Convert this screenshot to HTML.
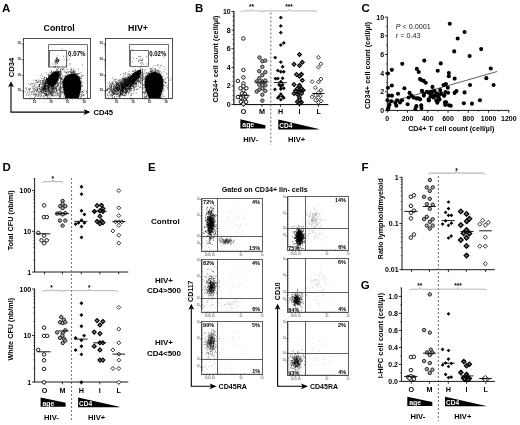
<!DOCTYPE html>
<html><head><meta charset="utf-8"><title>Figure</title>
<style>
html,body{margin:0;padding:0;background:#fff;}
body{width:520px;height:425px;overflow:hidden;font-family:"Liberation Sans",sans-serif;}
svg{display:block;opacity:0.999;font-family:"Liberation Sans",sans-serif;}
</style></head><body>
<svg width="520" height="425" viewBox="0 0 520 425" font-family="Liberation Sans, sans-serif">
<rect width="520" height="425" fill="#fff"/>
<text x="2.00" y="11.90" font-size="11.5" text-anchor="start" fill="#000" font-weight="bold" >A</text>
<text x="195.00" y="11.80" font-size="11.5" text-anchor="start" fill="#000" font-weight="bold" >B</text>
<text x="361.50" y="11.80" font-size="11.5" text-anchor="start" fill="#000" font-weight="bold" >C</text>
<text x="2.40" y="171.00" font-size="11.5" text-anchor="start" fill="#000" font-weight="bold" >D</text>
<text x="148.10" y="171.00" font-size="11.5" text-anchor="start" fill="#000" font-weight="bold" >E</text>
<text x="361.40" y="171.00" font-size="11.5" text-anchor="start" fill="#000" font-weight="bold" >F</text>
<text x="360.70" y="288.70" font-size="11.5" text-anchor="start" fill="#000" font-weight="bold" >G</text>
<rect x="23.5" y="38.5" width="67.00" height="60.00" fill="#fff" stroke="#3a3a3a" stroke-width="0.9"/>
<line x1="21.50" y1="44.00" x2="23.50" y2="44.00" stroke="#111" stroke-width="0.6" />
<text x="21.1" y="44.4" font-size="3.2" font-weight="bold" text-anchor="end" fill="#111" font-family="Liberation Sans, sans-serif">10</text>
<line x1="21.50" y1="59.60" x2="23.50" y2="59.60" stroke="#111" stroke-width="0.6" />
<text x="21.1" y="60.0" font-size="3.2" font-weight="bold" text-anchor="end" fill="#111" font-family="Liberation Sans, sans-serif">10</text>
<line x1="21.50" y1="75.20" x2="23.50" y2="75.20" stroke="#111" stroke-width="0.6" />
<text x="21.1" y="75.6" font-size="3.2" font-weight="bold" text-anchor="end" fill="#111" font-family="Liberation Sans, sans-serif">10</text>
<line x1="21.50" y1="90.80" x2="23.50" y2="90.80" stroke="#111" stroke-width="0.6" />
<text x="21.1" y="91.2" font-size="3.2" font-weight="bold" text-anchor="end" fill="#111" font-family="Liberation Sans, sans-serif">10</text>
<path d="M22.5,39.30h1M22.5,54.90h1M22.5,52.16h1M22.5,50.21h1M22.5,48.70h1M22.5,47.46h1M22.5,46.42h1M22.5,45.51h1M22.5,44.71h1M22.5,70.50h1M22.5,67.76h1M22.5,65.81h1M22.5,64.30h1M22.5,63.06h1M22.5,62.02h1M22.5,61.11h1M22.5,60.31h1M22.5,86.10h1M22.5,83.36h1M22.5,81.41h1M22.5,79.90h1M22.5,78.66h1M22.5,77.62h1M22.5,76.71h1M22.5,75.91h1M22.5,97.01h1M22.5,95.50h1M22.5,94.26h1M22.5,93.22h1M22.5,92.31h1M22.5,91.51h1" stroke="#333" stroke-width="0.4" fill="none"/>
<line x1="34.40" y1="98.50" x2="34.40" y2="100.50" stroke="#111" stroke-width="0.6" />
<text x="34.4" y="103.3" font-size="3.2" font-weight="bold" text-anchor="middle" fill="#222" font-family="Liberation Sans, sans-serif">10</text>
<line x1="50.90" y1="98.50" x2="50.90" y2="100.50" stroke="#111" stroke-width="0.6" />
<text x="50.9" y="103.3" font-size="3.2" font-weight="bold" text-anchor="middle" fill="#222" font-family="Liberation Sans, sans-serif">10</text>
<line x1="67.40" y1="98.50" x2="67.40" y2="100.50" stroke="#111" stroke-width="0.6" />
<text x="67.4" y="103.3" font-size="3.2" font-weight="bold" text-anchor="middle" fill="#222" font-family="Liberation Sans, sans-serif">10</text>
<line x1="83.90" y1="98.50" x2="83.90" y2="100.50" stroke="#111" stroke-width="0.6" />
<text x="83.9" y="103.3" font-size="3.2" font-weight="bold" text-anchor="middle" fill="#222" font-family="Liberation Sans, sans-serif">10</text>
<path d="M25.77,98.5v1M27.83,98.5v1M29.43,98.5v1M30.74,98.5v1M31.84,98.5v1M32.80,98.5v1M33.65,98.5v1M39.37,98.5v1M42.27,98.5v1M44.33,98.5v1M45.93,98.5v1M47.24,98.5v1M48.34,98.5v1M49.30,98.5v1M50.15,98.5v1M55.87,98.5v1M58.77,98.5v1M60.83,98.5v1M62.43,98.5v1M63.74,98.5v1M64.84,98.5v1M65.80,98.5v1M66.65,98.5v1M72.37,98.5v1M75.27,98.5v1M77.33,98.5v1M78.93,98.5v1M80.24,98.5v1M81.34,98.5v1M82.30,98.5v1M83.15,98.5v1M88.87,98.5v1" stroke="#333" stroke-width="0.4" fill="none"/>
<rect x="105.5" y="38.5" width="67.00" height="60.00" fill="#fff" stroke="#3a3a3a" stroke-width="0.9"/>
<line x1="103.50" y1="44.00" x2="105.50" y2="44.00" stroke="#111" stroke-width="0.6" />
<text x="103.1" y="44.4" font-size="3.2" font-weight="bold" text-anchor="end" fill="#111" font-family="Liberation Sans, sans-serif">10</text>
<line x1="103.50" y1="59.60" x2="105.50" y2="59.60" stroke="#111" stroke-width="0.6" />
<text x="103.1" y="60.0" font-size="3.2" font-weight="bold" text-anchor="end" fill="#111" font-family="Liberation Sans, sans-serif">10</text>
<line x1="103.50" y1="75.20" x2="105.50" y2="75.20" stroke="#111" stroke-width="0.6" />
<text x="103.1" y="75.6" font-size="3.2" font-weight="bold" text-anchor="end" fill="#111" font-family="Liberation Sans, sans-serif">10</text>
<line x1="103.50" y1="90.80" x2="105.50" y2="90.80" stroke="#111" stroke-width="0.6" />
<text x="103.1" y="91.2" font-size="3.2" font-weight="bold" text-anchor="end" fill="#111" font-family="Liberation Sans, sans-serif">10</text>
<path d="M104.5,39.30h1M104.5,54.90h1M104.5,52.16h1M104.5,50.21h1M104.5,48.70h1M104.5,47.46h1M104.5,46.42h1M104.5,45.51h1M104.5,44.71h1M104.5,70.50h1M104.5,67.76h1M104.5,65.81h1M104.5,64.30h1M104.5,63.06h1M104.5,62.02h1M104.5,61.11h1M104.5,60.31h1M104.5,86.10h1M104.5,83.36h1M104.5,81.41h1M104.5,79.90h1M104.5,78.66h1M104.5,77.62h1M104.5,76.71h1M104.5,75.91h1M104.5,97.01h1M104.5,95.50h1M104.5,94.26h1M104.5,93.22h1M104.5,92.31h1M104.5,91.51h1" stroke="#333" stroke-width="0.4" fill="none"/>
<line x1="116.40" y1="98.50" x2="116.40" y2="100.50" stroke="#111" stroke-width="0.6" />
<text x="116.4" y="103.3" font-size="3.2" font-weight="bold" text-anchor="middle" fill="#222" font-family="Liberation Sans, sans-serif">10</text>
<line x1="132.90" y1="98.50" x2="132.90" y2="100.50" stroke="#111" stroke-width="0.6" />
<text x="132.9" y="103.3" font-size="3.2" font-weight="bold" text-anchor="middle" fill="#222" font-family="Liberation Sans, sans-serif">10</text>
<line x1="149.40" y1="98.50" x2="149.40" y2="100.50" stroke="#111" stroke-width="0.6" />
<text x="149.4" y="103.3" font-size="3.2" font-weight="bold" text-anchor="middle" fill="#222" font-family="Liberation Sans, sans-serif">10</text>
<line x1="165.90" y1="98.50" x2="165.90" y2="100.50" stroke="#111" stroke-width="0.6" />
<text x="165.9" y="103.3" font-size="3.2" font-weight="bold" text-anchor="middle" fill="#222" font-family="Liberation Sans, sans-serif">10</text>
<path d="M107.77,98.5v1M109.83,98.5v1M111.43,98.5v1M112.74,98.5v1M113.84,98.5v1M114.80,98.5v1M115.65,98.5v1M121.37,98.5v1M124.27,98.5v1M126.33,98.5v1M127.93,98.5v1M129.24,98.5v1M130.34,98.5v1M131.30,98.5v1M132.15,98.5v1M137.87,98.5v1M140.77,98.5v1M142.83,98.5v1M144.43,98.5v1M145.74,98.5v1M146.84,98.5v1M147.80,98.5v1M148.65,98.5v1M154.37,98.5v1M157.27,98.5v1M159.33,98.5v1M160.93,98.5v1M162.24,98.5v1M163.34,98.5v1M164.30,98.5v1M165.15,98.5v1M170.87,98.5v1" stroke="#333" stroke-width="0.4" fill="none"/>
<defs><clipPath id="ca"><rect x="24.0" y="38.6" width="66.7" height="60.0"/></clipPath><clipPath id="cb"><rect x="106.1" y="38.6" width="65.8" height="60.0"/></clipPath><filter id="bl" x="-20%" y="-20%" width="140%" height="140%"><feGaussianBlur stdDeviation="0.45"/></filter></defs>
<g clip-path="url(#ca)">
<path d="M45.3,89.9h.01M48.2,90.4h.01M42.1,87.6h.01M38.7,96.5h.01M41.3,91.2h.01M34.7,84.9h.01M44.2,83.9h.01M57.8,90.2h.01M41.4,92.6h.01M36.9,80.4h.01M51.2,95.0h.01M49.0,91.3h.01M47.8,95.9h.01M36.4,89.1h.01M44.3,87.5h.01M40.8,89.1h.01M32.9,88.6h.01M29.2,94.2h.01M40.6,80.7h.01M33.4,89.9h.01M48.8,93.6h.01M44.6,82.0h.01M44.9,95.1h.01M38.8,84.7h.01M43.9,86.4h.01M45.3,86.3h.01M31.6,92.3h.01M40.1,87.3h.01M35.3,86.9h.01M37.5,89.3h.01M36.1,84.0h.01M44.6,88.8h.01M53.9,91.6h.01M37.7,82.2h.01M44.0,89.3h.01M45.0,85.3h.01M44.2,83.7h.01M35.6,96.4h.01M44.9,86.1h.01M58.9,93.8h.01M30.4,88.5h.01M53.0,89.1h.01M45.7,87.5h.01M38.4,86.5h.01M63.2,87.5h.01M51.4,86.4h.01M35.4,95.0h.01M45.6,88.6h.01M48.5,81.9h.01M43.2,88.9h.01M51.0,87.7h.01M45.8,94.2h.01M49.5,82.6h.01M57.4,85.4h.01M36.7,81.4h.01M47.7,92.0h.01M39.4,84.3h.01M43.5,79.1h.01M34.6,91.5h.01M41.5,96.2h.01M41.1,81.4h.01M31.9,86.1h.01M38.6,92.9h.01M49.5,83.2h.01M26.7,89.8h.01M41.8,93.2h.01M43.1,85.2h.01M56.5,88.4h.01M40.4,83.3h.01M39.2,80.1h.01M57.8,83.7h.01M41.6,91.3h.01M42.3,89.5h.01M48.3,89.0h.01M44.0,89.5h.01M33.8,86.1h.01M42.7,80.8h.01M39.7,84.7h.01M51.7,91.4h.01M46.0,93.4h.01M49.4,82.3h.01M40.1,82.4h.01M53.6,84.7h.01M46.9,96.4h.01M46.1,72.7h.01M34.5,94.8h.01M46.5,82.5h.01M25.8,88.0h.01M41.9,88.2h.01M35.0,83.1h.01M45.0,83.4h.01M38.9,95.3h.01M39.0,88.3h.01M45.5,83.9h.01M46.6,77.8h.01M42.9,87.3h.01M43.2,89.3h.01M51.0,86.9h.01M49.4,87.3h.01M34.4,85.4h.01M44.2,88.8h.01M45.3,88.7h.01M37.3,90.3h.01M46.6,88.2h.01M44.9,85.6h.01M38.8,86.4h.01M43.9,89.0h.01M26.1,88.1h.01M36.0,94.9h.01M48.0,87.6h.01M26.9,95.3h.01M52.1,86.1h.01M28.8,89.2h.01M37.3,89.7h.01M51.0,84.3h.01M46.5,89.9h.01M31.6,92.6h.01M57.6,86.0h.01M42.5,82.0h.01M41.7,86.4h.01M43.2,87.8h.01M33.6,80.2h.01M54.7,86.9h.01M40.5,91.1h.01M44.3,88.3h.01M37.5,88.6h.01M39.0,88.5h.01M32.5,86.8h.01M55.5,84.6h.01M42.9,86.4h.01M53.5,87.2h.01M43.4,82.6h.01M39.3,91.9h.01M42.4,90.5h.01M39.9,89.6h.01M44.4,86.6h.01M42.5,92.8h.01M40.0,80.9h.01M33.7,94.7h.01M38.3,92.2h.01M59.8,86.7h.01M39.7,92.6h.01M34.9,88.0h.01M47.6,86.8h.01M58.1,89.1h.01M33.0,94.7h.01M43.5,90.6h.01M37.3,82.4h.01M30.5,96.0h.01M53.1,93.5h.01M46.2,94.4h.01M46.0,90.1h.01M36.2,82.5h.01M50.3,92.9h.01M40.1,89.5h.01M40.2,75.9h.01M35.9,93.6h.01M32.3,83.9h.01M39.7,86.8h.01M49.3,95.1h.01M44.2,87.1h.01M41.6,91.5h.01M52.7,96.0h.01M42.2,89.2h.01M43.3,88.1h.01M43.4,82.2h.01M51.5,89.7h.01M48.9,90.2h.01M40.3,90.9h.01M34.4,97.5h.01M53.3,86.5h.01M44.8,93.2h.01M50.5,90.8h.01M53.3,92.9h.01M52.8,89.2h.01M52.6,85.2h.01M41.6,92.0h.01M56.7,80.1h.01M31.8,83.2h.01M53.3,90.1h.01M49.2,87.6h.01M53.0,88.6h.01M58.9,75.6h.01M57.4,83.6h.01M34.2,88.5h.01M29.1,88.3h.01M48.9,75.1h.01M35.7,89.6h.01M46.2,93.8h.01M52.8,89.1h.01M29.9,89.6h.01M26.6,93.8h.01M48.3,92.4h.01M41.5,74.2h.01M42.7,88.9h.01M46.1,91.8h.01M38.5,94.6h.01M45.2,95.4h.01M37.0,92.9h.01M31.1,94.4h.01M50.5,92.0h.01M43.7,86.3h.01M48.5,87.8h.01M37.7,96.1h.01M36.1,90.5h.01M37.2,90.8h.01M47.0,89.6h.01M40.1,98.0h.01M48.1,88.0h.01M50.0,96.0h.01M61.2,79.1h.01M32.6,91.3h.01M52.4,85.9h.01M45.3,93.4h.01M46.4,94.6h.01M30.2,84.4h.01M39.7,85.2h.01M51.9,89.1h.01M43.3,85.7h.01M43.5,80.7h.01M44.0,95.2h.01M55.7,88.9h.01M45.5,91.7h.01M25.2,91.6h.01M40.4,96.1h.01M27.5,92.3h.01M39.1,85.4h.01M45.7,90.0h.01M33.8,88.0h.01M37.8,94.8h.01M55.2,87.7h.01M45.1,83.7h.01M45.5,89.3h.01M44.0,87.3h.01M46.6,93.8h.01M51.1,83.8h.01M49.2,85.4h.01M48.6,94.9h.01M39.1,90.9h.01M54.8,87.6h.01M43.6,88.7h.01M43.5,83.8h.01M33.7,92.7h.01M60.6,87.4h.01M56.5,81.2h.01M38.6,81.3h.01M49.2,91.7h.01M47.0,87.7h.01M44.8,90.3h.01M46.6,92.1h.01M35.2,89.7h.01M43.4,92.3h.01M42.2,84.7h.01M54.8,84.3h.01M46.4,82.8h.01M46.6,95.0h.01M58.3,85.3h.01M39.1,86.4h.01M41.1,88.0h.01M28.9,92.1h.01M59.6,89.1h.01M50.3,85.4h.01M48.2,93.6h.01M42.7,89.0h.01M44.2,93.3h.01M57.8,84.2h.01M49.3,85.8h.01M46.2,95.6h.01M40.7,93.0h.01M40.4,94.0h.01M58.2,82.6h.01M48.0,97.9h.01M42.8,92.8h.01M36.3,95.2h.01M41.5,78.4h.01M53.5,90.4h.01M41.3,88.9h.01M43.6,91.8h.01M44.0,93.1h.01M45.5,86.9h.01M28.7,83.7h.01M43.5,91.5h.01M36.5,87.1h.01M52.2,85.2h.01M37.4,87.6h.01M49.5,85.8h.01M55.0,73.2h.01M44.0,96.2h.01M40.1,91.7h.01M48.2,94.5h.01M36.4,91.4h.01M46.4,78.4h.01M61.2,79.6h.01M41.0,83.2h.01M42.5,86.8h.01M36.0,91.9h.01M44.9,77.6h.01M34.6,93.7h.01M33.2,83.6h.01M56.5,87.6h.01M37.0,90.5h.01M54.0,84.8h.01M58.1,85.1h.01M46.5,85.5h.01M48.9,84.5h.01M59.6,75.5h.01M43.2,89.3h.01M47.2,95.9h.01M58.9,89.3h.01M37.5,90.7h.01M40.5,89.8h.01M47.1,86.8h.01M43.3,90.0h.01M46.2,86.2h.01M47.5,87.9h.01M40.9,83.9h.01M44.1,87.1h.01M44.2,88.8h.01M49.0,86.6h.01M62.0,87.5h.01M51.2,91.4h.01M43.9,83.0h.01M30.0,91.8h.01M49.7,93.0h.01M28.5,95.0h.01M32.9,92.9h.01M54.6,95.3h.01M50.2,83.8h.01M43.8,89.8h.01M29.4,90.2h.01M43.9,97.8h.01M36.3,80.2h.01M49.6,84.0h.01M63.9,80.9h.01M47.8,92.0h.01M39.1,94.0h.01M42.3,80.8h.01M44.5,93.4h.01M34.6,90.1h.01M45.1,85.2h.01M35.8,94.5h.01M51.3,75.5h.01M53.9,84.5h.01M38.7,82.1h.01M48.5,84.4h.01M44.4,91.3h.01M42.1,91.6h.01M33.4,91.0h.01M30.3,84.2h.01M42.0,84.6h.01M45.1,82.0h.01M54.3,89.0h.01M29.0,89.6h.01M35.4,80.3h.01M56.2,93.4h.01M51.3,94.5h.01M54.1,89.7h.01M52.6,93.2h.01M55.8,91.9h.01M52.2,90.1h.01M59.4,90.3h.01M54.5,92.2h.01M54.4,92.1h.01M54.5,90.0h.01M43.3,90.5h.01M51.0,95.9h.01M50.4,92.7h.01M53.2,95.1h.01M43.8,96.2h.01M61.8,94.1h.01M44.7,89.1h.01M41.7,94.8h.01M50.3,90.9h.01M47.7,98.0h.01M52.6,85.2h.01M48.2,88.6h.01M55.3,94.3h.01M47.7,94.8h.01M51.8,94.6h.01M57.9,91.8h.01M46.0,94.3h.01M49.2,91.7h.01M47.0,95.6h.01M56.7,84.1h.01M45.1,94.2h.01M49.1,88.4h.01M51.8,95.4h.01M46.1,91.2h.01M46.3,88.9h.01M49.1,93.3h.01M39.4,88.8h.01M43.3,88.8h.01M49.5,86.5h.01M52.9,91.9h.01M50.9,93.7h.01M41.4,95.6h.01M49.2,91.5h.01M56.8,95.7h.01M55.3,92.1h.01M51.5,91.7h.01M46.7,94.0h.01M55.8,95.7h.01M48.5,90.8h.01M45.0,91.1h.01M47.2,91.4h.01M60.7,92.3h.01M53.3,88.8h.01M59.0,95.6h.01M49.1,90.6h.01M57.6,93.6h.01M48.4,89.1h.01M51.1,93.3h.01M56.6,90.5h.01M51.5,93.3h.01M59.3,95.4h.01M49.1,89.7h.01M41.6,90.7h.01M50.3,93.5h.01M52.1,92.2h.01M52.7,92.2h.01M59.9,91.0h.01M53.9,85.7h.01M56.9,91.2h.01M45.4,84.2h.01M57.2,93.3h.01M64.6,89.5h.01M56.6,89.5h.01M53.5,91.2h.01M52.9,93.0h.01M62.7,87.0h.01M46.4,85.9h.01M51.3,88.3h.01M54.8,84.9h.01M56.5,88.6h.01M49.4,97.6h.01M53.8,88.3h.01M50.3,94.3h.01M52.7,87.2h.01M51.2,93.0h.01M45.2,90.9h.01M51.9,91.8h.01M57.3,94.0h.01M50.6,92.7h.01M56.0,92.4h.01M45.6,88.6h.01M53.1,94.0h.01M45.6,91.1h.01M58.8,94.9h.01M65.9,91.8h.01M50.7,85.1h.01M56.4,91.0h.01M52.7,95.1h.01M52.6,90.8h.01M61.3,89.2h.01M44.1,91.1h.01M58.3,87.2h.01M51.7,92.4h.01M53.1,96.0h.01M48.0,88.1h.01M53.7,88.9h.01M56.4,90.6h.01M52.2,95.5h.01M54.9,89.1h.01M48.9,89.6h.01M39.2,95.1h.01M57.4,95.0h.01M56.2,90.7h.01M52.9,88.1h.01M52.4,86.6h.01M58.2,89.6h.01M49.3,84.2h.01M47.8,94.6h.01M50.9,89.8h.01M59.1,93.7h.01M59.2,96.1h.01M48.2,88.0h.01M45.4,95.0h.01M59.6,96.1h.01M51.4,89.4h.01M44.2,88.7h.01M49.8,91.6h.01M57.6,86.4h.01M59.2,97.1h.01M49.4,83.6h.01M46.9,82.2h.01M48.5,84.3h.01M48.8,83.8h.01M58.6,77.1h.01M54.5,66.6h.01M49.0,84.6h.01M54.6,72.4h.01M58.4,68.4h.01M54.7,86.9h.01M61.7,78.6h.01M52.5,72.7h.01M50.9,83.6h.01M58.5,83.9h.01M59.3,74.4h.01M46.8,88.7h.01M46.5,85.5h.01M48.1,83.9h.01M45.9,83.0h.01M45.7,88.3h.01M46.2,91.0h.01M49.7,83.1h.01M50.5,86.4h.01M45.9,83.6h.01M57.4,79.7h.01M57.4,69.5h.01M56.5,80.0h.01M48.0,74.9h.01M51.7,71.0h.01M53.8,71.5h.01M54.5,73.3h.01M55.4,84.7h.01M51.4,86.6h.01M54.8,88.9h.01M50.3,89.3h.01M50.5,85.7h.01M46.2,83.3h.01M46.2,83.8h.01M49.5,83.7h.01M50.3,83.4h.01M56.2,86.3h.01M50.2,85.2h.01M45.5,87.0h.01M45.3,81.7h.01M45.8,89.3h.01M43.9,88.8h.01M45.1,81.1h.01M53.0,73.5h.01M55.0,84.4h.01M45.1,79.3h.01M45.7,87.6h.01M55.6,66.3h.01M48.6,81.0h.01M49.0,87.8h.01M47.9,83.8h.01M49.9,88.0h.01M56.9,79.6h.01M52.4,85.6h.01M56.5,81.3h.01M45.5,82.7h.01M47.2,78.6h.01M43.9,87.7h.01M49.0,86.7h.01M49.3,92.9h.01M49.2,77.1h.01M48.0,78.9h.01M44.9,84.3h.01M55.5,82.1h.01M46.0,89.9h.01M51.7,73.4h.01M51.6,84.3h.01M58.7,77.6h.01M45.6,87.6h.01M50.0,84.7h.01M49.8,86.8h.01M58.8,77.0h.01M56.4,80.5h.01M59.8,75.7h.01M55.1,82.9h.01M50.0,75.8h.01M46.6,86.3h.01M56.6,69.7h.01M56.2,81.9h.01M57.7,77.3h.01M44.3,79.0h.01M60.3,75.0h.01M49.3,81.9h.01M57.7,82.8h.01M48.1,83.7h.01M45.5,83.4h.01M45.7,85.8h.01M49.6,87.8h.01M54.1,73.1h.01M56.1,71.7h.01M63.0,79.3h.01M47.7,82.9h.01M57.9,79.3h.01M51.4,84.9h.01M55.2,82.4h.01M45.2,86.9h.01M49.0,82.0h.01M53.3,85.6h.01M48.9,90.1h.01M51.4,88.8h.01M49.2,77.1h.01M53.9,72.2h.01M48.2,78.7h.01M55.6,83.4h.01M41.5,90.8h.01M55.0,82.5h.01M60.7,71.5h.01M58.6,79.9h.01M53.6,86.3h.01M50.2,74.7h.01M54.8,72.2h.01M57.6,72.6h.01M46.3,80.5h.01M48.5,86.2h.01M42.7,80.6h.01M58.7,72.4h.01M59.5,77.9h.01M49.9,84.9h.01M47.4,88.2h.01M48.1,78.9h.01M51.7,88.1h.01M58.6,80.3h.01M47.2,79.2h.01M59.5,74.6h.01M55.6,88.9h.01M49.7,87.2h.01M59.1,76.9h.01M58.1,74.8h.01M57.7,79.3h.01M57.3,67.2h.01M49.2,83.3h.01M46.4,90.3h.01M51.3,75.3h.01M42.6,84.4h.01M46.4,81.6h.01M45.9,80.8h.01M52.3,90.0h.01M49.0,77.4h.01M44.7,87.2h.01M57.7,77.2h.01M57.5,81.4h.01M44.9,84.6h.01M51.5,74.7h.01M51.6,74.3h.01M54.0,72.9h.01M59.5,73.1h.01M51.5,72.4h.01M47.2,89.2h.01M55.5,72.9h.01M42.3,83.4h.01M59.9,77.5h.01M43.8,81.0h.01M52.8,92.3h.01M52.8,73.8h.01M51.8,86.9h.01M46.2,89.3h.01M51.6,75.4h.01M54.8,73.1h.01M39.6,85.2h.01M61.4,81.5h.01M61.3,71.2h.01M57.1,82.5h.01M49.5,91.2h.01M57.2,81.2h.01M56.1,82.6h.01M44.4,85.1h.01M43.8,81.0h.01M46.7,79.4h.01M52.9,88.8h.01M60.0,75.9h.01M48.4,85.2h.01M52.1,86.4h.01M47.9,80.0h.01M49.3,82.9h.01M49.4,84.7h.01M58.1,80.3h.01M58.1,73.3h.01M47.8,81.9h.01M50.9,76.0h.01M52.0,87.7h.01M55.7,87.2h.01M62.8,68.1h.01M58.8,74.6h.01M48.1,84.3h.01M46.1,92.6h.01M49.3,82.2h.01M44.1,82.9h.01M43.9,84.7h.01M48.8,85.4h.01M51.1,84.0h.01M52.2,73.3h.01M52.6,88.1h.01M58.6,75.6h.01M53.8,85.3h.01M47.0,79.9h.01M54.4,84.7h.01M45.9,85.8h.01M44.3,77.5h.01M55.8,88.4h.01M54.2,85.2h.01M44.1,86.4h.01M59.0,71.7h.01M47.7,85.4h.01M49.8,76.2h.01M59.6,72.3h.01M57.5,78.9h.01M62.8,77.3h.01M46.0,85.3h.01M48.7,75.6h.01M51.8,74.6h.01M58.1,78.7h.01M53.9,73.3h.01M56.2,73.0h.01M47.8,89.6h.01M49.0,81.8h.01M58.4,73.1h.01M60.4,74.1h.01M56.2,87.8h.01M45.7,84.8h.01M51.3,85.2h.01M54.1,71.6h.01M60.9,76.4h.01M48.1,94.7h.01M52.8,86.9h.01M59.7,83.4h.01M57.4,78.9h.01M50.0,91.6h.01M59.7,72.1h.01M54.3,83.7h.01M47.4,82.5h.01M49.8,82.9h.01M59.4,71.0h.01M48.6,87.5h.01M41.5,87.8h.01M53.9,87.9h.01M51.8,86.6h.01M58.8,74.9h.01M50.2,85.1h.01M51.0,73.4h.01M65.7,76.4h.01M48.5,76.1h.01M49.5,90.9h.01M53.5,72.5h.01M58.6,78.9h.01M48.0,85.1h.01M44.5,88.8h.01M57.5,80.8h.01M46.7,83.2h.01M57.5,77.4h.01M44.6,84.4h.01M49.4,87.6h.01M44.0,78.4h.01M49.9,83.4h.01M44.7,85.2h.01M52.2,88.0h.01M52.4,74.7h.01M55.5,83.0h.01M59.4,78.2h.01M58.4,73.3h.01M53.4,74.2h.01M47.5,86.5h.01M48.9,91.0h.01M48.5,85.4h.01M60.6,78.5h.01M47.4,83.5h.01M49.4,75.7h.01M52.9,85.5h.01M48.2,85.9h.01M63.1,76.1h.01M50.0,83.7h.01M51.5,71.3h.01M47.6,85.7h.01M48.4,84.0h.01M45.7,80.9h.01M48.6,85.0h.01M52.3,74.4h.01M52.0,74.4h.01M55.0,83.1h.01M67.0,65.3h.01M57.9,70.9h.01M51.2,87.0h.01M46.2,77.4h.01M46.3,83.8h.01M50.2,85.0h.01M56.9,82.1h.01M48.1,82.6h.01M49.0,89.0h.01M50.2,88.6h.01M47.6,84.1h.01M42.7,89.2h.01M55.7,86.2h.01M55.8,72.7h.01M55.5,73.0h.01M61.1,78.2h.01M56.9,81.0h.01M57.8,73.9h.01M50.9,85.1h.01M45.2,82.8h.01M42.8,92.6h.01M49.3,83.9h.01M50.2,72.4h.01M65.8,65.9h.01M48.6,83.9h.01M48.0,81.4h.01M48.3,87.1h.01M55.6,72.7h.01M45.1,85.9h.01M48.0,85.8h.01M52.7,85.4h.01M53.9,72.8h.01M55.4,83.4h.01M47.2,79.9h.01M49.6,75.3h.01M46.6,81.7h.01M44.7,80.0h.01M48.1,78.9h.01M56.3,72.6h.01M46.7,82.1h.01M52.7,72.9h.01M47.8,81.4h.01M59.2,73.5h.01M54.1,73.1h.01M51.0,84.1h.01M48.4,75.4h.01M54.0,83.9h.01M58.9,77.2h.01M54.8,82.9h.01M56.6,81.3h.01M42.1,89.7h.01M62.4,69.5h.01M42.7,82.5h.01M48.7,73.4h.01M55.3,72.7h.01M45.5,80.4h.01M47.5,90.1h.01M49.5,82.8h.01M46.3,83.8h.01M47.6,83.6h.01M52.2,91.4h.01M46.9,83.5h.01M55.8,83.8h.01M55.3,67.5h.01M57.4,79.0h.01M61.7,72.7h.01M55.9,70.9h.01M49.7,82.8h.01M46.3,81.6h.01M48.8,78.0h.01M49.2,89.2h.01M44.7,87.3h.01M61.7,78.4h.01M49.2,84.8h.01M53.6,87.3h.01M51.5,75.2h.01M58.1,78.9h.01M55.4,72.1h.01M58.2,77.0h.01M56.8,70.2h.01M45.7,81.6h.01M76.5,74.8h.01M77.6,96.6h.01M62.3,83.1h.01M81.5,85.1h.01M74.1,71.9h.01M80.6,87.9h.01M61.5,91.6h.01M72.1,75.4h.01M62.0,84.0h.01M79.5,94.5h.01M63.0,84.9h.01M77.2,73.4h.01M82.6,91.6h.01M63.6,81.9h.01M81.1,89.3h.01M77.0,74.5h.01M66.8,96.6h.01M75.0,74.0h.01M68.1,74.8h.01M76.1,77.1h.01M70.4,97.1h.01M68.3,97.6h.01M78.8,90.9h.01M78.7,76.7h.01M79.2,86.7h.01M66.3,97.1h.01M58.0,85.2h.01M79.6,91.2h.01M68.4,96.9h.01M64.6,93.9h.01M79.9,89.6h.01M64.8,75.0h.01M66.4,95.0h.01M73.7,97.3h.01M75.7,73.8h.01M66.7,94.4h.01M65.3,97.6h.01M66.3,96.2h.01M64.9,76.5h.01M81.6,81.0h.01M74.6,73.9h.01M65.0,82.4h.01M83.8,95.6h.01M73.3,71.5h.01M80.1,84.6h.01M78.4,94.8h.01M73.5,68.9h.01M66.4,72.3h.01M81.9,94.5h.01M76.2,96.8h.01M64.4,86.7h.01M86.3,91.9h.01M67.2,78.3h.01M65.5,95.6h.01M76.5,77.4h.01M65.2,87.9h.01M82.3,95.4h.01M63.2,93.2h.01M72.1,97.1h.01M80.5,85.1h.01M81.0,76.6h.01M74.9,75.0h.01M65.9,75.6h.01M74.5,97.4h.01M63.5,91.3h.01M79.2,87.3h.01M64.0,89.5h.01M65.5,89.2h.01M79.0,89.8h.01M78.0,79.7h.01M64.7,84.3h.01M61.9,92.3h.01M74.1,72.1h.01M72.0,97.6h.01M80.5,85.1h.01M78.1,80.0h.01M78.7,93.0h.01M81.1,94.8h.01M72.3,97.9h.01M70.6,72.1h.01M67.0,75.9h.01M79.9,91.6h.01M64.5,93.0h.01M79.0,93.7h.01M59.9,90.2h.01M65.1,92.9h.01M74.6,96.7h.01M84.1,90.4h.01M67.2,76.4h.01M64.2,86.2h.01M68.4,98.0h.01M66.4,76.2h.01M71.8,73.4h.01M62.6,87.8h.01M68.0,71.7h.01M79.7,73.4h.01M61.4,78.0h.01M63.1,69.6h.01M79.9,96.7h.01M64.0,94.4h.01M78.9,87.9h.01M59.3,88.2h.01M64.2,83.4h.01M83.8,75.4h.01M59.9,91.2h.01M79.0,90.7h.01M76.4,75.6h.01M66.7,95.0h.01M65.6,72.2h.01M77.2,74.9h.01M73.4,71.2h.01M64.8,80.8h.01M71.6,70.9h.01M69.3,97.8h.01M81.5,96.0h.01M70.8,63.9h.01M71.7,72.6h.01M78.5,73.6h.01M68.6,72.9h.01M78.1,94.0h.01M70.0,75.1h.01M69.7,76.6h.01M62.8,79.1h.01M66.2,77.4h.01M64.1,82.1h.01M72.5,97.7h.01M73.9,97.1h.01M66.1,94.0h.01M66.4,76.7h.01M80.2,87.3h.01M65.3,92.8h.01M63.3,83.8h.01M61.3,73.8h.01M64.4,87.1h.01M62.1,79.2h.01M70.6,74.4h.01M81.1,91.6h.01M64.0,85.9h.01M65.3,95.5h.01M64.6,84.2h.01M65.4,92.7h.01M78.2,91.9h.01M60.2,89.2h.01M82.4,91.4h.01M80.2,87.1h.01M70.9,98.0h.01M72.5,74.6h.01M69.9,75.1h.01M79.0,76.4h.01M65.4,80.6h.01M76.9,97.9h.01M68.4,77.0h.01M71.7,97.2h.01M81.2,92.1h.01M61.5,87.2h.01M65.5,89.6h.01M81.7,86.6h.01M81.4,78.7h.01M72.6,72.4h.01M75.6,75.5h.01M81.3,82.4h.01M86.5,93.1h.01M58.8,76.7h.01M80.6,88.0h.01M80.6,97.4h.01M60.1,86.9h.01M66.5,72.4h.01M76.9,77.3h.01M65.4,88.6h.01M81.8,74.8h.01M75.3,73.5h.01M65.4,96.1h.01M73.9,71.0h.01M79.1,95.1h.01M76.5,75.6h.01M80.9,78.1h.01M71.9,75.5h.01M79.4,91.5h.01M74.6,76.5h.01M79.5,87.2h.01M75.6,73.0h.01M83.9,95.4h.01M71.4,69.4h.01M65.1,93.6h.01M73.2,76.1h.01M80.3,78.5h.01M83.3,92.5h.01M74.0,73.8h.01M73.3,70.0h.01M79.9,94.3h.01M67.0,73.3h.01M62.4,85.8h.01M71.9,70.3h.01M66.2,94.4h.01M66.3,67.8h.01M63.6,80.9h.01M74.8,71.7h.01M65.1,81.2h.01M77.3,75.3h.01M70.3,72.2h.01M78.8,91.7h.01M71.6,74.6h.01M71.4,96.8h.01M78.4,92.3h.01M78.3,91.0h.01M73.4,73.0h.01M63.8,82.7h.01M78.9,81.4h.01M78.0,74.4h.01M78.5,69.0h.01M74.1,73.2h.01M70.0,97.3h.01M62.5,82.8h.01M66.7,78.7h.01M70.0,71.6h.01M79.0,96.0h.01M79.8,90.4h.01M63.6,85.3h.01M69.7,75.4h.01M71.0,74.9h.01M76.4,97.8h.01M68.0,76.9h.01M63.7,87.0h.01M79.6,92.8h.01M76.7,77.1h.01M81.9,93.6h.01M82.8,91.9h.01M66.3,95.4h.01M73.7,74.5h.01M78.9,77.1h.01M81.7,76.5h.01M70.8,75.9h.01M74.9,97.2h.01M72.4,97.7h.01M71.7,75.7h.01M62.5,90.4h.01M64.9,84.6h.01M77.4,95.2h.01M62.7,92.3h.01M64.1,88.8h.01M79.3,76.9h.01M63.5,81.9h.01M70.0,71.7h.01M73.4,72.4h.01M80.5,92.7h.01M68.3,77.5h.01M69.8,76.5h.01M80.8,78.3h.01M60.9,93.6h.01M79.3,78.2h.01M64.5,70.8h.01M76.3,77.6h.01M78.8,90.4h.01M61.6,78.3h.01M78.5,81.3h.01M78.6,95.6h.01M78.4,93.2h.01M62.0,82.8h.01M80.0,86.7h.01M65.5,79.7h.01M71.3,75.1h.01M80.1,88.8h.01M71.6,73.3h.01M63.4,87.6h.01M75.3,75.6h.01M75.5,97.2h.01M73.6,96.6h.01M62.3,80.9h.01M63.5,92.6h.01M72.1,72.0h.01M79.7,80.6h.01M61.5,88.3h.01M61.9,69.0h.01M64.8,82.2h.01M80.8,85.1h.01M71.1,68.2h.01M64.5,85.6h.01M64.4,79.1h.01M72.3,74.4h.01M62.1,81.3h.01M71.6,96.6h.01M67.2,60.7h.01M66.0,76.8h.01M78.5,96.1h.01M71.2,97.2h.01M78.4,91.0h.01M74.1,96.8h.01M82.8,83.0h.01M86.3,90.8h.01M69.5,64.0h.01M65.2,94.5h.01M65.1,90.1h.01M72.0,72.0h.01M60.2,85.5h.01M64.2,90.8h.01M80.7,87.7h.01M77.0,77.9h.01M65.7,97.4h.01M74.2,72.9h.01M59.4,88.1h.01M75.6,70.7h.01M65.4,94.2h.01M68.9,71.9h.01M67.6,69.4h.01M81.3,82.6h.01M76.3,97.8h.01M79.6,86.9h.01M79.0,86.0h.01M70.5,69.6h.01M78.6,93.9h.01M64.5,85.7h.01M81.4,96.3h.01M79.7,87.5h.01M70.4,96.8h.01M60.1,92.1h.01M83.6,94.3h.01M63.2,81.5h.01M67.9,75.3h.01M79.8,91.5h.01M74.8,75.2h.01M78.9,81.7h.01M82.5,86.0h.01M67.0,75.1h.01M64.5,87.2h.01M82.3,85.8h.01M64.6,89.1h.01M62.7,92.1h.01M63.8,96.9h.01M59.2,92.6h.01M79.7,90.0h.01M76.8,73.8h.01M77.7,97.6h.01M59.2,82.7h.01M82.2,75.3h.01M60.8,91.1h.01M63.5,82.8h.01M56.4,83.4h.01M62.2,75.3h.01M61.7,83.5h.01M64.1,72.1h.01M61.5,74.4h.01M52.6,74.3h.01M81.0,72.6h.01M42.8,76.4h.01M59.7,75.3h.01M71.8,72.9h.01M78.7,73.5h.01M57.6,77.3h.01M79.9,83.5h.01M79.7,90.0h.01M79.5,82.0h.01M69.9,76.5h.01M57.2,78.9h.01M66.9,72.2h.01M62.9,70.1h.01M45.0,87.6h.01M79.8,86.2h.01M44.4,85.0h.01M56.6,86.4h.01M57.8,85.1h.01M56.1,64.1h.01M55.3,60.9h.01M55.3,64.1h.01M57.4,63.3h.01M58.2,61.3h.01M55.0,62.7h.01M59.1,61.0h.01M58.7,59.8h.01M56.3,60.7h.01M56.2,59.7h.01M56.7,62.1h.01M58.1,61.2h.01M56.3,62.2h.01M55.4,62.6h.01M57.3,55.9h.01M54.1,61.7h.01M57.0,58.1h.01M58.3,61.5h.01M57.2,59.7h.01M57.8,61.4h.01M57.4,63.5h.01M57.7,58.3h.01M57.0,61.5h.01M55.7,61.1h.01M56.5,58.0h.01M56.7,62.3h.01M58.4,61.3h.01M58.9,60.3h.01M57.3,60.0h.01M55.8,66.7h.01M55.9,60.5h.01M56.6,58.1h.01M58.6,59.6h.01M57.2,60.6h.01M56.7,60.5h.01M55.8,61.1h.01M57.9,59.4h.01M57.2,62.1h.01M56.7,60.4h.01M56.9,58.9h.01M53.8,66.2h.01M58.2,67.0h.01M70.5,56.5h.01M66.8,59.5h.01M58.6,76.8h.01M62.2,49.2h.01M64.2,59.8h.01M82.4,65.1h.01M55.8,59.2h.01M66.7,63.2h.01M69.3,59.4h.01M52.5,64.0h.01M63.9,68.3h.01M63.6,56.2h.01M57.3,59.6h.01M67.7,57.6h.01" fill="none" stroke="#000" stroke-width="0.62" stroke-linecap="round" opacity="1.0"/>
<g filter="url(#bl)">
<path d="M58.8,71.4 L58.9,76.0 L56.4,82.0 L52.8,86.8 L48.8,83.6 L46.4,79.6 L51.2,74.6 L55.6,71.9Z" fill="#000" stroke="#000" stroke-width="0.8" stroke-linejoin="round"/>
<path d="M72.5,73.8 L76.4,74.8 L79.2,77.6 L80.8,82.8 L80.5,89.4 L79.0,95.1 L77.8,99.5 L66.0,99.5 L64.4,92.7 L63.2,86.1 L63.2,81.1 L64.8,77.6 L68.6,74.8Z" fill="#000" stroke="#000" stroke-width="0.8" stroke-linejoin="round"/>
</g></g>
<path d="M48.5,67.5 V44.5 H87.5 V98.5 H60.5 V68.6" fill="none" stroke="#4a4a4a" stroke-width="0.8"/>
<rect x="49.5" y="50.5" width="17.0" height="16.5" fill="none" stroke="#4a4a4a" stroke-width="0.8"/>
<text x="68.10" y="56.30" font-size="6.4" text-anchor="start" fill="#000" font-weight="bold" textLength="17.50" lengthAdjust="spacingAndGlyphs" >0.07%</text>
<g clip-path="url(#cb)">
<path d="M130.2,87.8h.01M125.3,78.0h.01M124.8,87.7h.01M135.3,83.6h.01M140.0,80.5h.01M138.5,82.6h.01M126.5,88.3h.01M140.6,83.1h.01M127.0,86.6h.01M127.3,80.9h.01M138.5,77.2h.01M123.2,85.2h.01M130.3,76.2h.01M127.8,78.3h.01M132.9,88.9h.01M123.9,84.3h.01M130.9,80.9h.01M125.6,82.5h.01M121.9,86.4h.01M124.3,81.3h.01M124.8,80.1h.01M122.2,84.9h.01M124.5,87.3h.01M133.5,87.5h.01M130.1,85.9h.01M125.1,93.0h.01M127.5,85.7h.01M120.9,83.5h.01M124.8,85.8h.01M132.1,71.5h.01M124.8,92.4h.01M123.5,88.2h.01M133.0,84.0h.01M122.8,85.8h.01M125.2,80.0h.01M126.0,83.0h.01M119.9,94.6h.01M122.9,95.4h.01M122.0,85.1h.01M128.1,82.7h.01M120.6,87.8h.01M128.8,77.7h.01M128.6,84.4h.01M128.3,84.7h.01M128.7,78.0h.01M126.3,77.6h.01M133.3,83.0h.01M126.8,80.2h.01M126.8,83.2h.01M124.0,84.7h.01M129.1,80.2h.01M125.6,81.0h.01M124.5,79.0h.01M136.7,83.6h.01M131.8,81.5h.01M126.0,93.5h.01M127.5,86.1h.01M125.4,85.5h.01M127.5,88.6h.01M125.3,84.5h.01M124.4,87.3h.01M131.4,85.5h.01M122.9,79.0h.01M121.6,86.7h.01M120.1,88.4h.01M124.0,78.5h.01M130.6,84.4h.01M128.0,80.0h.01M124.2,79.6h.01M125.7,83.4h.01M117.4,84.2h.01M128.3,79.3h.01M127.9,83.5h.01M128.9,82.1h.01M140.2,82.6h.01M131.4,82.5h.01M121.8,83.3h.01M124.9,83.3h.01M120.8,86.4h.01M120.8,88.3h.01M129.1,80.1h.01M141.2,79.8h.01M128.9,82.9h.01M127.3,82.6h.01M123.5,85.9h.01M133.6,84.7h.01M127.3,85.9h.01M134.4,83.0h.01M125.5,72.7h.01M121.2,90.1h.01M134.5,82.6h.01M133.6,87.1h.01M127.3,84.1h.01M123.8,79.7h.01M138.2,77.8h.01M133.9,71.5h.01M122.6,85.1h.01M128.2,87.6h.01M135.6,82.4h.01M125.0,88.7h.01M123.7,82.5h.01M125.8,95.4h.01M135.2,73.0h.01M128.3,77.3h.01M132.7,85.1h.01M128.0,85.2h.01M129.0,86.3h.01M125.7,85.0h.01M123.1,79.6h.01M127.0,88.2h.01M136.8,80.3h.01M127.6,82.1h.01M127.8,84.8h.01M121.9,94.6h.01M132.4,81.7h.01M123.0,87.5h.01M119.0,84.4h.01M119.4,87.8h.01M130.6,81.7h.01M130.5,80.5h.01M129.7,82.4h.01M125.0,88.8h.01M122.9,88.5h.01M128.3,85.9h.01M125.9,85.9h.01M127.3,83.9h.01M122.8,80.5h.01M134.1,83.8h.01M129.7,76.9h.01M122.9,90.8h.01M123.8,86.8h.01M129.5,86.8h.01M126.5,84.8h.01M128.6,79.1h.01M122.4,92.2h.01M128.5,83.4h.01M124.7,90.1h.01M130.7,84.7h.01M127.1,85.1h.01M128.6,76.7h.01M127.9,81.9h.01M130.7,88.7h.01M118.4,90.6h.01M126.8,89.3h.01M131.1,80.6h.01M122.1,88.0h.01M120.6,83.2h.01M131.4,84.7h.01M125.8,87.0h.01M126.5,83.5h.01M127.7,79.1h.01M129.0,83.6h.01M130.1,87.5h.01M127.1,79.9h.01M125.5,87.2h.01M130.2,75.3h.01M128.5,74.1h.01M124.3,85.3h.01M128.7,82.1h.01M129.1,80.3h.01M114.5,92.2h.01M127.7,86.3h.01M139.2,78.7h.01M122.7,91.3h.01M128.0,86.3h.01M123.9,73.3h.01M129.8,78.1h.01M121.5,89.5h.01M126.1,78.4h.01M135.8,83.2h.01M123.7,88.1h.01M127.7,81.2h.01M130.1,78.8h.01M118.2,93.3h.01M127.6,82.0h.01M128.1,77.7h.01M126.5,82.2h.01M128.6,82.6h.01M141.1,68.9h.01M130.6,86.6h.01M122.5,83.4h.01M133.7,86.2h.01M129.4,86.0h.01M125.9,81.4h.01M129.0,83.3h.01M135.0,82.9h.01M129.8,81.3h.01M121.3,83.9h.01M128.7,83.4h.01M135.2,86.0h.01M124.1,80.6h.01M135.5,80.0h.01M124.4,85.9h.01M129.8,80.5h.01M138.3,79.7h.01M130.0,84.4h.01M131.3,76.9h.01M129.1,89.0h.01M120.0,84.6h.01M133.0,82.4h.01M130.6,82.3h.01M133.8,83.9h.01M129.7,83.7h.01M132.7,84.2h.01M126.7,84.4h.01M133.2,83.4h.01M133.1,88.3h.01M123.4,92.0h.01M126.5,86.7h.01M131.2,82.9h.01M125.8,79.3h.01M120.7,83.8h.01M132.2,83.2h.01M129.6,76.0h.01M125.2,91.6h.01M131.9,81.6h.01M131.3,81.3h.01M124.8,87.8h.01M121.6,87.1h.01M131.8,84.9h.01M126.1,89.7h.01M137.8,81.1h.01M125.8,84.5h.01M135.9,70.6h.01M125.8,87.9h.01M132.2,83.7h.01M120.4,92.8h.01M136.3,82.4h.01M129.0,83.2h.01M131.2,85.4h.01M124.8,87.3h.01M127.2,77.1h.01M123.1,85.5h.01M123.9,85.1h.01M128.1,85.6h.01M121.8,84.9h.01M121.2,85.0h.01M125.6,85.3h.01M127.8,84.0h.01M131.1,85.1h.01M134.3,81.9h.01M128.2,84.4h.01M127.6,84.3h.01M129.5,82.9h.01M136.0,83.7h.01M127.4,73.9h.01M126.4,84.1h.01M120.4,90.8h.01M141.2,77.9h.01M131.3,76.5h.01M131.0,82.6h.01M132.4,83.7h.01M125.9,83.4h.01M120.8,81.5h.01M126.9,83.0h.01M125.8,80.5h.01M127.6,86.6h.01M120.8,85.8h.01M131.2,88.3h.01M125.3,82.4h.01M128.3,81.3h.01M117.5,87.3h.01M129.0,84.4h.01M131.5,86.9h.01M123.1,86.5h.01M123.1,91.2h.01M129.2,78.8h.01M126.1,86.4h.01M135.9,86.8h.01M124.5,80.7h.01M134.4,83.6h.01M129.9,86.9h.01M118.6,83.3h.01M125.9,79.4h.01M125.7,81.4h.01M134.1,82.8h.01M126.2,83.2h.01M127.0,83.7h.01M134.5,81.4h.01M133.4,83.9h.01M136.5,83.8h.01M130.3,80.4h.01M127.9,80.5h.01M131.1,83.8h.01M141.0,75.2h.01M125.3,77.6h.01M128.5,84.1h.01M124.8,80.6h.01M127.4,80.7h.01M131.8,83.8h.01M122.3,84.6h.01M120.8,90.7h.01M129.7,80.7h.01M125.6,93.3h.01M130.1,81.5h.01M127.5,79.2h.01M132.2,75.8h.01M131.1,81.7h.01M126.6,84.6h.01M125.7,89.3h.01M125.8,85.9h.01M129.6,82.9h.01M120.3,90.9h.01M129.2,82.1h.01M129.7,83.5h.01M133.6,82.3h.01M129.1,85.8h.01M128.5,80.9h.01M122.3,80.8h.01M125.4,82.3h.01M121.6,89.7h.01M124.8,75.9h.01M130.8,83.2h.01M129.7,79.9h.01M122.4,83.3h.01M139.1,82.0h.01M128.3,88.9h.01M132.2,85.6h.01M127.3,89.4h.01M131.6,76.1h.01M134.5,89.4h.01M128.1,79.6h.01M130.7,80.4h.01M126.9,80.0h.01M127.5,84.2h.01M128.7,77.7h.01M127.2,84.1h.01M131.5,85.1h.01M126.5,85.6h.01M121.8,87.3h.01M129.1,88.9h.01M125.1,82.1h.01M131.1,85.0h.01M121.8,89.2h.01M129.8,82.3h.01M119.2,90.9h.01M124.2,86.2h.01M125.2,82.5h.01M117.7,89.2h.01M121.5,90.4h.01M129.6,81.8h.01M127.2,79.4h.01M127.2,81.2h.01M124.1,83.7h.01M128.7,83.6h.01M125.3,85.9h.01M124.7,80.5h.01M128.9,71.1h.01M129.7,81.9h.01M128.8,76.1h.01M128.3,79.4h.01M122.0,83.2h.01M134.8,80.7h.01M127.4,79.0h.01M125.0,86.9h.01M124.6,84.1h.01M131.0,76.1h.01M124.3,79.9h.01M130.2,83.6h.01M131.2,84.1h.01M125.7,92.6h.01M130.0,80.4h.01M130.8,77.5h.01M140.2,81.9h.01M124.0,78.9h.01M137.8,77.5h.01M124.1,84.5h.01M132.1,75.8h.01M130.4,81.2h.01M130.1,80.0h.01M128.6,80.6h.01M136.6,79.4h.01M129.5,77.9h.01M126.7,86.1h.01M130.0,79.2h.01M125.8,85.3h.01M127.5,84.7h.01M125.3,81.4h.01M124.7,82.7h.01M128.9,79.1h.01M139.1,77.6h.01M136.6,80.9h.01M131.9,73.6h.01M122.9,78.2h.01M130.5,77.8h.01M129.1,79.7h.01M125.3,79.0h.01M123.4,79.6h.01M127.7,85.6h.01M126.2,81.4h.01M120.0,82.7h.01M135.9,86.4h.01M129.2,83.0h.01M128.8,81.3h.01M131.9,83.0h.01M130.8,78.0h.01M129.4,88.6h.01M125.5,79.0h.01M119.0,84.9h.01M118.5,90.0h.01M118.6,87.5h.01M133.9,81.2h.01M109.3,88.3h.01M118.1,90.7h.01M126.0,88.6h.01M125.5,79.2h.01M129.6,79.6h.01M127.8,91.1h.01M141.3,81.9h.01M120.3,90.5h.01M123.8,84.3h.01M129.4,82.8h.01M121.4,89.8h.01M120.1,85.7h.01M117.8,83.5h.01M118.1,88.8h.01M115.6,94.1h.01M117.1,84.1h.01M112.5,96.0h.01M127.3,88.9h.01M109.1,87.9h.01M139.6,81.0h.01M136.6,81.9h.01M132.9,86.5h.01M122.5,90.4h.01M116.4,83.1h.01M130.8,77.7h.01M126.2,90.9h.01M127.7,85.8h.01M118.0,90.9h.01M132.1,85.3h.01M119.1,95.9h.01M122.1,81.5h.01M111.0,96.7h.01M116.6,85.4h.01M128.2,88.7h.01M121.6,94.0h.01M117.4,82.4h.01M130.0,86.4h.01M122.0,86.0h.01M132.5,82.2h.01M125.9,80.9h.01M125.6,81.4h.01M111.8,94.3h.01M114.0,94.4h.01M129.1,82.0h.01M112.3,83.9h.01M129.5,90.0h.01M121.0,89.5h.01M125.2,81.2h.01M115.2,87.0h.01M125.8,87.2h.01M130.1,79.8h.01M128.1,92.9h.01M128.8,86.8h.01M121.9,82.4h.01M114.4,85.8h.01M109.6,93.2h.01M137.5,80.4h.01M117.5,87.6h.01M136.0,83.8h.01M123.0,88.1h.01M114.7,97.2h.01M123.5,85.9h.01M124.1,81.7h.01M127.3,85.4h.01M133.7,90.2h.01M115.0,87.2h.01M127.0,85.8h.01M128.3,83.4h.01M121.5,89.5h.01M116.0,90.8h.01M114.2,86.3h.01M128.6,83.9h.01M130.8,88.7h.01M118.1,94.1h.01M113.8,94.8h.01M134.2,87.1h.01M110.1,90.1h.01M123.7,85.0h.01M118.0,93.3h.01M107.2,87.1h.01M123.9,86.4h.01M118.6,79.7h.01M133.9,81.2h.01M140.0,77.4h.01M119.6,82.4h.01M132.1,86.5h.01M130.2,80.9h.01M118.3,87.0h.01M115.7,88.4h.01M122.3,94.1h.01M122.0,85.0h.01M121.0,88.7h.01M119.9,81.9h.01M117.5,86.8h.01M128.5,83.5h.01M132.5,82.1h.01M119.1,85.6h.01M112.3,91.6h.01M125.8,93.5h.01M111.0,90.8h.01M117.7,88.3h.01M132.2,81.8h.01M145.4,91.1h.01M128.5,92.8h.01M115.4,92.5h.01M130.3,87.8h.01M117.2,88.4h.01M135.4,83.5h.01M129.1,85.4h.01M110.7,87.4h.01M108.6,88.5h.01M130.6,86.7h.01M123.1,88.5h.01M115.0,79.8h.01M126.4,86.2h.01M120.4,94.1h.01M106.7,89.9h.01M129.8,85.7h.01M115.6,82.7h.01M116.3,93.5h.01M110.7,86.2h.01M123.1,81.0h.01M116.1,88.0h.01M131.6,95.3h.01M119.9,85.2h.01M129.6,78.6h.01M120.6,90.1h.01M118.2,89.9h.01M112.3,84.8h.01M126.3,78.2h.01M146.8,76.9h.01M113.6,92.3h.01M115.3,91.5h.01M127.4,90.7h.01M124.5,79.3h.01M116.4,85.5h.01M123.4,86.2h.01M111.5,95.2h.01M121.4,89.9h.01M129.5,82.6h.01M123.0,91.3h.01M122.4,91.8h.01M130.8,97.2h.01M131.5,83.1h.01M129.4,92.5h.01M115.2,84.1h.01M125.0,83.7h.01M129.7,81.4h.01M116.6,87.1h.01M111.0,87.2h.01M126.2,83.3h.01M125.8,85.7h.01M130.0,82.3h.01M124.7,89.6h.01M117.8,88.5h.01M119.5,88.3h.01M117.1,96.2h.01M116.0,91.1h.01M118.8,89.3h.01M119.2,88.3h.01M132.0,84.1h.01M114.2,93.0h.01M121.4,83.8h.01M120.1,93.6h.01M137.3,89.4h.01M126.9,91.1h.01M119.3,86.0h.01M127.1,77.9h.01M122.9,85.0h.01M119.5,89.0h.01M136.5,86.1h.01M128.4,84.2h.01M136.3,80.7h.01M134.6,90.1h.01M128.2,81.9h.01M125.8,91.1h.01M115.9,94.0h.01M126.7,79.3h.01M124.1,88.0h.01M127.6,82.7h.01M121.6,83.0h.01M114.8,81.2h.01M112.7,83.3h.01M129.3,86.7h.01M132.8,81.6h.01M121.2,89.0h.01M125.1,81.2h.01M133.6,81.6h.01M116.1,88.3h.01M118.0,81.4h.01M111.7,83.2h.01M133.1,85.5h.01M125.4,86.9h.01M118.0,84.4h.01M109.8,91.4h.01M122.7,90.3h.01M133.9,91.9h.01M119.4,84.1h.01M120.7,90.8h.01M131.5,94.1h.01M113.4,90.8h.01M125.8,93.1h.01M123.9,74.3h.01M119.2,95.4h.01M116.5,89.3h.01M122.2,78.3h.01M123.6,90.6h.01M122.9,92.1h.01M126.6,91.5h.01M126.8,91.4h.01M115.8,89.5h.01M116.7,85.7h.01M126.0,83.7h.01M132.0,83.6h.01M134.5,84.8h.01M115.7,87.4h.01M131.9,84.0h.01M130.5,88.5h.01M123.4,88.4h.01M130.6,95.3h.01M133.1,93.7h.01M113.9,87.6h.01M125.9,79.7h.01M120.3,82.4h.01M122.4,89.9h.01M130.7,79.5h.01M128.0,80.2h.01M114.7,88.8h.01M122.2,91.2h.01M124.4,84.8h.01M111.5,89.5h.01M131.5,88.4h.01M123.3,89.2h.01M125.2,88.4h.01M127.3,90.0h.01M123.8,87.8h.01M119.4,85.3h.01M138.5,86.3h.01M120.5,91.9h.01M117.4,84.0h.01M114.3,96.6h.01M130.0,78.9h.01M127.2,91.1h.01M127.3,86.5h.01M123.2,82.8h.01M120.4,82.6h.01M116.5,87.9h.01M117.0,89.1h.01M125.5,82.7h.01M125.1,89.0h.01M117.2,89.1h.01M119.4,88.4h.01M112.3,81.9h.01M134.6,84.3h.01M111.5,85.1h.01M125.5,74.1h.01M121.8,86.4h.01M130.4,88.7h.01M122.5,94.3h.01M112.4,97.8h.01M126.3,91.1h.01M125.4,92.6h.01M117.7,90.7h.01M129.8,81.9h.01M127.0,88.7h.01M120.6,92.6h.01M119.6,89.4h.01M111.3,90.1h.01M119.3,80.8h.01M141.0,83.7h.01M118.2,90.5h.01M124.5,80.2h.01M119.1,88.9h.01M130.7,87.7h.01M126.6,85.2h.01M122.6,91.0h.01M110.3,95.3h.01M116.9,82.1h.01M132.3,82.2h.01M122.1,89.7h.01M129.6,89.0h.01M121.6,94.3h.01M126.5,85.4h.01M126.9,89.1h.01M120.6,93.8h.01M122.9,95.2h.01M124.1,82.1h.01M118.0,87.1h.01M124.4,81.5h.01M122.9,91.0h.01M124.0,92.4h.01M120.0,92.7h.01M117.4,91.4h.01M123.1,76.5h.01M118.4,85.4h.01M128.7,88.6h.01M129.7,77.7h.01M124.0,85.5h.01M110.9,90.9h.01M118.9,92.8h.01M130.9,85.5h.01M121.7,88.8h.01M116.2,87.4h.01M122.6,87.2h.01M127.0,84.9h.01M126.5,89.3h.01M128.1,84.3h.01M118.4,93.7h.01M118.5,80.5h.01M123.2,92.8h.01M122.8,86.3h.01M108.5,97.8h.01M121.5,88.0h.01M114.0,94.4h.01M136.6,89.3h.01M136.7,82.4h.01M129.4,83.9h.01M119.8,89.2h.01M128.4,77.2h.01M121.4,86.8h.01M127.7,84.1h.01M115.0,86.2h.01M118.4,87.8h.01M124.6,79.0h.01M139.5,87.8h.01M123.8,88.9h.01M144.0,88.5h.01M143.7,75.3h.01M111.4,85.6h.01M123.5,88.2h.01M113.2,82.5h.01M122.6,88.3h.01M118.0,85.4h.01M122.3,85.7h.01M131.3,85.2h.01M130.8,84.4h.01M128.3,94.1h.01M124.3,89.6h.01M122.2,81.0h.01M125.8,90.7h.01M125.8,79.5h.01M123.5,87.3h.01M125.4,80.1h.01M111.7,87.1h.01M131.6,90.2h.01M136.3,79.5h.01M123.8,83.6h.01M111.3,88.6h.01M133.5,81.7h.01M123.0,94.0h.01M119.7,82.2h.01M129.0,87.6h.01M123.9,79.0h.01M132.6,81.7h.01M130.0,89.9h.01M124.3,86.5h.01M107.0,90.5h.01M113.4,87.0h.01M123.3,82.4h.01M127.8,82.4h.01M115.4,90.4h.01M120.4,93.9h.01M128.5,89.6h.01M107.4,89.9h.01M106.8,89.3h.01M122.6,90.5h.01M122.5,78.4h.01M118.9,86.3h.01M121.8,82.0h.01M111.3,86.4h.01M129.0,86.4h.01M120.0,80.1h.01M124.0,82.2h.01M127.4,82.2h.01M119.3,88.7h.01M127.7,78.6h.01M134.8,87.9h.01M126.0,84.3h.01M133.4,81.9h.01M117.8,87.1h.01M129.5,81.3h.01M123.9,81.8h.01M117.3,94.5h.01M123.0,87.9h.01M118.9,87.8h.01M120.5,92.6h.01M122.9,83.5h.01M132.7,86.4h.01M120.8,87.8h.01M122.9,82.6h.01M112.9,94.2h.01M121.8,80.1h.01M133.4,86.2h.01M128.3,80.6h.01M127.7,87.1h.01M121.3,94.1h.01M116.5,92.0h.01M121.6,84.4h.01M112.7,90.5h.01M113.0,88.7h.01M128.9,79.0h.01M114.3,84.6h.01M137.6,81.7h.01M112.8,93.1h.01M124.0,78.0h.01M113.9,89.8h.01M125.5,88.4h.01M115.2,90.2h.01M122.1,82.3h.01M123.7,91.5h.01M117.8,82.8h.01M128.3,88.0h.01M137.7,89.1h.01M115.4,79.7h.01M130.7,85.2h.01M124.4,87.8h.01M123.4,87.7h.01M139.4,77.1h.01M115.7,82.7h.01M109.2,92.4h.01M121.6,89.8h.01M120.4,84.5h.01M152.0,71.7h.01M125.3,83.6h.01M137.5,81.4h.01M133.6,83.2h.01M119.6,87.5h.01M127.2,85.5h.01M120.4,74.5h.01M125.9,88.6h.01M129.4,91.2h.01M109.2,84.9h.01M115.8,86.1h.01M126.4,86.9h.01M129.0,89.1h.01M117.0,92.0h.01M122.7,93.0h.01M122.2,86.7h.01M122.7,88.8h.01M129.4,86.4h.01M123.4,84.5h.01M126.4,91.2h.01M113.0,93.3h.01M116.4,93.8h.01M125.2,84.0h.01M112.2,95.6h.01M123.7,81.4h.01M118.6,90.2h.01M112.8,77.9h.01M126.8,80.5h.01M119.0,91.7h.01M115.7,87.2h.01M118.1,89.3h.01M121.2,79.6h.01M107.3,95.3h.01M123.0,86.6h.01M121.9,89.1h.01M131.3,85.3h.01M122.4,93.7h.01M131.4,76.6h.01M114.2,88.7h.01M124.7,92.2h.01M113.2,93.0h.01M113.8,88.0h.01M120.2,90.6h.01M130.2,84.6h.01M130.8,86.8h.01M116.0,81.6h.01M125.8,81.4h.01M121.2,90.5h.01M123.7,85.4h.01M124.9,87.7h.01M131.1,93.1h.01M117.8,87.1h.01M122.5,88.0h.01M124.0,83.7h.01M122.9,83.7h.01M116.7,88.6h.01M116.2,79.1h.01M131.2,90.2h.01M124.6,85.6h.01M134.5,87.9h.01M139.6,81.4h.01M122.5,90.1h.01M114.5,93.2h.01M122.3,81.2h.01M142.9,85.2h.01M125.6,81.1h.01M113.7,91.1h.01M133.8,83.1h.01M114.5,97.8h.01M121.1,85.7h.01M121.7,90.1h.01M140.4,80.6h.01M121.4,89.3h.01M116.3,84.7h.01M117.2,90.4h.01M128.7,77.2h.01M126.7,81.3h.01M110.4,94.4h.01M127.2,82.2h.01M126.8,81.1h.01M116.5,83.8h.01M125.1,86.6h.01M124.7,84.4h.01M119.5,88.7h.01M118.2,87.6h.01M120.6,96.4h.01M120.3,85.6h.01M109.5,82.2h.01M122.9,87.3h.01M111.2,91.0h.01M123.9,87.1h.01M120.0,80.1h.01M116.6,94.4h.01M129.8,84.1h.01M138.4,80.9h.01M131.2,76.2h.01M113.0,92.6h.01M133.1,82.7h.01M126.9,91.7h.01M122.0,85.1h.01M116.5,83.2h.01M123.2,87.2h.01M128.0,86.9h.01M118.1,83.3h.01M117.6,88.1h.01M119.4,86.9h.01M127.7,84.8h.01M137.1,79.1h.01M113.4,86.3h.01M123.0,86.4h.01M113.2,93.0h.01M117.6,85.2h.01M115.1,90.5h.01M116.4,88.2h.01M128.4,91.3h.01M118.6,84.4h.01M121.5,87.8h.01M120.1,86.0h.01M114.0,93.0h.01M106.7,90.0h.01M123.5,89.2h.01M125.6,90.3h.01M120.4,82.8h.01M120.8,91.4h.01M119.7,86.5h.01M116.8,89.1h.01M119.2,89.3h.01M117.9,93.5h.01M120.3,92.7h.01M112.6,91.7h.01M121.2,87.4h.01M114.3,88.5h.01M119.4,96.6h.01M131.4,85.2h.01M122.9,90.3h.01M122.5,90.3h.01M112.2,91.2h.01M108.1,88.6h.01M113.8,79.9h.01M117.0,87.9h.01M112.2,95.5h.01M118.6,90.8h.01M120.9,80.1h.01M121.8,89.3h.01M108.0,83.9h.01M117.4,90.9h.01M111.4,86.0h.01M121.2,92.8h.01M129.1,84.7h.01M130.1,90.3h.01M119.5,89.8h.01M124.8,83.8h.01M130.2,90.7h.01M116.7,84.5h.01M120.3,95.3h.01M123.8,89.2h.01M116.3,85.9h.01M112.2,83.3h.01M112.8,97.8h.01M118.4,96.1h.01M111.7,85.7h.01M124.5,95.9h.01M114.9,91.3h.01M128.2,87.3h.01M126.4,88.1h.01M107.8,90.7h.01M126.5,94.6h.01M114.4,91.3h.01M126.3,80.7h.01M117.7,93.8h.01M121.6,84.7h.01M112.9,89.4h.01M119.2,85.9h.01M120.3,89.8h.01M116.6,91.9h.01M120.5,90.6h.01M109.5,89.0h.01M121.0,86.1h.01M108.9,95.2h.01M122.0,88.9h.01M122.2,85.8h.01M113.8,94.1h.01M140.3,86.3h.01M115.2,87.3h.01M119.6,95.5h.01M111.9,91.6h.01M127.6,84.5h.01M113.7,89.4h.01M125.7,93.0h.01M109.5,86.3h.01M120.8,95.4h.01M115.2,93.4h.01M124.3,87.7h.01M116.3,96.1h.01M121.4,92.0h.01M108.7,92.4h.01M124.4,95.3h.01M123.1,88.2h.01M114.4,89.7h.01M110.4,89.6h.01M118.3,83.5h.01M123.0,93.0h.01M113.3,91.2h.01M116.4,90.7h.01M124.6,94.9h.01M122.8,86.7h.01M117.2,89.9h.01M112.1,92.2h.01M110.3,89.5h.01M113.1,90.4h.01M123.3,92.4h.01M122.0,89.3h.01M120.9,95.2h.01M127.5,85.1h.01M115.6,91.3h.01M113.8,84.6h.01M114.7,90.1h.01M131.4,84.6h.01M120.4,92.8h.01M121.4,91.6h.01M119.5,97.6h.01M136.2,93.0h.01M127.0,91.5h.01M123.0,86.2h.01M110.0,85.2h.01M121.4,89.3h.01M114.7,89.0h.01M117.6,87.3h.01M119.1,88.6h.01M113.0,83.8h.01M123.6,95.4h.01M129.1,83.1h.01M125.0,85.9h.01M119.8,92.1h.01M126.6,92.5h.01M126.5,92.5h.01M116.2,89.0h.01M113.5,86.1h.01M122.4,87.2h.01M110.5,83.4h.01M124.8,94.8h.01M109.9,91.7h.01M110.5,88.1h.01M117.3,86.2h.01M107.5,94.3h.01M119.0,96.3h.01M120.9,84.0h.01M107.7,89.3h.01M123.5,81.4h.01M114.2,93.6h.01M122.1,90.0h.01M114.4,90.1h.01M113.7,88.9h.01M113.4,94.5h.01M111.0,84.2h.01M130.6,91.0h.01M125.6,89.7h.01M107.4,89.7h.01M123.2,85.2h.01M120.4,94.1h.01M121.0,87.5h.01M124.2,91.2h.01M115.5,87.8h.01M119.0,88.7h.01M109.8,86.2h.01M119.2,89.1h.01M117.3,89.8h.01M112.6,89.1h.01M111.2,88.0h.01M119.0,83.0h.01M123.4,83.2h.01M119.7,85.5h.01M112.1,93.8h.01M123.1,86.9h.01M118.6,86.2h.01M122.8,92.0h.01M127.0,90.9h.01M110.8,88.0h.01M116.5,87.5h.01M114.1,93.6h.01M111.8,92.7h.01M132.1,83.9h.01M125.1,89.8h.01M121.9,94.1h.01M113.2,87.1h.01M127.1,92.2h.01M118.9,91.7h.01M115.9,86.0h.01M119.8,94.3h.01M121.5,93.3h.01M117.2,84.4h.01M116.1,85.3h.01M138.9,78.0h.01M144.4,70.9h.01M136.8,79.3h.01M125.7,84.8h.01M131.3,81.5h.01M132.4,75.2h.01M132.4,83.6h.01M129.5,80.0h.01M130.1,74.9h.01M124.6,83.9h.01M140.4,78.4h.01M131.2,81.0h.01M135.9,72.8h.01M135.4,80.9h.01M129.4,77.7h.01M130.3,76.2h.01M129.9,87.1h.01M127.6,76.1h.01M130.3,86.0h.01M135.7,71.2h.01M135.5,84.0h.01M129.5,74.3h.01M140.2,67.4h.01M140.3,76.5h.01M130.0,81.8h.01M130.0,81.1h.01M126.8,80.8h.01M144.5,73.3h.01M134.9,81.0h.01M138.1,80.7h.01M129.8,82.4h.01M127.0,82.0h.01M139.1,70.8h.01M138.3,71.6h.01M131.9,73.6h.01M135.5,69.4h.01M130.8,78.0h.01M141.2,75.3h.01M129.2,81.6h.01M141.9,77.0h.01M129.1,80.4h.01M134.2,71.9h.01M129.1,88.6h.01M138.4,76.5h.01M131.1,85.8h.01M126.9,79.5h.01M140.1,77.5h.01M129.1,74.1h.01M131.1,77.0h.01M140.4,79.8h.01M139.5,71.3h.01M133.2,84.2h.01M126.3,83.7h.01M138.6,75.9h.01M137.6,71.9h.01M126.4,84.0h.01M137.3,72.2h.01M130.5,78.2h.01M129.9,82.7h.01M130.4,80.2h.01M130.9,77.2h.01M128.4,81.9h.01M122.4,85.1h.01M135.4,81.3h.01M132.3,82.4h.01M140.1,71.3h.01M136.1,84.8h.01M132.9,82.0h.01M142.4,73.6h.01M141.9,78.1h.01M132.8,82.3h.01M139.4,77.0h.01M138.3,79.0h.01M136.8,84.1h.01M137.7,79.0h.01M129.6,79.9h.01M126.1,82.7h.01M132.9,81.8h.01M131.3,80.5h.01M133.7,73.8h.01M137.4,70.2h.01M129.1,80.1h.01M137.0,72.1h.01M140.3,78.9h.01M140.1,75.7h.01M128.5,78.4h.01M135.3,72.8h.01M140.5,83.0h.01M139.2,76.3h.01M135.0,72.6h.01M130.0,82.2h.01M130.6,81.2h.01M128.1,80.0h.01M133.0,70.3h.01M141.4,74.3h.01M130.0,76.3h.01M138.4,79.2h.01M130.6,82.7h.01M140.0,76.7h.01M163.5,79.4h.01M146.7,97.3h.01M151.4,97.2h.01M152.1,69.0h.01M155.5,70.5h.01M156.6,97.6h.01M156.9,74.7h.01M146.2,92.9h.01M142.4,77.9h.01M158.9,95.2h.01M163.8,85.7h.01M157.3,74.6h.01M154.4,72.9h.01M147.0,96.3h.01M157.0,96.5h.01M160.5,88.8h.01M144.7,86.8h.01M146.1,89.1h.01M160.4,97.8h.01M160.7,88.2h.01M164.2,96.3h.01M152.6,97.1h.01M144.2,97.9h.01M146.9,73.7h.01M163.1,87.1h.01M146.3,90.5h.01M154.8,97.9h.01M142.6,75.5h.01M161.8,73.2h.01M149.9,95.6h.01M153.5,97.3h.01M149.1,75.5h.01M155.7,74.8h.01M147.5,88.2h.01M146.8,78.4h.01M143.6,78.1h.01M159.4,94.8h.01M144.9,93.0h.01M154.0,96.7h.01M162.8,80.4h.01M162.0,86.8h.01M150.4,97.6h.01M159.8,94.3h.01M159.2,72.8h.01M165.9,78.1h.01M161.5,91.3h.01M152.8,70.3h.01M154.2,96.6h.01M147.5,91.1h.01M146.6,85.2h.01M142.9,84.2h.01M144.2,87.5h.01M147.0,91.0h.01M159.1,70.8h.01M149.8,75.2h.01M146.7,96.1h.01M147.6,74.1h.01M146.3,83.3h.01M163.6,84.8h.01M156.7,73.1h.01M146.0,90.8h.01M158.7,95.0h.01M146.4,88.9h.01M163.0,76.1h.01M147.4,87.9h.01M146.0,83.4h.01M145.4,96.7h.01M157.3,96.5h.01M147.9,75.9h.01M153.6,97.4h.01M153.9,73.9h.01M160.9,88.1h.01M152.9,70.3h.01M143.0,93.2h.01M156.2,70.2h.01M150.3,96.1h.01M152.9,97.5h.01M143.4,92.6h.01M142.9,87.7h.01M163.8,88.8h.01M162.1,79.4h.01M151.7,97.8h.01M150.8,68.3h.01M162.5,85.5h.01M158.6,96.1h.01M146.0,90.0h.01M146.7,64.0h.01M154.9,72.5h.01M148.9,95.8h.01M148.1,91.9h.01M156.0,74.2h.01M159.5,97.0h.01M144.3,97.2h.01M161.2,82.4h.01M146.9,88.5h.01M143.1,91.8h.01M146.6,90.3h.01M155.8,73.4h.01M153.2,74.8h.01M168.2,84.0h.01M164.1,66.8h.01M162.7,85.4h.01M163.7,81.1h.01M144.5,85.2h.01M153.4,71.7h.01M148.0,77.4h.01M152.0,70.3h.01M145.3,89.6h.01M140.7,87.4h.01M163.0,76.8h.01M162.7,87.9h.01M160.1,97.8h.01M159.9,94.4h.01M162.0,87.0h.01M161.2,82.3h.01M160.1,65.2h.01M152.1,73.7h.01M165.8,86.4h.01M151.0,68.8h.01M144.5,92.2h.01M147.8,90.7h.01M144.9,79.2h.01M155.2,69.8h.01M151.8,72.5h.01M160.0,67.5h.01M149.9,97.6h.01M162.8,96.8h.01M151.1,70.2h.01M154.3,74.5h.01M146.4,89.7h.01M156.2,71.7h.01M155.7,68.6h.01M154.2,68.6h.01M145.4,86.4h.01M161.3,88.6h.01M148.8,74.9h.01M151.6,71.8h.01M155.5,96.4h.01M144.4,94.0h.01M140.9,76.1h.01M144.3,96.0h.01M153.1,73.0h.01M147.8,93.6h.01M146.0,82.7h.01M146.3,75.1h.01M147.1,93.6h.01M168.8,94.3h.01M159.7,95.0h.01M142.3,85.0h.01M160.7,90.3h.01M142.7,86.0h.01M145.3,69.6h.01M150.4,96.0h.01M170.0,80.3h.01M165.5,82.6h.01M152.8,71.5h.01M148.3,92.8h.01M165.2,82.2h.01M164.4,81.8h.01M147.3,79.0h.01M152.3,96.5h.01M147.3,91.9h.01M146.0,76.2h.01M138.6,81.7h.01M151.8,73.1h.01M166.3,82.5h.01M154.7,96.8h.01M157.7,65.2h.01M149.3,96.5h.01M145.8,92.1h.01M155.4,71.8h.01M160.2,91.7h.01M155.3,96.4h.01M148.1,90.8h.01M160.5,75.3h.01M154.0,73.9h.01M159.3,76.0h.01M149.3,74.1h.01M147.0,86.4h.01M147.4,91.0h.01M145.4,77.8h.01M160.7,74.3h.01M149.4,93.3h.01M146.1,86.0h.01M145.8,89.7h.01M160.7,88.7h.01M152.3,75.0h.01M153.2,97.1h.01M160.7,96.4h.01M154.4,71.1h.01M151.1,71.0h.01M167.0,85.7h.01M156.4,96.4h.01M148.0,77.9h.01M146.2,73.1h.01M157.1,70.8h.01M153.0,97.8h.01M163.3,71.8h.01M145.3,87.4h.01M148.4,77.5h.01M147.5,90.8h.01M146.2,90.0h.01M159.0,97.2h.01M138.0,78.5h.01M146.7,95.5h.01M157.9,96.4h.01M162.1,91.7h.01M146.4,81.1h.01M153.3,96.6h.01M160.3,75.0h.01M164.6,90.2h.01M158.9,71.6h.01M141.7,78.7h.01M160.2,97.5h.01M160.4,74.1h.01M147.6,87.9h.01M147.8,92.1h.01M161.4,81.0h.01M161.9,90.6h.01M146.4,87.2h.01M141.8,80.9h.01M159.9,95.3h.01M161.5,84.1h.01M146.0,78.7h.01M147.3,93.1h.01M149.6,97.0h.01M158.0,71.7h.01M146.2,86.7h.01M146.6,76.6h.01M158.4,74.7h.01M149.6,96.3h.01M154.8,69.7h.01M149.6,96.7h.01M159.0,95.9h.01M147.0,96.0h.01M167.5,77.4h.01M149.5,94.3h.01M159.1,74.0h.01M144.2,90.8h.01M155.0,65.4h.01M149.3,75.2h.01M164.1,85.5h.01M157.8,96.8h.01M154.3,96.7h.01M161.5,90.6h.01M151.4,96.5h.01M147.7,88.9h.01M144.9,93.0h.01M147.3,73.5h.01M149.7,72.1h.01M157.6,98.0h.01M150.6,73.8h.01M153.3,96.9h.01M150.7,71.3h.01M149.7,74.0h.01M146.7,90.6h.01M159.8,98.0h.01M145.5,86.5h.01M146.9,81.1h.01M143.9,85.4h.01M149.8,73.8h.01M155.6,96.5h.01M165.2,83.3h.01M159.9,95.5h.01M147.3,88.3h.01M155.1,72.1h.01M145.2,94.0h.01M158.1,97.7h.01M147.8,75.3h.01M150.0,69.0h.01M152.4,74.7h.01M154.4,96.8h.01M148.3,93.8h.01M159.0,74.6h.01M152.7,74.4h.01M163.1,89.0h.01M149.0,94.6h.01M160.1,92.0h.01M160.7,91.3h.01M158.9,75.9h.01M157.7,70.7h.01M162.8,92.0h.01M149.4,94.1h.01M159.4,95.8h.01M162.0,95.1h.01M162.7,85.9h.01M142.9,84.5h.01M146.9,86.6h.01M149.9,76.1h.01M148.4,72.6h.01M151.1,69.1h.01M157.9,64.9h.01M162.1,82.0h.01M145.1,97.4h.01M155.2,74.0h.01M146.3,72.4h.01M146.9,89.6h.01M161.4,97.3h.01M148.9,73.1h.01M155.4,71.8h.01M167.4,87.6h.01M160.3,95.6h.01M167.5,89.0h.01M143.5,73.4h.01M146.4,91.4h.01M157.1,97.6h.01M144.1,77.6h.01M157.3,70.7h.01M150.8,71.6h.01M163.0,91.4h.01M154.5,97.9h.01M147.9,77.3h.01M153.8,72.9h.01M160.2,91.4h.01M154.6,72.2h.01M148.4,91.6h.01M160.5,91.0h.01M144.7,82.0h.01M150.7,70.9h.01M138.3,84.5h.01M153.9,74.5h.01M162.0,83.4h.01M161.1,94.3h.01M162.7,86.7h.01M166.1,73.2h.01M158.7,96.3h.01M145.3,75.8h.01M144.6,78.9h.01M162.8,88.8h.01M154.5,96.4h.01M161.6,93.0h.01M153.1,66.9h.01M146.2,83.8h.01M160.6,89.1h.01M161.2,90.5h.01M150.2,95.4h.01M162.7,85.0h.01M161.5,87.9h.01M147.5,79.5h.01M146.8,80.6h.01M157.9,97.5h.01M161.7,88.5h.01M150.8,75.0h.01M159.9,93.3h.01M152.8,73.9h.01M145.1,83.6h.01M145.8,97.3h.01M146.2,84.7h.01M156.4,96.6h.01M162.7,94.6h.01M149.8,74.1h.01M161.5,89.3h.01M142.2,80.2h.01M145.1,92.1h.01M165.2,79.0h.01M143.7,76.5h.01M155.2,72.8h.01M155.7,74.8h.01M160.6,71.8h.01M159.5,72.1h.01M138.6,78.1h.01M150.9,71.7h.01M132.5,61.7h.01M130.4,84.2h.01M142.0,84.0h.01M134.8,70.8h.01M155.5,74.6h.01M147.3,76.2h.01M149.0,73.9h.01M148.0,75.6h.01M147.7,77.0h.01M145.7,77.0h.01M142.4,74.3h.01M145.1,78.3h.01M158.5,69.8h.01M146.1,85.4h.01M165.0,69.4h.01M147.9,77.7h.01M164.2,79.9h.01M138.3,80.2h.01M143.4,79.5h.01M155.3,72.5h.01M170.9,78.9h.01M144.6,84.6h.01M167.0,74.6h.01M159.0,75.7h.01M145.6,77.1h.01M142.8,80.5h.01M159.2,73.9h.01M142.2,60.1h.01M138.8,61.2h.01M140.6,56.7h.01M139.8,59.9h.01M139.1,59.9h.01M136.4,58.5h.01M142.1,60.1h.01M138.3,56.3h.01M138.3,61.5h.01M141.2,62.4h.01M139.7,56.7h.01M142.6,59.9h.01M142.2,62.9h.01M140.7,60.5h.01M133.0,67.0h.01M133.4,58.3h.01M151.7,56.6h.01M161.5,65.7h.01M132.4,49.9h.01M143.6,64.1h.01M135.5,66.3h.01M140.4,63.4h.01M146.3,56.7h.01M142.8,58.1h.01M136.4,44.5h.01M164.1,57.1h.01M141.6,60.5h.01M141.4,65.0h.01" fill="none" stroke="#000" stroke-width="0.62" stroke-linecap="round" opacity="1.0"/>
<g filter="url(#bl)">
<path d="M140.5,69.6 L141.2,72.6 L138.5,77.6 L134.6,81.6 L131.6,82.8 L129.6,80.6 L130.4,77.2 L133.4,73.4Z" fill="#000" stroke="#000" stroke-width="0.8" stroke-linejoin="round"/>
<path d="M154.5,72.3 L158.6,73.2 L161.6,76.0 L163.0,81.0 L162.8,87.5 L161.0,93.5 L159.0,99.5 L149.8,99.5 L147.0,92.5 L145.2,86.0 L145.0,81.0 L146.6,76.4 L150.4,73.2Z" fill="#000" stroke="#000" stroke-width="0.8" stroke-linejoin="round"/>
</g></g>
<path d="M129.5,66.5 V44.5 H168.5 V98.5 H142.5 V68.8" fill="none" stroke="#4a4a4a" stroke-width="0.8"/>
<rect x="130.5" y="50.5" width="18.0" height="16.0" fill="none" stroke="#4a4a4a" stroke-width="0.8"/>
<text x="149.20" y="56.30" font-size="6.4" text-anchor="start" fill="#000" font-weight="bold" textLength="17.20" lengthAdjust="spacingAndGlyphs" >0.02%</text>
<text x="59.20" y="31.40" font-size="8.8" text-anchor="middle" fill="#000" font-weight="bold" >Control</text>
<text x="138.00" y="31.40" font-size="8.8" text-anchor="middle" fill="#000" font-weight="bold" >HIV+</text>
<text x="14.20" y="67.50" font-size="7.6" text-anchor="middle" fill="#000" font-weight="bold" transform="rotate(-90 14.20 67.50)" >CD34</text>
<path d="M11.00,85.50 L11.00,112.10 L86.00,112.10" fill="none" stroke="#000" stroke-width="1.1"/>
<polygon points="11.00,81.30 8.10,87.30 11.00,85.70 13.90,87.30" fill="#000"/>
<polygon points="90.60,112.10 83.60,109.20 85.20,112.10 83.60,115.00" fill="#000"/>
<text x="93.40" y="115.00" font-size="7.7" text-anchor="start" fill="#000" font-weight="bold" >CD45</text>
<line x1="233.90" y1="11.10" x2="233.90" y2="105.10" stroke="#000" stroke-width="1.1" />
<line x1="233.40" y1="104.60" x2="328.30" y2="104.60" stroke="#000" stroke-width="1.0" />
<line x1="231.50" y1="104.60" x2="233.90" y2="104.60" stroke="#000" stroke-width="0.8" />
<text x="230.70" y="107.10" font-size="7.0" text-anchor="end" fill="#000" font-weight="bold" >0</text>
<line x1="231.50" y1="85.98" x2="233.90" y2="85.98" stroke="#000" stroke-width="0.8" />
<text x="230.70" y="88.48" font-size="7.0" text-anchor="end" fill="#000" font-weight="bold" >2</text>
<line x1="231.50" y1="67.36" x2="233.90" y2="67.36" stroke="#000" stroke-width="0.8" />
<text x="230.70" y="69.86" font-size="7.0" text-anchor="end" fill="#000" font-weight="bold" >4</text>
<line x1="231.50" y1="48.74" x2="233.90" y2="48.74" stroke="#000" stroke-width="0.8" />
<text x="230.70" y="51.24" font-size="7.0" text-anchor="end" fill="#000" font-weight="bold" >6</text>
<line x1="231.50" y1="30.12" x2="233.90" y2="30.12" stroke="#000" stroke-width="0.8" />
<text x="230.70" y="32.62" font-size="7.0" text-anchor="end" fill="#000" font-weight="bold" >8</text>
<line x1="231.50" y1="11.50" x2="233.90" y2="11.50" stroke="#000" stroke-width="0.8" />
<text x="230.70" y="14.00" font-size="7.0" text-anchor="end" fill="#000" font-weight="bold" >10</text>
<line x1="232.40" y1="99.94" x2="233.90" y2="99.94" stroke="#000" stroke-width="0.55" />
<line x1="232.40" y1="95.29" x2="233.90" y2="95.29" stroke="#000" stroke-width="0.55" />
<line x1="232.40" y1="90.63" x2="233.90" y2="90.63" stroke="#000" stroke-width="0.55" />
<line x1="232.40" y1="81.32" x2="233.90" y2="81.32" stroke="#000" stroke-width="0.55" />
<line x1="232.40" y1="76.67" x2="233.90" y2="76.67" stroke="#000" stroke-width="0.55" />
<line x1="232.40" y1="72.01" x2="233.90" y2="72.01" stroke="#000" stroke-width="0.55" />
<line x1="232.40" y1="62.70" x2="233.90" y2="62.70" stroke="#000" stroke-width="0.55" />
<line x1="232.40" y1="58.05" x2="233.90" y2="58.05" stroke="#000" stroke-width="0.55" />
<line x1="232.40" y1="53.39" x2="233.90" y2="53.39" stroke="#000" stroke-width="0.55" />
<line x1="232.40" y1="44.08" x2="233.90" y2="44.08" stroke="#000" stroke-width="0.55" />
<line x1="232.40" y1="39.43" x2="233.90" y2="39.43" stroke="#000" stroke-width="0.55" />
<line x1="232.40" y1="34.77" x2="233.90" y2="34.77" stroke="#000" stroke-width="0.55" />
<line x1="232.40" y1="25.46" x2="233.90" y2="25.46" stroke="#000" stroke-width="0.55" />
<line x1="232.40" y1="20.81" x2="233.90" y2="20.81" stroke="#000" stroke-width="0.55" />
<line x1="232.40" y1="16.15" x2="233.90" y2="16.15" stroke="#000" stroke-width="0.55" />
<line x1="243.60" y1="104.60" x2="243.60" y2="106.80" stroke="#000" stroke-width="0.8" />
<text x="243.60" y="114.40" font-size="7.2" text-anchor="middle" fill="#000" font-weight="bold" >O</text>
<line x1="262.00" y1="104.60" x2="262.00" y2="106.80" stroke="#000" stroke-width="0.8" />
<text x="262.00" y="114.40" font-size="7.2" text-anchor="middle" fill="#000" font-weight="bold" >M</text>
<line x1="280.60" y1="104.60" x2="280.60" y2="106.80" stroke="#000" stroke-width="0.8" />
<text x="280.60" y="114.40" font-size="7.2" text-anchor="middle" fill="#000" font-weight="bold" >H</text>
<line x1="299.40" y1="104.60" x2="299.40" y2="106.80" stroke="#000" stroke-width="0.8" />
<text x="299.40" y="114.40" font-size="7.2" text-anchor="middle" fill="#000" font-weight="bold" >I</text>
<line x1="318.60" y1="104.60" x2="318.60" y2="106.80" stroke="#000" stroke-width="0.8" />
<text x="318.60" y="114.40" font-size="7.2" text-anchor="middle" fill="#000" font-weight="bold" >L</text>
<text x="217.60" y="59.00" font-size="7.3" text-anchor="middle" fill="#000" font-weight="bold" transform="rotate(-90 217.60 59.00)" textLength="87.00" lengthAdjust="spacingAndGlyphs" >CD34+ cell count (cell/µl)</text>
<line x1="270.80" y1="12.50" x2="270.80" y2="145.00" stroke="#777" stroke-width="1.1" stroke-dasharray="2 2"/>
<circle cx="243.41" cy="70.00" r="1.75" fill="#fff" stroke="#111" stroke-width="0.95"/>
<circle cx="243.41" cy="77.41" r="1.75" fill="#fff" stroke="#111" stroke-width="0.95"/>
<circle cx="237.88" cy="80.94" r="1.75" fill="#fff" stroke="#111" stroke-width="0.95"/>
<circle cx="243.41" cy="83.53" r="1.75" fill="#fff" stroke="#111" stroke-width="0.95"/>
<circle cx="243.41" cy="86.12" r="1.75" fill="#fff" stroke="#111" stroke-width="0.95"/>
<circle cx="240.47" cy="88.24" r="1.75" fill="#fff" stroke="#111" stroke-width="0.95"/>
<circle cx="246.35" cy="88.24" r="1.75" fill="#fff" stroke="#111" stroke-width="0.95"/>
<circle cx="243.41" cy="90.35" r="1.75" fill="#fff" stroke="#111" stroke-width="0.95"/>
<circle cx="242.00" cy="93.53" r="1.75" fill="#fff" stroke="#111" stroke-width="0.95"/>
<circle cx="244.94" cy="94.12" r="1.75" fill="#fff" stroke="#111" stroke-width="0.95"/>
<circle cx="237.88" cy="97.06" r="1.75" fill="#fff" stroke="#111" stroke-width="0.95"/>
<circle cx="243.41" cy="95.88" r="1.75" fill="#fff" stroke="#111" stroke-width="0.95"/>
<circle cx="246.35" cy="96.71" r="1.75" fill="#fff" stroke="#111" stroke-width="0.95"/>
<circle cx="240.82" cy="97.88" r="1.75" fill="#fff" stroke="#111" stroke-width="0.95"/>
<circle cx="243.41" cy="98.82" r="1.75" fill="#fff" stroke="#111" stroke-width="0.95"/>
<circle cx="244.94" cy="100.24" r="1.75" fill="#fff" stroke="#111" stroke-width="0.95"/>
<circle cx="242.00" cy="100.71" r="1.75" fill="#fff" stroke="#111" stroke-width="0.95"/>
<circle cx="243.41" cy="102.59" r="1.75" fill="#fff" stroke="#111" stroke-width="0.95"/>
<circle cx="240.82" cy="101.88" r="1.75" fill="#fff" stroke="#111" stroke-width="0.95"/>
<circle cx="246.12" cy="101.88" r="1.75" fill="#fff" stroke="#111" stroke-width="0.95"/>
<circle cx="243.41" cy="104.12" r="1.75" fill="#fff" stroke="#111" stroke-width="0.95"/>
<circle cx="243.40" cy="38.50" r="1.75" fill="#fff" stroke="#111" stroke-width="0.95"/>
<circle cx="262.35" cy="61.18" r="1.70" fill="#a8a8a8" stroke="#222" stroke-width="1.0"/>
<circle cx="265.29" cy="60.59" r="1.70" fill="#a8a8a8" stroke="#222" stroke-width="1.0"/>
<circle cx="262.35" cy="66.82" r="1.70" fill="#a8a8a8" stroke="#222" stroke-width="1.0"/>
<circle cx="259.29" cy="71.18" r="1.70" fill="#a8a8a8" stroke="#222" stroke-width="1.0"/>
<circle cx="265.29" cy="72.12" r="1.70" fill="#a8a8a8" stroke="#222" stroke-width="1.0"/>
<circle cx="262.35" cy="75.06" r="1.70" fill="#a8a8a8" stroke="#222" stroke-width="1.0"/>
<circle cx="259.29" cy="78.24" r="1.70" fill="#a8a8a8" stroke="#222" stroke-width="1.0"/>
<circle cx="262.35" cy="81.41" r="1.70" fill="#a8a8a8" stroke="#222" stroke-width="1.0"/>
<circle cx="256.71" cy="81.41" r="1.70" fill="#a8a8a8" stroke="#222" stroke-width="1.0"/>
<circle cx="265.29" cy="80.59" r="1.70" fill="#a8a8a8" stroke="#222" stroke-width="1.0"/>
<circle cx="262.35" cy="82.94" r="1.70" fill="#a8a8a8" stroke="#222" stroke-width="1.0"/>
<circle cx="259.29" cy="84.71" r="1.70" fill="#a8a8a8" stroke="#222" stroke-width="1.0"/>
<circle cx="265.29" cy="85.29" r="1.70" fill="#a8a8a8" stroke="#222" stroke-width="1.0"/>
<circle cx="262.35" cy="85.29" r="1.70" fill="#a8a8a8" stroke="#222" stroke-width="1.0"/>
<circle cx="262.35" cy="88.24" r="1.70" fill="#a8a8a8" stroke="#222" stroke-width="1.0"/>
<circle cx="259.29" cy="89.65" r="1.70" fill="#a8a8a8" stroke="#222" stroke-width="1.0"/>
<circle cx="265.29" cy="90.82" r="1.70" fill="#a8a8a8" stroke="#222" stroke-width="1.0"/>
<circle cx="256.71" cy="91.53" r="1.70" fill="#a8a8a8" stroke="#222" stroke-width="1.0"/>
<circle cx="262.35" cy="94.71" r="1.70" fill="#a8a8a8" stroke="#222" stroke-width="1.0"/>
<circle cx="262.35" cy="100.59" r="1.70" fill="#a8a8a8" stroke="#222" stroke-width="1.0"/>
<circle cx="259.50" cy="57.50" r="1.70" fill="#a8a8a8" stroke="#222" stroke-width="1.0"/>
<polygon points="280.82,60.17 282.77,62.12 280.82,64.07 278.87,62.12" fill="#000"/>
<polygon points="282.59,64.87 284.54,66.82 282.59,68.77 280.64,66.82" fill="#000"/>
<polygon points="277.88,68.64 279.83,70.59 277.88,72.54 275.93,70.59" fill="#000"/>
<polygon points="280.82,69.81 282.77,71.76 280.82,73.71 278.87,71.76" fill="#000"/>
<polygon points="283.76,69.81 285.71,71.76 283.76,73.71 281.81,71.76" fill="#000"/>
<polygon points="275.53,76.64 277.48,78.59 275.53,80.54 273.58,78.59" fill="#000"/>
<polygon points="277.88,76.64 279.83,78.59 277.88,80.54 275.93,78.59" fill="#000"/>
<polygon points="282.59,76.29 284.54,78.24 282.59,80.19 280.64,78.24" fill="#000"/>
<polygon points="280.82,79.81 282.77,81.76 280.82,83.71 278.87,81.76" fill="#000"/>
<polygon points="279.06,82.76 281.01,84.71 279.06,86.66 277.11,84.71" fill="#000"/>
<polygon points="282.59,82.76 284.54,84.71 282.59,86.66 280.64,84.71" fill="#000"/>
<polygon points="280.82,84.52 282.77,86.47 280.82,88.42 278.87,86.47" fill="#000"/>
<polygon points="283.76,86.29 285.71,88.24 283.76,90.19 281.81,88.24" fill="#000"/>
<polygon points="274.94,87.46 276.89,89.41 274.94,91.36 272.99,89.41" fill="#000"/>
<polygon points="280.82,87.11 282.77,89.06 280.82,91.01 278.87,89.06" fill="#000"/>
<polygon points="280.82,92.17 282.77,94.12 280.82,96.07 278.87,94.12" fill="#000"/>
<polygon points="279.06,94.52 281.01,96.47 279.06,98.42 277.11,96.47" fill="#000"/>
<polygon points="282.59,94.52 284.54,96.47 282.59,98.42 280.64,96.47" fill="#000"/>
<polygon points="277.88,95.93 279.83,97.88 277.88,99.83 275.93,97.88" fill="#000"/>
<polygon points="283.76,95.93 285.71,97.88 283.76,99.83 281.81,97.88" fill="#000"/>
<polygon points="280.82,97.70 282.77,99.65 280.82,101.60 278.87,99.65" fill="#000"/>
<polygon points="280.80,15.65 282.75,17.60 280.80,19.55 278.85,17.60" fill="#000"/>
<polygon points="280.80,23.95 282.75,25.90 280.80,27.85 278.85,25.90" fill="#000"/>
<polygon points="280.80,30.65 282.75,32.60 280.80,34.55 278.85,32.60" fill="#000"/>
<polygon points="283.80,40.95 285.75,42.90 283.80,44.85 281.85,42.90" fill="#000"/>
<polygon points="280.80,43.15 282.75,45.10 280.80,47.05 278.85,45.10" fill="#000"/>
<polygon points="275.20,55.65 277.15,57.60 275.20,59.55 273.25,57.60" fill="#000"/>
<polygon points="299.50,52.55 301.45,54.50 299.50,56.45 297.55,54.50" fill="#858585" stroke="#000" stroke-width="1.1"/>
<polygon points="294.06,62.27 296.01,64.22 294.06,66.17 292.11,64.22" fill="#858585" stroke="#000" stroke-width="1.1"/>
<polygon points="302.30,60.29 304.25,62.24 302.30,64.19 300.35,62.24" fill="#858585" stroke="#000" stroke-width="1.1"/>
<polygon points="299.50,63.59 301.45,65.54 299.50,67.49 297.55,65.54" fill="#858585" stroke="#000" stroke-width="1.1"/>
<polygon points="296.53,72.65 298.48,74.60 296.53,76.55 294.58,74.60" fill="#858585" stroke="#000" stroke-width="1.1"/>
<polygon points="301.47,72.32 303.42,74.27 301.47,76.22 299.52,74.27" fill="#858585" stroke="#000" stroke-width="1.1"/>
<polygon points="299.50,74.29 301.45,76.24 299.50,78.19 297.55,76.24" fill="#858585" stroke="#000" stroke-width="1.1"/>
<polygon points="302.30,78.41 304.25,80.36 302.30,82.31 300.35,80.36" fill="#858585" stroke="#000" stroke-width="1.1"/>
<polygon points="294.06,82.53 296.01,84.48 294.06,86.43 292.11,84.48" fill="#858585" stroke="#000" stroke-width="1.1"/>
<polygon points="299.50,83.35 301.45,85.30 299.50,87.25 297.55,85.30" fill="#858585" stroke="#000" stroke-width="1.1"/>
<polygon points="297.36,86.65 299.31,88.60 297.36,90.55 295.41,88.60" fill="#858585" stroke="#000" stroke-width="1.1"/>
<polygon points="301.47,86.65 303.42,88.60 301.47,90.55 299.52,88.60" fill="#858585" stroke="#000" stroke-width="1.1"/>
<polygon points="299.50,88.30 301.45,90.25 299.50,92.20 297.55,90.25" fill="#858585" stroke="#000" stroke-width="1.1"/>
<polygon points="295.71,89.12 297.66,91.07 295.71,93.02 293.76,91.07" fill="#858585" stroke="#000" stroke-width="1.1"/>
<polygon points="303.12,88.30 305.07,90.25 303.12,92.20 301.17,90.25" fill="#858585" stroke="#000" stroke-width="1.1"/>
<polygon points="294.06,91.59 296.01,93.54 294.06,95.49 292.11,93.54" fill="#858585" stroke="#000" stroke-width="1.1"/>
<polygon points="299.50,90.77 301.45,92.72 299.50,94.67 297.55,92.72" fill="#858585" stroke="#000" stroke-width="1.1"/>
<polygon points="297.36,92.42 299.31,94.37 297.36,96.32 295.41,94.37" fill="#858585" stroke="#000" stroke-width="1.1"/>
<polygon points="301.47,91.59 303.42,93.54 301.47,95.49 299.52,93.54" fill="#858585" stroke="#000" stroke-width="1.1"/>
<polygon points="299.50,95.71 301.45,97.66 299.50,99.61 297.55,97.66" fill="#858585" stroke="#000" stroke-width="1.1"/>
<polygon points="297.36,99.83 299.31,101.78 297.36,103.73 295.41,101.78" fill="#858585" stroke="#000" stroke-width="1.1"/>
<polygon points="301.47,100.32 303.42,102.27 301.47,104.22 299.52,102.27" fill="#858585" stroke="#000" stroke-width="1.1"/>
<polygon points="299.50,101.48 301.45,103.43 299.50,105.38 297.55,103.43" fill="#858585" stroke="#000" stroke-width="1.1"/>
<polygon points="299.50,98.18 301.45,100.13 299.50,102.08 297.55,100.13" fill="#858585" stroke="#000" stroke-width="1.1"/>
<polygon points="318.44,55.35 320.39,57.30 318.44,59.25 316.49,57.30" fill="#fff" stroke="#111" stroke-width="0.85"/>
<polygon points="320.91,61.94 322.86,63.89 320.91,65.84 318.96,63.89" fill="#fff" stroke="#111" stroke-width="0.85"/>
<polygon points="318.44,65.23 320.39,67.18 318.44,69.13 316.49,67.18" fill="#fff" stroke="#111" stroke-width="0.85"/>
<polygon points="320.91,77.09 322.86,79.04 320.91,80.99 318.96,79.04" fill="#fff" stroke="#111" stroke-width="0.85"/>
<polygon points="312.18,79.73 314.13,81.68 312.18,83.63 310.23,81.68" fill="#fff" stroke="#111" stroke-width="0.85"/>
<polygon points="318.44,80.06 320.39,82.01 318.44,83.96 316.49,82.01" fill="#fff" stroke="#111" stroke-width="0.85"/>
<polygon points="315.48,85.83 317.43,87.78 315.48,89.73 313.53,87.78" fill="#fff" stroke="#111" stroke-width="0.85"/>
<polygon points="320.91,88.30 322.86,90.25 320.91,92.20 318.96,90.25" fill="#fff" stroke="#111" stroke-width="0.85"/>
<polygon points="318.44,90.77 320.39,92.72 318.44,94.67 316.49,92.72" fill="#fff" stroke="#111" stroke-width="0.85"/>
<polygon points="315.48,93.24 317.43,95.19 315.48,97.14 313.53,95.19" fill="#fff" stroke="#111" stroke-width="0.85"/>
<polygon points="320.42,94.06 322.37,96.01 320.42,97.96 318.47,96.01" fill="#fff" stroke="#111" stroke-width="0.85"/>
<polygon points="312.18,94.89 314.13,96.84 312.18,98.79 310.23,96.84" fill="#fff" stroke="#111" stroke-width="0.85"/>
<polygon points="318.44,95.71 320.39,97.66 318.44,99.61 316.49,97.66" fill="#fff" stroke="#111" stroke-width="0.85"/>
<polygon points="315.48,98.18 317.43,100.13 315.48,102.08 313.53,100.13" fill="#fff" stroke="#111" stroke-width="0.85"/>
<polygon points="321.24,99.01 323.19,100.96 321.24,102.91 319.29,100.96" fill="#fff" stroke="#111" stroke-width="0.85"/>
<polygon points="318.44,100.65 320.39,102.60 318.44,104.55 316.49,102.60" fill="#fff" stroke="#111" stroke-width="0.85"/>
<line x1="237.90" y1="95.30" x2="249.60" y2="95.30" stroke="#000" stroke-width="0.9" />
<line x1="255.50" y1="82.10" x2="268.50" y2="82.10" stroke="#000" stroke-width="0.9" />
<line x1="273.80" y1="82.60" x2="286.70" y2="82.60" stroke="#000" stroke-width="0.9" />
<line x1="293.20" y1="90.20" x2="305.60" y2="90.20" stroke="#000" stroke-width="0.9" />
<line x1="312.20" y1="93.50" x2="324.50" y2="93.50" stroke="#000" stroke-width="0.9" />
<path d="M241.00,12.50 q0,-1.6 1.6,-1.6 L250.20,10.90 q1.2,0 1.2,-1.6 q0,1.6 1.2,1.6 L260.50,10.90 q1.4,0 1.4,1.5 q0,-1.5 1.4,-1.5 L287.80,10.90 q1.2,0 1.2,-1.6 q0,1.6 1.2,1.6 L315.20,10.90 q1.6,0 1.6,1.6" fill="none" stroke="#a6a6a6" stroke-width="0.8"/>
<text x="251.60" y="9.40" font-size="6.5" text-anchor="middle" fill="#000" font-weight="bold" >**</text>
<text x="289.00" y="9.40" font-size="6.5" text-anchor="middle" fill="#000" font-weight="bold" >***</text>
<polygon points="240.40,119.20 265.40,125.20 265.40,128.40 240.40,128.40" fill="#000"/>
<text x="242.30" y="127.25" font-size="6.9" text-anchor="start" fill="#fff" font-weight="bold" >age</text>
<polygon points="278.30,119.60 318.80,129.00 318.80,129.40 278.30,129.40" fill="#000"/>
<text x="279.30" y="128.20" font-size="6.5" text-anchor="start" fill="#fff" font-weight="bold" >CD4</text>
<text x="250.60" y="141.60" font-size="7.6" text-anchor="middle" fill="#000" font-weight="bold" >HIV-</text>
<text x="296.60" y="141.60" font-size="7.6" text-anchor="middle" fill="#000" font-weight="bold" >HIV+</text>
<line x1="387.30" y1="16.80" x2="387.30" y2="110.80" stroke="#000" stroke-width="0.9" />
<line x1="387.30" y1="110.40" x2="509.20" y2="110.40" stroke="#000" stroke-width="0.9" />
<line x1="384.90" y1="110.40" x2="387.30" y2="110.40" stroke="#000" stroke-width="0.8" />
<text x="384.10" y="112.90" font-size="7.0" text-anchor="end" fill="#000" font-weight="bold" >0</text>
<line x1="384.90" y1="91.76" x2="387.30" y2="91.76" stroke="#000" stroke-width="0.8" />
<text x="384.10" y="94.26" font-size="7.0" text-anchor="end" fill="#000" font-weight="bold" >2</text>
<line x1="384.90" y1="73.12" x2="387.30" y2="73.12" stroke="#000" stroke-width="0.8" />
<text x="384.10" y="75.62" font-size="7.0" text-anchor="end" fill="#000" font-weight="bold" >4</text>
<line x1="384.90" y1="54.48" x2="387.30" y2="54.48" stroke="#000" stroke-width="0.8" />
<text x="384.10" y="56.98" font-size="7.0" text-anchor="end" fill="#000" font-weight="bold" >6</text>
<line x1="384.90" y1="35.84" x2="387.30" y2="35.84" stroke="#000" stroke-width="0.8" />
<text x="384.10" y="38.34" font-size="7.0" text-anchor="end" fill="#000" font-weight="bold" >8</text>
<line x1="384.90" y1="17.20" x2="387.30" y2="17.20" stroke="#000" stroke-width="0.8" />
<text x="384.10" y="19.70" font-size="7.0" text-anchor="end" fill="#000" font-weight="bold" >10</text>
<line x1="386.00" y1="101.08" x2="387.30" y2="101.08" stroke="#000" stroke-width="0.6" />
<line x1="386.00" y1="82.44" x2="387.30" y2="82.44" stroke="#000" stroke-width="0.6" />
<line x1="386.00" y1="63.80" x2="387.30" y2="63.80" stroke="#000" stroke-width="0.6" />
<line x1="386.00" y1="45.16" x2="387.30" y2="45.16" stroke="#000" stroke-width="0.6" />
<line x1="386.00" y1="26.52" x2="387.30" y2="26.52" stroke="#000" stroke-width="0.6" />
<line x1="387.30" y1="110.40" x2="387.30" y2="112.80" stroke="#000" stroke-width="0.8" />
<text x="387.30" y="120.90" font-size="7.0" text-anchor="middle" fill="#000" font-weight="bold" >0</text>
<line x1="407.55" y1="110.40" x2="407.55" y2="112.80" stroke="#000" stroke-width="0.8" />
<text x="407.55" y="120.90" font-size="7.0" text-anchor="middle" fill="#000" font-weight="bold" >200</text>
<line x1="427.80" y1="110.40" x2="427.80" y2="112.80" stroke="#000" stroke-width="0.8" />
<text x="427.80" y="120.90" font-size="7.0" text-anchor="middle" fill="#000" font-weight="bold" >400</text>
<line x1="448.05" y1="110.40" x2="448.05" y2="112.80" stroke="#000" stroke-width="0.8" />
<text x="448.05" y="120.90" font-size="7.0" text-anchor="middle" fill="#000" font-weight="bold" >600</text>
<line x1="468.30" y1="110.40" x2="468.30" y2="112.80" stroke="#000" stroke-width="0.8" />
<text x="468.30" y="120.90" font-size="7.0" text-anchor="middle" fill="#000" font-weight="bold" >800</text>
<line x1="488.55" y1="110.40" x2="488.55" y2="112.80" stroke="#000" stroke-width="0.8" />
<text x="488.55" y="120.90" font-size="7.0" text-anchor="middle" fill="#000" font-weight="bold" >1000</text>
<line x1="508.80" y1="110.40" x2="508.80" y2="112.80" stroke="#000" stroke-width="0.8" />
<text x="508.80" y="120.90" font-size="7.0" text-anchor="middle" fill="#000" font-weight="bold" >1200</text>
<line x1="397.43" y1="110.40" x2="397.43" y2="111.70" stroke="#000" stroke-width="0.6" />
<line x1="417.68" y1="110.40" x2="417.68" y2="111.70" stroke="#000" stroke-width="0.6" />
<line x1="437.93" y1="110.40" x2="437.93" y2="111.70" stroke="#000" stroke-width="0.6" />
<line x1="458.18" y1="110.40" x2="458.18" y2="111.70" stroke="#000" stroke-width="0.6" />
<line x1="478.43" y1="110.40" x2="478.43" y2="111.70" stroke="#000" stroke-width="0.6" />
<line x1="498.68" y1="110.40" x2="498.68" y2="111.70" stroke="#000" stroke-width="0.6" />
<text x="370.50" y="65.40" font-size="7.3" text-anchor="middle" fill="#000" font-weight="bold" transform="rotate(-90 370.50 65.40)" textLength="87.30" lengthAdjust="spacingAndGlyphs" >CD34+ cell count (cell/µl)</text>
<text x="451.20" y="130.60" font-size="7.1" text-anchor="middle" fill="#000" font-weight="bold" textLength="86.10" lengthAdjust="spacingAndGlyphs" >CD4+ T cell count (cell/µl)</text>
<text x="395.8" y="29.0" font-size="7.2" fill="#222" font-family="Liberation Sans, sans-serif"><tspan font-style="italic">P</tspan> &lt; 0.0001</text>
<text x="395.8" y="38.1" font-size="7.2" fill="#222" font-family="Liberation Sans, sans-serif"><tspan font-style="italic">r</tspan> = 0.43</text>
<line x1="387.50" y1="102.90" x2="497.20" y2="71.50" stroke="#333" stroke-width="0.8" />
<circle cx="449.77" cy="23.73" r="2.05" fill="#000"/>
<circle cx="464.55" cy="32.03" r="2.05" fill="#000"/>
<circle cx="457.67" cy="38.48" r="2.05" fill="#000"/>
<circle cx="454.22" cy="51.39" r="2.05" fill="#000"/>
<circle cx="481.16" cy="49.09" r="2.05" fill="#000"/>
<circle cx="469.61" cy="56.00" r="2.05" fill="#000"/>
<circle cx="424.25" cy="60.61" r="2.05" fill="#000"/>
<circle cx="440.76" cy="63.38" r="2.05" fill="#000"/>
<circle cx="437.72" cy="70.75" r="2.05" fill="#000"/>
<circle cx="448.86" cy="73.06" r="2.05" fill="#000"/>
<circle cx="448.86" cy="76.29" r="2.05" fill="#000"/>
<circle cx="454.63" cy="78.59" r="2.05" fill="#000"/>
<circle cx="490.77" cy="68.45" r="2.05" fill="#000"/>
<circle cx="486.32" cy="78.13" r="2.05" fill="#000"/>
<circle cx="493.61" cy="85.05" r="2.05" fill="#000"/>
<circle cx="470.02" cy="85.05" r="2.05" fill="#000"/>
<circle cx="456.45" cy="91.04" r="2.05" fill="#000"/>
<circle cx="454.63" cy="92.88" r="2.05" fill="#000"/>
<circle cx="464.55" cy="92.42" r="2.05" fill="#000"/>
<circle cx="479.94" cy="100.26" r="2.05" fill="#000"/>
<circle cx="471.94" cy="103.67" r="2.05" fill="#000"/>
<circle cx="463.84" cy="103.30" r="2.05" fill="#000"/>
<circle cx="450.78" cy="105.79" r="2.05" fill="#000"/>
<circle cx="445.01" cy="102.29" r="2.05" fill="#000"/>
<circle cx="445.21" cy="104.87" r="2.05" fill="#000"/>
<circle cx="445.92" cy="84.12" r="2.05" fill="#000"/>
<circle cx="443.49" cy="85.05" r="2.05" fill="#000"/>
<circle cx="447.85" cy="87.81" r="2.05" fill="#000"/>
<circle cx="432.45" cy="86.89" r="2.05" fill="#000"/>
<circle cx="440.15" cy="90.12" r="2.05" fill="#000"/>
<circle cx="445.42" cy="91.96" r="2.05" fill="#000"/>
<circle cx="423.75" cy="80.90" r="2.05" fill="#000"/>
<circle cx="425.77" cy="82.74" r="2.05" fill="#000"/>
<circle cx="420.00" cy="79.05" r="2.05" fill="#000"/>
<circle cx="402.28" cy="63.84" r="2.05" fill="#000"/>
<circle cx="391.85" cy="69.83" r="2.05" fill="#000"/>
<circle cx="387.90" cy="73.52" r="2.05" fill="#000"/>
<circle cx="416.86" cy="68.91" r="2.05" fill="#000"/>
<circle cx="418.79" cy="71.95" r="2.05" fill="#000"/>
<circle cx="391.85" cy="85.51" r="2.05" fill="#000"/>
<circle cx="387.90" cy="87.81" r="2.05" fill="#000"/>
<circle cx="404.41" cy="88.27" r="2.05" fill="#000"/>
<circle cx="421.22" cy="79.97" r="2.05" fill="#000"/>
<circle cx="422.13" cy="91.04" r="2.05" fill="#000"/>
<circle cx="423.95" cy="93.80" r="2.05" fill="#000"/>
<circle cx="409.57" cy="92.88" r="2.05" fill="#000"/>
<circle cx="411.50" cy="95.65" r="2.05" fill="#000"/>
<circle cx="398.03" cy="93.80" r="2.05" fill="#000"/>
<circle cx="391.95" cy="95.65" r="2.05" fill="#000"/>
<circle cx="388.51" cy="95.65" r="2.05" fill="#000"/>
<circle cx="408.66" cy="97.49" r="2.05" fill="#000"/>
<circle cx="413.52" cy="97.49" r="2.05" fill="#000"/>
<circle cx="416.36" cy="98.41" r="2.05" fill="#000"/>
<circle cx="418.28" cy="98.41" r="2.05" fill="#000"/>
<circle cx="420.20" cy="99.34" r="2.05" fill="#000"/>
<circle cx="387.50" cy="100.26" r="2.05" fill="#000"/>
<circle cx="391.35" cy="101.18" r="2.05" fill="#000"/>
<circle cx="397.12" cy="100.26" r="2.05" fill="#000"/>
<circle cx="401.98" cy="100.26" r="2.05" fill="#000"/>
<circle cx="399.95" cy="102.56" r="2.05" fill="#000"/>
<circle cx="395.30" cy="103.02" r="2.05" fill="#000"/>
<circle cx="396.31" cy="105.79" r="2.05" fill="#000"/>
<circle cx="389.42" cy="104.87" r="2.05" fill="#000"/>
<circle cx="388.51" cy="107.63" r="2.05" fill="#000"/>
<circle cx="387.90" cy="109.48" r="2.05" fill="#000"/>
<circle cx="407.65" cy="104.22" r="2.05" fill="#000"/>
<circle cx="416.36" cy="106.16" r="2.05" fill="#000"/>
<circle cx="415.34" cy="109.02" r="2.05" fill="#000"/>
<circle cx="421.22" cy="105.24" r="2.05" fill="#000"/>
<circle cx="421.42" cy="108.09" r="2.05" fill="#000"/>
<circle cx="428.85" cy="100.38" r="2.05" fill="#000"/>
<circle cx="430.77" cy="94.62" r="2.05" fill="#000"/>
<circle cx="432.69" cy="91.73" r="2.05" fill="#000"/>
<circle cx="434.62" cy="95.58" r="2.05" fill="#000"/>
<circle cx="436.54" cy="93.65" r="2.05" fill="#000"/>
<circle cx="438.46" cy="96.54" r="2.05" fill="#000"/>
<circle cx="439.42" cy="99.42" r="2.05" fill="#000"/>
<circle cx="437.50" cy="101.35" r="2.05" fill="#000"/>
<circle cx="441.35" cy="93.65" r="2.05" fill="#000"/>
<circle cx="444.23" cy="95.58" r="2.05" fill="#000"/>
<circle cx="448.08" cy="92.69" r="2.05" fill="#000"/>
<circle cx="446.15" cy="102.31" r="2.05" fill="#000"/>
<circle cx="430.77" cy="91.73" r="2.05" fill="#000"/>
<circle cx="426.92" cy="91.73" r="2.05" fill="#000"/>
<circle cx="449.04" cy="105.19" r="2.05" fill="#000"/>
<circle cx="428.65" cy="92.69" r="2.05" fill="#000"/>
<circle cx="431.54" cy="91.73" r="2.05" fill="#000"/>
<circle cx="434.42" cy="90.77" r="2.05" fill="#000"/>
<circle cx="437.31" cy="93.65" r="2.05" fill="#000"/>
<circle cx="431.54" cy="95.58" r="2.05" fill="#000"/>
<circle cx="436.35" cy="95.58" r="2.05" fill="#000"/>
<circle cx="439.23" cy="94.62" r="2.05" fill="#000"/>
<circle cx="444.04" cy="95.58" r="2.05" fill="#000"/>
<circle cx="428.65" cy="99.42" r="2.05" fill="#000"/>
<circle cx="433.46" cy="97.50" r="2.05" fill="#000"/>
<circle cx="436.35" cy="100.38" r="2.05" fill="#000"/>
<circle cx="439.23" cy="99.42" r="2.05" fill="#000"/>
<circle cx="437.31" cy="102.69" r="2.05" fill="#000"/>
<circle cx="430.58" cy="96.54" r="2.05" fill="#000"/>
<circle cx="423.85" cy="95.58" r="2.05" fill="#000"/>
<circle cx="421.92" cy="90.77" r="2.05" fill="#000"/>
<line x1="34.60" y1="178.15" x2="34.60" y2="272.40" stroke="#000" stroke-width="0.9" />
<line x1="34.60" y1="272.00" x2="128.30" y2="272.00" stroke="#000" stroke-width="0.9" />
<line x1="32.00" y1="272.00" x2="34.60" y2="272.00" stroke="#000" stroke-width="0.8" />
<text x="31.20" y="274.50" font-size="7.0" text-anchor="end" fill="#000" font-weight="bold" >1</text>
<line x1="32.00" y1="231.30" x2="34.60" y2="231.30" stroke="#000" stroke-width="0.8" />
<text x="31.20" y="233.80" font-size="7.0" text-anchor="end" fill="#000" font-weight="bold" >10</text>
<line x1="32.00" y1="190.60" x2="34.60" y2="190.60" stroke="#000" stroke-width="0.8" />
<text x="31.20" y="193.10" font-size="7.0" text-anchor="end" fill="#000" font-weight="bold" >100</text>
<line x1="33.20" y1="259.75" x2="34.60" y2="259.75" stroke="#000" stroke-width="0.5" />
<line x1="33.20" y1="252.58" x2="34.60" y2="252.58" stroke="#000" stroke-width="0.5" />
<line x1="33.20" y1="247.50" x2="34.60" y2="247.50" stroke="#000" stroke-width="0.5" />
<line x1="33.20" y1="243.55" x2="34.60" y2="243.55" stroke="#000" stroke-width="0.5" />
<line x1="33.20" y1="240.33" x2="34.60" y2="240.33" stroke="#000" stroke-width="0.5" />
<line x1="33.20" y1="237.60" x2="34.60" y2="237.60" stroke="#000" stroke-width="0.5" />
<line x1="33.20" y1="235.24" x2="34.60" y2="235.24" stroke="#000" stroke-width="0.5" />
<line x1="33.20" y1="233.16" x2="34.60" y2="233.16" stroke="#000" stroke-width="0.5" />
<line x1="33.20" y1="219.05" x2="34.60" y2="219.05" stroke="#000" stroke-width="0.5" />
<line x1="33.20" y1="211.88" x2="34.60" y2="211.88" stroke="#000" stroke-width="0.5" />
<line x1="33.20" y1="206.80" x2="34.60" y2="206.80" stroke="#000" stroke-width="0.5" />
<line x1="33.20" y1="202.85" x2="34.60" y2="202.85" stroke="#000" stroke-width="0.5" />
<line x1="33.20" y1="199.63" x2="34.60" y2="199.63" stroke="#000" stroke-width="0.5" />
<line x1="33.20" y1="196.90" x2="34.60" y2="196.90" stroke="#000" stroke-width="0.5" />
<line x1="33.20" y1="194.54" x2="34.60" y2="194.54" stroke="#000" stroke-width="0.5" />
<line x1="33.20" y1="192.46" x2="34.60" y2="192.46" stroke="#000" stroke-width="0.5" />
<line x1="33.20" y1="178.35" x2="34.60" y2="178.35" stroke="#000" stroke-width="0.5" />
<line x1="44.50" y1="272.00" x2="44.50" y2="274.40" stroke="#000" stroke-width="0.8" />
<line x1="62.40" y1="272.00" x2="62.40" y2="274.40" stroke="#000" stroke-width="0.8" />
<line x1="81.30" y1="272.00" x2="81.30" y2="274.40" stroke="#000" stroke-width="0.8" />
<line x1="99.80" y1="272.00" x2="99.80" y2="274.40" stroke="#000" stroke-width="0.8" />
<line x1="118.70" y1="272.00" x2="118.70" y2="274.40" stroke="#000" stroke-width="0.8" />
<text x="13.50" y="220.30" font-size="7.25" text-anchor="middle" fill="#000" font-weight="bold" transform="rotate(-90 13.50 220.30)" textLength="60.00" lengthAdjust="spacingAndGlyphs" >Total CFU (nb/ml)</text>
<line x1="71.50" y1="178.00" x2="71.50" y2="421.00" stroke="#777" stroke-width="1.1" stroke-dasharray="2 2"/>
<circle cx="44.20" cy="205.40" r="1.75" fill="#fff" stroke="#111" stroke-width="0.95"/>
<circle cx="43.90" cy="217.10" r="1.75" fill="#fff" stroke="#111" stroke-width="0.95"/>
<circle cx="46.80" cy="217.10" r="1.75" fill="#fff" stroke="#111" stroke-width="0.95"/>
<circle cx="38.30" cy="232.90" r="1.75" fill="#fff" stroke="#111" stroke-width="0.95"/>
<circle cx="44.20" cy="235.60" r="1.75" fill="#fff" stroke="#111" stroke-width="0.95"/>
<circle cx="41.50" cy="240.30" r="1.75" fill="#fff" stroke="#111" stroke-width="0.95"/>
<circle cx="46.80" cy="240.30" r="1.75" fill="#fff" stroke="#111" stroke-width="0.95"/>
<circle cx="44.20" cy="243.20" r="1.75" fill="#fff" stroke="#111" stroke-width="0.95"/>
<circle cx="62.60" cy="200.90" r="1.70" fill="#a8a8a8" stroke="#222" stroke-width="1.0"/>
<circle cx="62.60" cy="203.80" r="1.70" fill="#a8a8a8" stroke="#222" stroke-width="1.0"/>
<circle cx="60.20" cy="206.20" r="1.70" fill="#a8a8a8" stroke="#222" stroke-width="1.0"/>
<circle cx="65.30" cy="206.20" r="1.70" fill="#a8a8a8" stroke="#222" stroke-width="1.0"/>
<circle cx="62.60" cy="208.20" r="1.70" fill="#a8a8a8" stroke="#222" stroke-width="1.0"/>
<circle cx="57.10" cy="213.60" r="1.70" fill="#a8a8a8" stroke="#222" stroke-width="1.0"/>
<circle cx="59.90" cy="213.20" r="1.70" fill="#a8a8a8" stroke="#222" stroke-width="1.0"/>
<circle cx="65.30" cy="213.20" r="1.70" fill="#a8a8a8" stroke="#222" stroke-width="1.0"/>
<circle cx="62.60" cy="214.40" r="1.70" fill="#a8a8a8" stroke="#222" stroke-width="1.0"/>
<circle cx="59.90" cy="220.60" r="1.70" fill="#a8a8a8" stroke="#222" stroke-width="1.0"/>
<circle cx="65.30" cy="220.60" r="1.70" fill="#a8a8a8" stroke="#222" stroke-width="1.0"/>
<circle cx="62.60" cy="225.60" r="1.70" fill="#a8a8a8" stroke="#222" stroke-width="1.0"/>
<polygon points="81.50,184.85 83.45,186.80 81.50,188.75 79.55,186.80" fill="#000"/>
<polygon points="81.50,192.15 83.45,194.10 81.50,196.05 79.55,194.10" fill="#000"/>
<polygon points="81.50,208.85 83.45,210.80 81.50,212.75 79.55,210.80" fill="#000"/>
<polygon points="84.40,212.45 86.35,214.40 84.40,216.35 82.45,214.40" fill="#000"/>
<polygon points="81.50,218.25 83.45,220.20 81.50,222.15 79.55,220.20" fill="#000"/>
<polygon points="84.40,220.95 86.35,222.90 84.40,224.85 82.45,222.90" fill="#000"/>
<polygon points="78.50,220.95 80.45,222.90 78.50,224.85 76.55,222.90" fill="#000"/>
<polygon points="75.60,222.15 77.55,224.10 75.60,226.05 73.65,224.10" fill="#000"/>
<polygon points="81.50,224.65 83.45,226.60 81.50,228.55 79.55,226.60" fill="#000"/>
<polygon points="81.50,235.45 83.45,237.40 81.50,239.35 79.55,237.40" fill="#000"/>
<polygon points="97.10,203.60 99.10,205.60 97.10,207.60 95.10,205.60" fill="#858585" stroke="#000" stroke-width="1.1"/>
<polygon points="101.50,203.30 103.50,205.30 101.50,207.30 99.50,205.30" fill="#858585" stroke="#000" stroke-width="1.1"/>
<polygon points="102.90,206.60 104.90,208.60 102.90,210.60 100.90,208.60" fill="#858585" stroke="#000" stroke-width="1.1"/>
<polygon points="99.90,208.80 101.90,210.80 99.90,212.80 97.90,210.80" fill="#858585" stroke="#000" stroke-width="1.1"/>
<polygon points="94.40,209.50 96.40,211.50 94.40,213.50 92.40,211.50" fill="#858585" stroke="#000" stroke-width="1.1"/>
<polygon points="102.90,209.50 104.90,211.50 102.90,213.50 100.90,211.50" fill="#858585" stroke="#000" stroke-width="1.1"/>
<polygon points="99.90,214.20 101.90,216.20 99.90,218.20 97.90,216.20" fill="#858585" stroke="#000" stroke-width="1.1"/>
<polygon points="97.10,219.40 99.10,221.40 97.10,223.40 95.10,221.40" fill="#858585" stroke="#000" stroke-width="1.1"/>
<polygon points="101.50,219.00 103.50,221.00 101.50,223.00 99.50,221.00" fill="#858585" stroke="#000" stroke-width="1.1"/>
<polygon points="102.90,220.60 104.90,222.60 102.90,224.60 100.90,222.60" fill="#858585" stroke="#000" stroke-width="1.1"/>
<polygon points="99.90,221.80 101.90,223.80 99.90,225.80 97.90,223.80" fill="#858585" stroke="#000" stroke-width="1.1"/>
<polygon points="118.80,188.60 120.80,190.60 118.80,192.60 116.80,190.60" fill="#fff" stroke="#111" stroke-width="0.85"/>
<polygon points="118.80,205.90 120.80,207.90 118.80,209.90 116.80,207.90" fill="#fff" stroke="#111" stroke-width="0.85"/>
<polygon points="118.80,213.60 120.80,215.60 118.80,217.60 116.80,215.60" fill="#fff" stroke="#111" stroke-width="0.85"/>
<polygon points="115.60,219.80 117.60,221.80 115.60,223.80 113.60,221.80" fill="#fff" stroke="#111" stroke-width="0.85"/>
<polygon points="118.80,219.80 120.80,221.80 118.80,223.80 116.80,221.80" fill="#fff" stroke="#111" stroke-width="0.85"/>
<polygon points="121.80,219.80 123.80,221.80 121.80,223.80 119.80,221.80" fill="#fff" stroke="#111" stroke-width="0.85"/>
<polygon points="118.80,223.40 120.80,225.40 118.80,227.40 116.80,225.40" fill="#fff" stroke="#111" stroke-width="0.85"/>
<polygon points="112.90,228.90 114.90,230.90 112.90,232.90 110.90,230.90" fill="#fff" stroke="#111" stroke-width="0.85"/>
<polygon points="118.80,233.20 120.80,235.20 118.80,237.20 116.80,235.20" fill="#fff" stroke="#111" stroke-width="0.85"/>
<polygon points="118.80,241.20 120.80,243.20 118.80,245.20 116.80,243.20" fill="#fff" stroke="#111" stroke-width="0.85"/>
<line x1="36.80" y1="233.80" x2="50.30" y2="233.80" stroke="#000" stroke-width="0.9" />
<line x1="55.80" y1="213.60" x2="69.20" y2="213.60" stroke="#000" stroke-width="0.9" />
<line x1="74.40" y1="221.40" x2="87.40" y2="221.40" stroke="#000" stroke-width="0.9" />
<line x1="92.60" y1="211.20" x2="106.80" y2="211.20" stroke="#000" stroke-width="0.9" />
<line x1="112.40" y1="221.60" x2="125.40" y2="221.60" stroke="#000" stroke-width="0.9" />
<path d="M42.70,183.20 q0,-1.6 1.6,-1.6 L51.40,181.60 q1.4,0 1.4,-1.6 q0,1.6 1.4,1.6 L61.00,181.60 q1.6,0 1.6,1.6" fill="none" stroke="#999" stroke-width="0.8"/>
<text x="52.80" y="181.00" font-size="6.5" text-anchor="middle" fill="#000" font-weight="bold" >*</text>
<line x1="34.60" y1="288.60" x2="34.60" y2="382.40" stroke="#000" stroke-width="0.9" />
<line x1="34.60" y1="382.00" x2="128.30" y2="382.00" stroke="#000" stroke-width="0.9" />
<line x1="32.00" y1="382.00" x2="34.60" y2="382.00" stroke="#000" stroke-width="0.8" />
<text x="31.20" y="384.50" font-size="7.0" text-anchor="end" fill="#000" font-weight="bold" >1</text>
<line x1="32.00" y1="335.50" x2="34.60" y2="335.50" stroke="#000" stroke-width="0.8" />
<text x="31.20" y="338.00" font-size="7.0" text-anchor="end" fill="#000" font-weight="bold" >10</text>
<line x1="32.00" y1="289.00" x2="34.60" y2="289.00" stroke="#000" stroke-width="0.8" />
<text x="31.20" y="291.50" font-size="7.0" text-anchor="end" fill="#000" font-weight="bold" >100</text>
<line x1="33.20" y1="368.00" x2="34.60" y2="368.00" stroke="#000" stroke-width="0.5" />
<line x1="33.20" y1="359.81" x2="34.60" y2="359.81" stroke="#000" stroke-width="0.5" />
<line x1="33.20" y1="354.00" x2="34.60" y2="354.00" stroke="#000" stroke-width="0.5" />
<line x1="33.20" y1="349.50" x2="34.60" y2="349.50" stroke="#000" stroke-width="0.5" />
<line x1="33.20" y1="345.82" x2="34.60" y2="345.82" stroke="#000" stroke-width="0.5" />
<line x1="33.20" y1="342.70" x2="34.60" y2="342.70" stroke="#000" stroke-width="0.5" />
<line x1="33.20" y1="340.01" x2="34.60" y2="340.01" stroke="#000" stroke-width="0.5" />
<line x1="33.20" y1="337.63" x2="34.60" y2="337.63" stroke="#000" stroke-width="0.5" />
<line x1="33.20" y1="321.50" x2="34.60" y2="321.50" stroke="#000" stroke-width="0.5" />
<line x1="33.20" y1="313.31" x2="34.60" y2="313.31" stroke="#000" stroke-width="0.5" />
<line x1="33.20" y1="307.50" x2="34.60" y2="307.50" stroke="#000" stroke-width="0.5" />
<line x1="33.20" y1="303.00" x2="34.60" y2="303.00" stroke="#000" stroke-width="0.5" />
<line x1="33.20" y1="299.32" x2="34.60" y2="299.32" stroke="#000" stroke-width="0.5" />
<line x1="33.20" y1="296.20" x2="34.60" y2="296.20" stroke="#000" stroke-width="0.5" />
<line x1="33.20" y1="293.51" x2="34.60" y2="293.51" stroke="#000" stroke-width="0.5" />
<line x1="33.20" y1="291.13" x2="34.60" y2="291.13" stroke="#000" stroke-width="0.5" />
<line x1="44.50" y1="382.00" x2="44.50" y2="384.40" stroke="#000" stroke-width="0.8" />
<text x="44.50" y="393.00" font-size="7.2" text-anchor="middle" fill="#000" font-weight="bold" >O</text>
<line x1="62.40" y1="382.00" x2="62.40" y2="384.40" stroke="#000" stroke-width="0.8" />
<text x="62.40" y="393.00" font-size="7.2" text-anchor="middle" fill="#000" font-weight="bold" >M</text>
<line x1="81.30" y1="382.00" x2="81.30" y2="384.40" stroke="#000" stroke-width="0.8" />
<text x="81.30" y="393.00" font-size="7.2" text-anchor="middle" fill="#000" font-weight="bold" >H</text>
<line x1="99.80" y1="382.00" x2="99.80" y2="384.40" stroke="#000" stroke-width="0.8" />
<text x="99.80" y="393.00" font-size="7.2" text-anchor="middle" fill="#000" font-weight="bold" >I</text>
<line x1="118.70" y1="382.00" x2="118.70" y2="384.40" stroke="#000" stroke-width="0.8" />
<text x="118.70" y="393.00" font-size="7.2" text-anchor="middle" fill="#000" font-weight="bold" >L</text>
<text x="13.50" y="329.20" font-size="7.25" text-anchor="middle" fill="#000" font-weight="bold" transform="rotate(-90 13.50 329.20)" textLength="62.70" lengthAdjust="spacingAndGlyphs" >White CFU (nb/ml)</text>
<circle cx="44.10" cy="327.70" r="1.75" fill="#fff" stroke="#111" stroke-width="0.95"/>
<circle cx="43.90" cy="335.90" r="1.75" fill="#fff" stroke="#111" stroke-width="0.95"/>
<circle cx="47.20" cy="335.90" r="1.75" fill="#fff" stroke="#111" stroke-width="0.95"/>
<circle cx="38.20" cy="349.90" r="1.75" fill="#fff" stroke="#111" stroke-width="0.95"/>
<circle cx="44.10" cy="354.40" r="1.75" fill="#fff" stroke="#111" stroke-width="0.95"/>
<circle cx="44.10" cy="360.30" r="1.75" fill="#fff" stroke="#111" stroke-width="0.95"/>
<circle cx="44.10" cy="368.90" r="1.75" fill="#fff" stroke="#111" stroke-width="0.95"/>
<circle cx="44.10" cy="382.30" r="1.75" fill="#fff" stroke="#111" stroke-width="0.95"/>
<circle cx="61.20" cy="317.10" r="1.70" fill="#a8a8a8" stroke="#222" stroke-width="1.0"/>
<circle cx="63.90" cy="319.90" r="1.70" fill="#a8a8a8" stroke="#222" stroke-width="1.0"/>
<circle cx="60.00" cy="322.30" r="1.70" fill="#a8a8a8" stroke="#222" stroke-width="1.0"/>
<circle cx="62.70" cy="323.00" r="1.70" fill="#a8a8a8" stroke="#222" stroke-width="1.0"/>
<circle cx="65.30" cy="322.30" r="1.70" fill="#a8a8a8" stroke="#222" stroke-width="1.0"/>
<circle cx="65.30" cy="330.30" r="1.70" fill="#a8a8a8" stroke="#222" stroke-width="1.0"/>
<circle cx="57.10" cy="332.40" r="1.70" fill="#a8a8a8" stroke="#222" stroke-width="1.0"/>
<circle cx="62.70" cy="333.20" r="1.70" fill="#a8a8a8" stroke="#222" stroke-width="1.0"/>
<circle cx="62.40" cy="335.60" r="1.70" fill="#a8a8a8" stroke="#222" stroke-width="1.0"/>
<circle cx="60.00" cy="337.90" r="1.70" fill="#a8a8a8" stroke="#222" stroke-width="1.0"/>
<circle cx="64.10" cy="338.80" r="1.70" fill="#a8a8a8" stroke="#222" stroke-width="1.0"/>
<circle cx="65.30" cy="340.60" r="1.70" fill="#a8a8a8" stroke="#222" stroke-width="1.0"/>
<circle cx="62.70" cy="343.00" r="1.70" fill="#a8a8a8" stroke="#222" stroke-width="1.0"/>
<polygon points="81.40,301.25 83.35,303.20 81.40,305.15 79.45,303.20" fill="#000"/>
<polygon points="81.40,313.05 83.35,315.00 81.40,316.95 79.45,315.00" fill="#000"/>
<polygon points="81.40,324.25 83.35,326.20 81.40,328.15 79.45,326.20" fill="#000"/>
<polygon points="84.10,333.65 86.05,335.60 84.10,337.55 82.15,335.60" fill="#000"/>
<polygon points="75.60,335.95 77.55,337.90 75.60,339.85 73.65,337.90" fill="#000"/>
<polygon points="81.40,338.35 83.35,340.30 81.40,342.25 79.45,340.30" fill="#000"/>
<polygon points="81.40,344.25 83.35,346.20 81.40,348.15 79.45,346.20" fill="#000"/>
<polygon points="75.60,348.15 77.55,350.10 75.60,352.05 73.65,350.10" fill="#000"/>
<polygon points="81.40,352.45 83.35,354.40 81.40,356.35 79.45,354.40" fill="#000"/>
<polygon points="81.40,380.35 83.35,382.30 81.40,384.25 79.45,382.30" fill="#000"/>
<polygon points="97.10,318.60 99.10,320.60 97.10,322.60 95.10,320.60" fill="#858585" stroke="#000" stroke-width="1.1"/>
<polygon points="102.90,319.50 104.90,321.50 102.90,323.50 100.90,321.50" fill="#858585" stroke="#000" stroke-width="1.1"/>
<polygon points="99.90,323.00 101.90,325.00 99.90,327.00 97.90,325.00" fill="#858585" stroke="#000" stroke-width="1.1"/>
<polygon points="94.20,330.10 96.20,332.10 94.20,334.10 92.20,332.10" fill="#858585" stroke="#000" stroke-width="1.1"/>
<polygon points="99.90,331.60 101.90,333.60 99.90,335.60 97.90,333.60" fill="#858585" stroke="#000" stroke-width="1.1"/>
<polygon points="99.90,340.80 101.90,342.80 99.90,344.80 97.90,342.80" fill="#858585" stroke="#000" stroke-width="1.1"/>
<polygon points="102.90,340.80 104.90,342.80 102.90,344.80 100.90,342.80" fill="#858585" stroke="#000" stroke-width="1.1"/>
<polygon points="94.20,344.20 96.20,346.20 94.20,348.20 92.20,346.20" fill="#858585" stroke="#000" stroke-width="1.1"/>
<polygon points="99.90,347.90 101.90,349.90 99.90,351.90 97.90,349.90" fill="#858585" stroke="#000" stroke-width="1.1"/>
<polygon points="99.90,358.10 101.90,360.10 99.90,362.10 97.90,360.10" fill="#858585" stroke="#000" stroke-width="1.1"/>
<polygon points="102.90,358.10 104.90,360.10 102.90,362.10 100.90,360.10" fill="#858585" stroke="#000" stroke-width="1.1"/>
<polygon points="118.80,305.40 120.80,307.40 118.80,309.40 116.80,307.40" fill="#fff" stroke="#111" stroke-width="0.85"/>
<polygon points="118.80,327.10 120.80,329.10 118.80,331.10 116.80,329.10" fill="#fff" stroke="#111" stroke-width="0.85"/>
<polygon points="118.80,340.80 120.80,342.80 118.80,344.80 116.80,342.80" fill="#fff" stroke="#111" stroke-width="0.85"/>
<polygon points="112.90,347.90 114.90,349.90 112.90,351.90 110.90,349.90" fill="#fff" stroke="#111" stroke-width="0.85"/>
<polygon points="118.80,352.10 120.80,354.10 118.80,356.10 116.80,354.10" fill="#fff" stroke="#111" stroke-width="0.85"/>
<polygon points="118.80,358.10 120.80,360.10 118.80,362.10 116.80,360.10" fill="#fff" stroke="#111" stroke-width="0.85"/>
<polygon points="112.90,366.50 114.90,368.50 112.90,370.50 110.90,368.50" fill="#fff" stroke="#111" stroke-width="0.85"/>
<polygon points="118.80,366.50 120.80,368.50 118.80,370.50 116.80,368.50" fill="#fff" stroke="#111" stroke-width="0.85"/>
<polygon points="118.80,380.30 120.80,382.30 118.80,384.30 116.80,382.30" fill="#fff" stroke="#111" stroke-width="0.85"/>
<line x1="37.30" y1="351.80" x2="50.60" y2="351.80" stroke="#000" stroke-width="0.9" />
<line x1="58.80" y1="330.90" x2="68.80" y2="330.90" stroke="#000" stroke-width="0.9" />
<line x1="74.10" y1="339.10" x2="87.60" y2="339.10" stroke="#000" stroke-width="0.9" />
<line x1="93.20" y1="342.80" x2="106.20" y2="342.80" stroke="#000" stroke-width="0.9" />
<line x1="112.40" y1="354.10" x2="125.00" y2="354.10" stroke="#000" stroke-width="0.9" />
<path d="M42.30,292.20 q0,-1.6 1.6,-1.6 L50.30,290.60 q1.2,0 1.2,-1.6 q0,1.6 1.2,1.6 L60.20,290.60 q1.4,0 1.4,1.5 q0,-1.5 1.4,-1.5 L88.00,290.60 q1.2,0 1.2,-1.6 q0,1.6 1.2,1.6 L115.80,290.60 q1.6,0 1.6,1.6" fill="none" stroke="#a6a6a6" stroke-width="0.8"/>
<text x="51.50" y="290.00" font-size="6.5" text-anchor="middle" fill="#000" font-weight="bold" >*</text>
<text x="89.20" y="290.00" font-size="6.5" text-anchor="middle" fill="#000" font-weight="bold" >*</text>
<polygon points="40.60,397.40 65.60,402.80 65.60,406.80 40.60,406.80" fill="#000"/>
<text x="42.50" y="405.65" font-size="6.9" text-anchor="start" fill="#fff" font-weight="bold" >age</text>
<polygon points="78.10,397.40 119.40,406.80 119.40,407.20 78.10,407.20" fill="#000"/>
<text x="79.10" y="406.00" font-size="6.5" text-anchor="start" fill="#fff" font-weight="bold" >CD4</text>
<text x="51.50" y="420.20" font-size="7.6" text-anchor="middle" fill="#000" font-weight="bold" >HIV-</text>
<text x="96.60" y="420.20" font-size="7.6" text-anchor="middle" fill="#000" font-weight="bold" >HIV+</text>
<text x="221.70" y="192.40" font-size="7.15" text-anchor="start" fill="#000" font-weight="bold" textLength="86.00" lengthAdjust="spacingAndGlyphs" >Gated on CD34+ lin- cells</text>
<text x="165.40" y="223.90" font-size="8.1" text-anchor="middle" fill="#000" font-weight="bold" >Control</text>
<text x="164.00" y="283.20" font-size="8.0" text-anchor="middle" fill="#000" font-weight="bold" >HIV+</text>
<text x="164.00" y="292.90" font-size="8.0" text-anchor="middle" fill="#000" font-weight="bold" >CD4&gt;500</text>
<text x="164.00" y="345.20" font-size="8.0" text-anchor="middle" fill="#000" font-weight="bold" >HIV+</text>
<text x="164.00" y="355.90" font-size="8.0" text-anchor="middle" fill="#000" font-weight="bold" >CD4&lt;500</text>
<rect x="201.5" y="198.5" width="61.00" height="53.00" fill="#fff" stroke="#444" stroke-width="0.85"/>
<line x1="199.90" y1="199.50" x2="201.50" y2="199.50" stroke="#333" stroke-width="0.5" />
<text x="199.9" y="199.7" font-size="2.8" text-anchor="end" fill="#444" font-family="Liberation Sans, sans-serif">10</text>
<line x1="199.90" y1="216.00" x2="201.50" y2="216.00" stroke="#333" stroke-width="0.5" />
<text x="199.9" y="216.2" font-size="2.8" text-anchor="end" fill="#444" font-family="Liberation Sans, sans-serif">10</text>
<line x1="199.90" y1="236.50" x2="201.50" y2="236.50" stroke="#333" stroke-width="0.5" />
<text x="199.9" y="236.7" font-size="2.8" text-anchor="end" fill="#444" font-family="Liberation Sans, sans-serif">10</text>
<line x1="199.90" y1="244.20" x2="201.50" y2="244.20" stroke="#333" stroke-width="0.5" />
<text x="199.9" y="244.4" font-size="2.8" text-anchor="end" fill="#444" font-family="Liberation Sans, sans-serif">10</text>
<path d="M201.0,200.00h1.7M201.0,201.55h1.7M201.0,203.10h1.7M201.0,204.65h1.7M201.0,206.20h1.7M201.0,207.75h1.7M201.0,209.30h1.7M201.0,210.85h1.7M201.0,212.40h1.7M201.0,213.95h1.7M201.0,215.50h1.7M201.0,217.05h1.7M201.0,218.60h1.7M201.0,220.15h1.7M201.0,221.70h1.7M201.0,223.25h1.7M201.0,224.80h1.7M201.0,226.35h1.7M201.0,227.90h1.7M201.0,229.45h1.7M201.0,231.00h1.7M201.0,232.55h1.7M201.0,234.10h1.7M201.0,235.65h1.7M201.0,237.20h1.7M201.0,238.75h1.7M201.0,240.30h1.7M201.0,241.85h1.7M201.0,243.40h1.7M201.0,244.95h1.7M201.0,246.50h1.7M201.0,248.05h1.7" stroke="#222" stroke-width="0.6" fill="none"/>
<line x1="206.00" y1="251.50" x2="206.00" y2="253.00" stroke="#333" stroke-width="0.5" />
<text x="206.0" y="255.7" font-size="2.8" text-anchor="middle" fill="#444" font-family="Liberation Sans, sans-serif">10</text>
<line x1="209.50" y1="251.50" x2="209.50" y2="253.00" stroke="#333" stroke-width="0.5" />
<text x="209.5" y="255.7" font-size="2.8" text-anchor="middle" fill="#444" font-family="Liberation Sans, sans-serif">10</text>
<line x1="213.30" y1="251.50" x2="213.30" y2="253.00" stroke="#333" stroke-width="0.5" />
<text x="213.3" y="255.7" font-size="2.8" text-anchor="middle" fill="#444" font-family="Liberation Sans, sans-serif">10</text>
<line x1="240.70" y1="251.50" x2="240.70" y2="253.00" stroke="#333" stroke-width="0.5" />
<text x="240.7" y="255.7" font-size="2.8" text-anchor="middle" fill="#444" font-family="Liberation Sans, sans-serif">10</text>
<line x1="261.90" y1="251.50" x2="261.90" y2="253.00" stroke="#333" stroke-width="0.5" />
<text x="261.9" y="255.7" font-size="2.8" text-anchor="middle" fill="#444" font-family="Liberation Sans, sans-serif">10</text>
<path d="M203.00,251.9v-1.5M204.55,251.9v-1.5M206.10,251.9v-1.5M207.65,251.9v-1.5M209.20,251.9v-1.5M210.75,251.9v-1.5M212.30,251.9v-1.5M213.85,251.9v-1.5M215.40,251.9v-1.5M216.95,251.9v-1.5M218.50,251.9v-1.5M220.05,251.9v-1.5M221.60,251.9v-1.5M223.15,251.9v-1.5M224.70,251.9v-1.5M226.25,251.9v-1.5M227.80,251.9v-1.5M229.35,251.9v-1.5M230.90,251.9v-1.5M232.45,251.9v-1.5M234.00,251.9v-1.5M235.55,251.9v-1.5M237.10,251.9v-1.5M238.65,251.9v-1.5M240.20,251.9v-1.5M241.75,251.9v-1.5M243.30,251.9v-1.5M244.85,251.9v-1.5M246.40,251.9v-1.5M247.95,251.9v-1.5M249.50,251.9v-1.5M251.05,251.9v-1.5M252.60,251.9v-1.5M254.15,251.9v-1.5M255.70,251.9v-1.5M257.25,251.9v-1.5M258.80,251.9v-1.5M260.35,251.9v-1.5" stroke="#333" stroke-width="0.5" fill="none"/>
<path d="M211.1,235.2h.01M209.8,224.7h.01M208.8,219.1h.01M210.6,228.6h.01M211.1,222.7h.01M213.6,224.7h.01M210.8,217.9h.01M209.6,229.2h.01M210.5,232.5h.01M209.6,220.8h.01M210.2,237.4h.01M205.5,220.5h.01M207.0,226.4h.01M207.9,212.8h.01M211.9,210.8h.01M210.6,239.7h.01M211.1,234.8h.01M213.5,232.9h.01M208.3,212.4h.01M213.5,226.2h.01M211.7,227.6h.01M209.0,225.2h.01M214.3,226.7h.01M207.4,218.0h.01M208.1,223.4h.01M210.2,216.4h.01M211.7,222.1h.01M210.3,227.3h.01M205.7,219.0h.01M210.0,222.6h.01M210.5,221.5h.01M216.8,224.7h.01M214.0,231.2h.01M211.0,226.3h.01M208.2,227.4h.01M211.6,214.2h.01M208.0,222.0h.01M211.2,230.5h.01M211.6,218.4h.01M209.8,221.5h.01M211.3,217.6h.01M210.0,234.2h.01M209.4,221.3h.01M214.4,219.3h.01M212.1,229.0h.01M210.0,232.5h.01M208.9,228.1h.01M211.2,231.6h.01M212.1,226.1h.01M212.8,223.6h.01M214.2,221.4h.01M211.8,220.9h.01M208.1,220.3h.01M215.5,227.2h.01M213.5,223.8h.01M212.7,225.2h.01M213.9,228.9h.01M207.2,224.2h.01M209.9,214.7h.01M209.5,218.9h.01M213.6,216.5h.01M207.9,210.8h.01M210.0,225.3h.01M214.3,215.9h.01M212.3,215.3h.01M209.8,216.8h.01M215.2,230.8h.01M207.6,222.3h.01M211.8,231.7h.01M210.2,223.9h.01M211.9,221.4h.01M210.1,228.6h.01M208.8,228.8h.01M211.2,225.4h.01M207.6,217.1h.01M212.0,221.3h.01M210.0,216.0h.01M212.9,222.7h.01M209.7,225.2h.01M209.1,235.2h.01M211.7,234.7h.01M213.7,229.4h.01M205.8,231.4h.01M211.0,226.2h.01M212.2,244.5h.01M207.4,235.5h.01M208.6,243.6h.01M212.2,227.3h.01M208.8,227.5h.01M209.2,232.1h.01M214.8,225.9h.01M208.5,226.8h.01M208.7,217.4h.01M205.3,231.3h.01M208.1,225.5h.01M207.8,230.3h.01M214.8,222.9h.01M213.6,211.7h.01M207.7,228.1h.01M215.4,232.9h.01M212.5,215.3h.01M210.3,217.5h.01M212.6,222.3h.01M211.6,222.7h.01M208.9,212.3h.01M206.6,237.1h.01M208.6,231.8h.01M210.7,220.1h.01M209.9,211.5h.01M209.0,227.1h.01M213.0,238.8h.01M208.2,230.5h.01M212.8,232.8h.01M209.6,217.7h.01M211.0,226.2h.01M208.1,213.7h.01M210.7,238.7h.01M208.9,228.6h.01M206.6,209.3h.01M210.7,211.2h.01M210.6,228.0h.01M212.7,225.5h.01M211.4,222.3h.01M208.3,228.9h.01M209.3,239.0h.01M204.8,227.1h.01M208.1,211.5h.01M213.8,223.4h.01M214.3,215.1h.01M212.5,218.7h.01M211.4,226.8h.01M212.1,223.3h.01M211.9,216.8h.01M206.6,224.3h.01M208.7,218.6h.01M213.5,228.3h.01M213.5,222.7h.01M211.3,227.3h.01M210.0,222.5h.01M209.8,229.8h.01M209.4,223.5h.01M208.5,224.4h.01M206.2,220.4h.01M211.1,225.5h.01M209.6,211.7h.01M210.2,243.6h.01M214.8,219.5h.01M212.1,225.1h.01M209.1,221.0h.01M212.1,220.9h.01M207.1,227.3h.01M213.2,220.7h.01M211.3,221.3h.01M210.3,214.5h.01M212.1,217.8h.01M214.2,216.0h.01M209.6,237.4h.01M208.4,214.8h.01M215.7,216.7h.01M210.7,225.8h.01M214.3,234.7h.01M209.1,212.2h.01M211.6,213.3h.01M209.2,225.3h.01M212.2,226.8h.01M210.1,214.2h.01M209.1,211.4h.01M214.4,217.5h.01M211.5,229.8h.01M205.9,224.1h.01M210.2,229.7h.01M208.5,223.6h.01M207.8,224.1h.01M209.3,228.8h.01M209.6,223.5h.01M210.8,226.1h.01M208.8,217.8h.01M206.3,220.0h.01M209.4,227.7h.01M212.8,222.6h.01M207.5,219.0h.01M212.2,229.1h.01M211.8,228.3h.01M209.6,224.3h.01M211.4,218.9h.01M208.9,230.8h.01M209.8,242.3h.01M208.3,218.4h.01M211.8,213.3h.01M214.0,218.7h.01M209.1,217.6h.01M213.6,215.2h.01M205.6,215.8h.01M208.6,230.4h.01M208.3,230.5h.01M214.8,235.0h.01M209.3,229.7h.01M212.6,220.9h.01M205.8,232.1h.01M211.0,219.9h.01M212.1,221.8h.01M210.6,215.9h.01M204.2,233.2h.01M211.1,231.6h.01M212.6,221.0h.01M213.9,222.1h.01M211.7,224.6h.01M206.7,225.8h.01M210.2,230.4h.01M212.9,224.8h.01M208.7,227.2h.01M212.1,213.5h.01M209.6,222.1h.01M210.9,211.4h.01M212.5,237.1h.01M209.0,234.3h.01M217.5,229.5h.01M211.1,232.3h.01M211.5,238.7h.01M208.9,231.1h.01M210.8,212.8h.01M210.1,222.8h.01M207.2,207.3h.01M207.0,218.4h.01M211.4,215.3h.01M210.5,224.2h.01M204.4,227.1h.01M205.6,217.6h.01M210.0,222.2h.01M210.5,226.3h.01M212.2,223.1h.01M207.7,223.0h.01M212.1,207.0h.01M210.0,221.1h.01M209.5,230.0h.01M210.4,226.1h.01M213.1,213.6h.01M212.0,222.3h.01M212.8,226.2h.01M209.1,217.2h.01M210.0,229.1h.01M207.9,218.5h.01M209.4,221.9h.01M209.7,223.5h.01M209.6,240.3h.01M212.4,221.9h.01M211.7,220.1h.01M212.5,229.4h.01M211.0,220.8h.01M213.3,225.6h.01M211.0,208.0h.01M213.0,226.4h.01M211.9,224.1h.01M212.5,214.9h.01M210.5,234.0h.01M207.7,222.5h.01M207.2,222.8h.01M215.4,214.8h.01M211.6,212.5h.01M211.8,220.1h.01M210.3,213.3h.01M209.6,227.8h.01M217.6,230.5h.01M208.0,219.7h.01M210.5,212.6h.01M210.6,221.4h.01M208.0,216.6h.01M207.6,225.4h.01M209.0,225.5h.01M209.9,221.2h.01M209.5,224.7h.01M212.7,231.7h.01M207.9,236.5h.01M211.7,220.5h.01M214.2,229.4h.01M212.8,222.5h.01M208.0,216.6h.01M203.6,233.4h.01M212.7,227.0h.01M211.9,225.2h.01M209.3,226.8h.01M213.8,223.0h.01M209.7,216.6h.01M211.0,237.0h.01M208.2,230.7h.01M211.5,226.1h.01M209.7,231.2h.01M209.5,233.5h.01M213.3,222.8h.01M211.2,228.4h.01M207.1,221.9h.01M212.4,228.8h.01M212.7,222.4h.01M208.7,241.7h.01M209.8,221.6h.01M210.8,227.9h.01M210.1,227.5h.01M211.0,221.8h.01M212.3,230.9h.01M209.5,223.6h.01M215.7,221.2h.01M209.0,224.2h.01M209.4,218.8h.01M215.4,232.8h.01M216.4,228.7h.01M210.8,231.3h.01M210.3,214.5h.01M208.1,226.1h.01M213.4,218.7h.01M211.1,224.8h.01M208.7,233.4h.01M211.7,226.1h.01M214.0,222.9h.01M212.3,232.3h.01M216.0,231.5h.01M213.5,237.5h.01M211.8,210.8h.01M210.6,226.6h.01M212.0,221.2h.01M213.6,217.9h.01M212.8,225.0h.01M213.2,215.8h.01M211.2,208.1h.01M212.5,217.7h.01M213.6,222.3h.01M210.3,237.6h.01M207.6,219.0h.01M214.8,215.8h.01M212.1,210.0h.01M209.6,221.7h.01M211.3,222.5h.01M210.1,225.3h.01M206.6,213.8h.01M210.3,218.7h.01M207.3,207.9h.01M211.2,225.4h.01M210.4,212.9h.01M213.4,204.4h.01M210.4,232.6h.01M211.6,227.8h.01M210.0,226.7h.01M209.8,226.7h.01M207.3,216.7h.01M213.1,231.9h.01M211.1,216.7h.01M209.3,238.0h.01M211.2,225.8h.01M209.7,210.9h.01M209.0,230.5h.01M211.3,238.4h.01M213.6,222.4h.01M210.1,231.9h.01M207.3,222.7h.01M209.2,219.7h.01M215.0,205.6h.01M208.8,233.1h.01M213.6,221.0h.01M210.1,226.9h.01M212.5,216.0h.01M210.4,217.7h.01M206.9,232.3h.01M209.7,221.4h.01M215.8,221.3h.01M210.4,215.1h.01M212.1,225.7h.01M209.9,229.8h.01M210.4,220.9h.01M211.5,222.9h.01M211.8,215.4h.01M216.0,234.3h.01M210.7,219.8h.01M210.3,223.1h.01M209.1,236.4h.01M207.6,222.6h.01M206.8,213.0h.01M212.3,217.6h.01M206.2,221.6h.01M214.1,237.1h.01M212.8,225.9h.01M210.0,222.6h.01M207.9,230.2h.01M210.8,233.7h.01M210.8,218.8h.01M213.4,234.6h.01M208.9,230.5h.01M209.8,227.5h.01M210.6,207.2h.01M210.0,225.7h.01M209.2,234.3h.01M206.6,222.3h.01M206.8,241.0h.01M209.1,224.8h.01M210.2,216.9h.01M213.1,228.6h.01M216.2,226.4h.01M214.8,230.3h.01M211.7,222.7h.01M215.2,233.7h.01M210.4,220.3h.01M209.4,225.3h.01M216.3,215.3h.01M208.1,218.5h.01M209.7,225.8h.01M210.1,219.5h.01M214.2,221.0h.01M209.3,222.8h.01M212.6,226.1h.01M209.7,229.9h.01M207.8,229.9h.01M211.3,231.7h.01M211.1,225.8h.01M207.9,220.4h.01M208.6,212.8h.01M208.8,221.8h.01M213.0,218.5h.01M211.8,211.1h.01M211.3,236.3h.01M211.9,211.0h.01M209.6,226.9h.01M211.9,228.4h.01M209.3,222.6h.01M207.5,243.2h.01M209.0,224.5h.01M211.2,218.8h.01M210.9,237.2h.01M213.3,218.5h.01M206.7,213.9h.01M210.2,217.0h.01M211.7,219.7h.01M208.4,224.7h.01M211.3,226.8h.01M209.7,213.3h.01M208.0,226.9h.01M213.4,240.6h.01M207.4,219.1h.01M213.1,223.4h.01M209.7,229.4h.01M208.5,233.1h.01M208.6,219.5h.01M208.9,217.3h.01M208.7,217.0h.01M211.4,232.3h.01M206.2,230.9h.01M213.7,208.5h.01M212.7,208.7h.01M214.0,215.3h.01M208.4,213.4h.01M205.2,227.3h.01M209.2,225.9h.01M210.3,238.6h.01M211.4,230.1h.01M209.5,225.2h.01M210.5,233.0h.01M211.1,217.8h.01M207.0,214.1h.01M215.1,224.6h.01M208.0,231.2h.01M211.4,212.5h.01M213.3,230.9h.01M208.8,230.6h.01M210.7,220.7h.01M214.6,225.6h.01M210.0,222.3h.01M213.2,224.9h.01M211.4,230.2h.01M211.3,218.5h.01M212.4,231.9h.01M210.2,230.7h.01M210.2,231.0h.01M213.0,209.9h.01M211.4,210.7h.01M211.9,229.4h.01M207.9,220.1h.01M210.8,219.3h.01M213.6,218.7h.01M212.9,214.5h.01M211.6,222.2h.01M209.5,219.1h.01M209.3,219.5h.01M211.8,227.8h.01M214.1,215.7h.01M210.8,232.6h.01M213.9,208.1h.01M210.0,242.7h.01M213.6,214.4h.01M208.3,228.6h.01M211.2,231.0h.01M208.2,224.3h.01M212.3,229.8h.01M212.1,223.5h.01M208.5,211.4h.01M209.0,226.9h.01M209.7,232.7h.01M207.2,220.3h.01M208.5,211.9h.01M208.7,219.9h.01M212.6,226.7h.01M214.1,226.5h.01M209.7,232.4h.01M210.0,228.4h.01M211.2,228.1h.01M209.5,209.7h.01M210.1,240.7h.01M212.7,224.7h.01M211.3,230.7h.01M210.5,221.8h.01M209.4,223.2h.01M214.3,224.8h.01M209.3,235.9h.01M211.0,235.5h.01M208.3,228.9h.01M209.3,238.9h.01M211.0,221.5h.01M209.8,228.2h.01M212.0,221.0h.01M210.9,233.9h.01M207.4,224.6h.01M205.2,231.5h.01M213.1,237.0h.01M209.3,209.2h.01" fill="none" stroke="#000" stroke-width="0.72" stroke-linecap="round" opacity="0.92"/>
<path d="M213.8,222.4h.01M211.1,221.2h.01M210.2,222.0h.01M207.9,225.2h.01M210.2,224.8h.01M207.4,225.4h.01M210.8,226.5h.01M210.4,219.6h.01M213.3,219.4h.01M210.2,219.0h.01M212.2,218.5h.01M212.3,223.6h.01M213.6,225.3h.01M210.3,234.4h.01M211.8,226.2h.01M208.5,224.1h.01M209.1,229.8h.01M210.3,221.0h.01M210.7,225.4h.01M208.9,228.0h.01M210.1,227.2h.01M211.7,225.7h.01M210.0,222.6h.01M210.5,218.9h.01M209.4,223.4h.01M212.7,221.6h.01M213.2,226.8h.01M211.0,223.4h.01M210.5,226.3h.01M213.1,217.4h.01M211.4,228.0h.01M209.7,220.5h.01M208.8,217.6h.01M209.8,218.4h.01M213.8,221.4h.01M209.8,228.6h.01M214.8,226.9h.01M210.7,219.2h.01M210.4,224.4h.01M212.6,223.6h.01M210.3,217.6h.01M211.2,219.9h.01M209.2,215.6h.01M208.9,220.4h.01M209.6,213.1h.01M211.0,220.7h.01M209.7,220.2h.01M207.9,220.7h.01M211.4,220.6h.01M210.5,228.7h.01M210.3,222.6h.01M209.8,225.0h.01M207.5,227.1h.01M213.0,227.7h.01M210.0,226.8h.01M211.5,221.7h.01M212.7,219.5h.01M212.3,220.8h.01M211.0,222.1h.01M210.7,224.0h.01M211.1,223.6h.01M212.0,228.5h.01M211.5,223.6h.01M210.1,231.3h.01M211.3,228.2h.01M211.2,222.0h.01M211.7,227.5h.01M211.0,212.2h.01M212.7,229.6h.01M211.0,225.7h.01M212.0,225.6h.01M210.8,217.1h.01M209.9,234.3h.01M209.3,223.0h.01M210.5,223.4h.01M211.5,228.6h.01M212.5,223.2h.01M210.6,220.5h.01M210.0,226.7h.01M210.0,219.8h.01M212.6,227.0h.01M210.9,224.6h.01M210.0,228.6h.01M211.8,219.0h.01M208.8,229.1h.01M210.9,225.2h.01M210.6,232.1h.01M210.5,221.3h.01M209.0,231.6h.01M212.1,226.9h.01M213.1,227.2h.01M208.8,221.0h.01M210.9,226.3h.01M211.6,226.7h.01M213.9,220.6h.01M210.1,219.3h.01M209.3,220.8h.01M210.7,230.0h.01M213.6,224.6h.01M210.8,227.8h.01M211.1,225.2h.01M213.2,224.5h.01M207.6,224.9h.01M207.6,222.3h.01M212.0,229.0h.01M211.8,224.7h.01M208.7,224.9h.01M211.4,218.3h.01M210.8,225.3h.01M211.0,221.2h.01M209.5,221.9h.01M210.0,228.2h.01M209.4,219.5h.01M210.8,223.2h.01M210.4,226.6h.01M213.1,228.7h.01M211.6,221.9h.01M208.4,225.3h.01M211.3,225.2h.01M212.8,219.4h.01M211.1,215.2h.01M212.3,216.1h.01M210.7,226.5h.01M211.7,224.4h.01M209.4,218.5h.01M211.8,221.4h.01M208.7,222.4h.01M212.6,222.5h.01M208.5,223.9h.01M207.7,233.0h.01M211.5,220.8h.01M210.5,224.6h.01M210.9,220.8h.01M211.3,221.4h.01M210.7,220.4h.01M209.4,223.1h.01M211.0,221.7h.01M211.2,225.4h.01M211.4,224.9h.01M213.6,220.3h.01M209.6,231.8h.01M210.8,219.2h.01M211.5,225.5h.01M210.1,232.9h.01M209.0,221.1h.01M209.9,229.4h.01M212.2,229.8h.01M210.3,225.4h.01M211.6,216.4h.01M209.6,229.8h.01M211.3,224.4h.01M209.7,221.8h.01M209.5,229.2h.01M210.9,221.0h.01M210.8,228.3h.01M212.8,221.8h.01M208.4,226.2h.01M211.4,219.6h.01M213.0,222.4h.01M212.7,220.3h.01" fill="none" stroke="#000" stroke-width="0.72" stroke-linecap="round" opacity="0.92"/>
<path d="M223.8,240.0h.01M227.0,240.2h.01M225.7,240.4h.01M227.0,239.3h.01M230.9,243.7h.01M225.9,241.6h.01M219.6,238.1h.01M225.3,239.5h.01M226.6,239.2h.01M229.9,241.6h.01M230.0,242.8h.01M229.7,239.7h.01M225.5,242.1h.01M228.6,240.8h.01M221.1,243.0h.01M230.9,243.3h.01M227.9,241.7h.01M228.1,242.3h.01M224.9,241.2h.01M226.5,240.6h.01M223.9,239.4h.01M228.3,241.7h.01M221.5,241.1h.01M229.8,240.6h.01M228.2,241.1h.01M233.5,240.9h.01M226.2,239.6h.01M226.0,240.4h.01M227.0,242.9h.01M226.4,240.8h.01M225.9,243.3h.01M222.4,239.4h.01M222.3,239.1h.01M224.3,241.4h.01M225.3,242.4h.01M222.1,240.2h.01M222.1,242.2h.01M225.3,242.6h.01M228.9,242.8h.01M225.6,241.0h.01M228.7,241.1h.01M229.8,238.7h.01M229.0,241.2h.01M224.8,241.6h.01M224.9,243.3h.01M219.6,239.3h.01M223.9,239.9h.01M228.0,239.7h.01M222.4,242.6h.01M231.1,237.4h.01M231.4,239.6h.01M225.0,244.3h.01M229.6,242.2h.01M221.2,239.2h.01M222.6,241.1h.01M225.0,242.5h.01M226.3,242.0h.01M225.6,240.9h.01M223.2,240.0h.01M233.3,242.5h.01M227.3,241.2h.01M227.3,242.4h.01M228.7,241.8h.01M226.9,240.5h.01M225.5,243.4h.01M224.3,240.4h.01M220.4,241.9h.01M231.6,240.2h.01M223.0,240.9h.01M220.4,240.8h.01M223.4,240.2h.01M220.6,241.6h.01M233.4,243.2h.01M227.6,244.0h.01M231.3,243.4h.01M231.5,240.9h.01M228.3,243.4h.01M228.3,241.8h.01M223.7,243.9h.01M226.0,239.3h.01M224.1,243.4h.01M226.5,240.3h.01M223.8,243.0h.01M230.8,240.5h.01M229.0,242.6h.01M225.9,240.8h.01M220.3,238.4h.01M228.7,239.7h.01M229.5,240.8h.01M226.1,241.2h.01M221.8,237.8h.01M227.8,239.4h.01M230.1,240.1h.01M219.5,240.9h.01M228.3,241.5h.01M219.8,240.0h.01M226.6,238.9h.01M232.5,241.7h.01M226.6,240.7h.01M228.0,242.5h.01M225.2,240.4h.01M226.3,242.2h.01M234.7,239.9h.01M231.1,241.6h.01M225.2,241.3h.01M224.9,241.9h.01M226.4,239.8h.01M234.1,241.0h.01M227.0,239.9h.01M230.3,241.0h.01M225.0,242.1h.01M221.8,245.7h.01M231.0,241.3h.01M226.0,242.3h.01M223.5,241.4h.01M223.8,242.9h.01M223.9,241.9h.01M224.1,242.8h.01M220.8,241.7h.01M230.6,244.8h.01M227.7,243.3h.01M229.8,238.6h.01M225.1,241.7h.01M227.5,241.3h.01M226.9,237.9h.01M230.5,239.9h.01M229.2,240.5h.01M227.6,240.1h.01M224.0,241.4h.01M222.0,238.5h.01" fill="none" stroke="#111" stroke-width="0.70" stroke-linecap="round" opacity="0.68"/>
<path d="M240.0,211.8h.01M240.3,234.7h.01M236.9,224.5h.01M231.4,229.7h.01M234.1,225.9h.01M230.3,227.1h.01M243.2,218.7h.01M238.1,236.8h.01M250.1,209.6h.01M231.1,223.2h.01M245.7,219.1h.01M229.4,217.1h.01M232.7,221.9h.01M225.7,212.3h.01M238.2,226.9h.01M233.6,226.2h.01M239.0,220.0h.01M246.0,225.7h.01M233.6,209.7h.01M237.1,202.8h.01M241.3,213.8h.01M233.6,216.9h.01M229.7,241.6h.01M236.9,217.0h.01M238.1,228.4h.01M240.3,226.7h.01M240.7,238.1h.01M228.7,220.1h.01M237.6,225.0h.01M243.9,217.3h.01M230.3,211.3h.01M237.0,210.0h.01M229.1,212.0h.01M235.4,232.0h.01M248.0,221.7h.01M235.4,217.7h.01M226.3,219.2h.01M236.8,214.0h.01M235.8,218.8h.01M243.0,218.7h.01M223.0,225.0h.01M226.7,227.3h.01M233.4,204.3h.01M221.6,221.2h.01M243.2,231.5h.01M217.8,209.9h.01M227.4,216.8h.01M222.2,220.6h.01M228.8,229.0h.01M240.5,224.5h.01M238.9,217.1h.01M241.5,223.6h.01M238.9,228.4h.01M217.8,222.6h.01M236.5,235.8h.01M219.3,222.9h.01M230.0,209.6h.01M230.9,212.0h.01M229.7,217.9h.01M238.0,217.2h.01" fill="none" stroke="#666" stroke-width="0.60" stroke-linecap="round" opacity="0.34"/>
<path d="M209.9,249.2h.01M209.1,247.5h.01M213.2,239.4h.01M210.5,242.2h.01M212.5,244.1h.01M205.7,246.1h.01M206.8,243.8h.01M210.1,240.0h.01M208.3,246.5h.01M209.9,243.4h.01M208.8,247.7h.01M206.2,245.0h.01" fill="none" stroke="#444" stroke-width="0.64" stroke-linecap="round" opacity="0.42"/>
<line x1="217.50" y1="198.50" x2="217.50" y2="251.50" stroke="#444" stroke-width="0.85" />
<line x1="201.50" y1="236.50" x2="262.50" y2="236.50" stroke="#444" stroke-width="0.85" />
<text x="203.10" y="203.70" font-size="5.5" text-anchor="start" fill="#000" font-weight="bold" >72%</text>
<text x="259.90" y="203.70" font-size="5.5" text-anchor="end" fill="#000" font-weight="bold" >4%</text>
<text x="260.10" y="249.90" font-size="5.5" text-anchor="end" fill="#000" font-weight="bold" >15%</text>
<rect x="201.5" y="259.5" width="61.00" height="53.00" fill="#fff" stroke="#444" stroke-width="0.85"/>
<line x1="199.90" y1="260.50" x2="201.50" y2="260.50" stroke="#333" stroke-width="0.5" />
<text x="199.9" y="260.7" font-size="2.8" text-anchor="end" fill="#444" font-family="Liberation Sans, sans-serif">10</text>
<line x1="199.90" y1="277.00" x2="201.50" y2="277.00" stroke="#333" stroke-width="0.5" />
<text x="199.9" y="277.2" font-size="2.8" text-anchor="end" fill="#444" font-family="Liberation Sans, sans-serif">10</text>
<line x1="199.90" y1="298.50" x2="201.50" y2="298.50" stroke="#333" stroke-width="0.5" />
<text x="199.9" y="298.7" font-size="2.8" text-anchor="end" fill="#444" font-family="Liberation Sans, sans-serif">10</text>
<line x1="199.90" y1="306.20" x2="201.50" y2="306.20" stroke="#333" stroke-width="0.5" />
<text x="199.9" y="306.4" font-size="2.8" text-anchor="end" fill="#444" font-family="Liberation Sans, sans-serif">10</text>
<path d="M201.0,261.00h1.7M201.0,262.55h1.7M201.0,264.10h1.7M201.0,265.65h1.7M201.0,267.20h1.7M201.0,268.75h1.7M201.0,270.30h1.7M201.0,271.85h1.7M201.0,273.40h1.7M201.0,274.95h1.7M201.0,276.50h1.7M201.0,278.05h1.7M201.0,279.60h1.7M201.0,281.15h1.7M201.0,282.70h1.7M201.0,284.25h1.7M201.0,285.80h1.7M201.0,287.35h1.7M201.0,288.90h1.7M201.0,290.45h1.7M201.0,292.00h1.7M201.0,293.55h1.7M201.0,295.10h1.7M201.0,296.65h1.7M201.0,298.20h1.7M201.0,299.75h1.7M201.0,301.30h1.7M201.0,302.85h1.7M201.0,304.40h1.7M201.0,305.95h1.7M201.0,307.50h1.7M201.0,309.05h1.7" stroke="#222" stroke-width="0.6" fill="none"/>
<line x1="206.00" y1="312.50" x2="206.00" y2="314.00" stroke="#333" stroke-width="0.5" />
<text x="206.0" y="316.7" font-size="2.8" text-anchor="middle" fill="#444" font-family="Liberation Sans, sans-serif">10</text>
<line x1="209.50" y1="312.50" x2="209.50" y2="314.00" stroke="#333" stroke-width="0.5" />
<text x="209.5" y="316.7" font-size="2.8" text-anchor="middle" fill="#444" font-family="Liberation Sans, sans-serif">10</text>
<line x1="213.30" y1="312.50" x2="213.30" y2="314.00" stroke="#333" stroke-width="0.5" />
<text x="213.3" y="316.7" font-size="2.8" text-anchor="middle" fill="#444" font-family="Liberation Sans, sans-serif">10</text>
<line x1="240.70" y1="312.50" x2="240.70" y2="314.00" stroke="#333" stroke-width="0.5" />
<text x="240.7" y="316.7" font-size="2.8" text-anchor="middle" fill="#444" font-family="Liberation Sans, sans-serif">10</text>
<line x1="261.90" y1="312.50" x2="261.90" y2="314.00" stroke="#333" stroke-width="0.5" />
<text x="261.9" y="316.7" font-size="2.8" text-anchor="middle" fill="#444" font-family="Liberation Sans, sans-serif">10</text>
<path d="M203.00,312.9v-1.5M204.55,312.9v-1.5M206.10,312.9v-1.5M207.65,312.9v-1.5M209.20,312.9v-1.5M210.75,312.9v-1.5M212.30,312.9v-1.5M213.85,312.9v-1.5M215.40,312.9v-1.5M216.95,312.9v-1.5M218.50,312.9v-1.5M220.05,312.9v-1.5M221.60,312.9v-1.5M223.15,312.9v-1.5M224.70,312.9v-1.5M226.25,312.9v-1.5M227.80,312.9v-1.5M229.35,312.9v-1.5M230.90,312.9v-1.5M232.45,312.9v-1.5M234.00,312.9v-1.5M235.55,312.9v-1.5M237.10,312.9v-1.5M238.65,312.9v-1.5M240.20,312.9v-1.5M241.75,312.9v-1.5M243.30,312.9v-1.5M244.85,312.9v-1.5M246.40,312.9v-1.5M247.95,312.9v-1.5M249.50,312.9v-1.5M251.05,312.9v-1.5M252.60,312.9v-1.5M254.15,312.9v-1.5M255.70,312.9v-1.5M257.25,312.9v-1.5M258.80,312.9v-1.5M260.35,312.9v-1.5" stroke="#333" stroke-width="0.5" fill="none"/>
<path d="M214.4,285.7h.01M213.9,272.7h.01M214.0,290.3h.01M209.8,295.0h.01M214.4,287.2h.01M212.0,276.4h.01M207.6,291.1h.01M210.2,278.8h.01M210.3,285.0h.01M212.8,288.6h.01M213.4,280.6h.01M208.0,274.5h.01M213.5,284.9h.01M211.2,285.5h.01M208.2,280.1h.01M213.9,280.6h.01M209.1,290.7h.01M207.8,285.2h.01M213.6,282.7h.01M214.1,281.8h.01M209.4,286.9h.01M214.5,286.4h.01M214.4,284.6h.01M209.8,276.5h.01M217.4,283.3h.01M211.2,281.6h.01M212.0,286.2h.01M204.2,293.5h.01M213.3,292.1h.01M209.5,290.0h.01M212.7,286.5h.01M206.3,283.6h.01M214.8,288.0h.01M215.7,282.6h.01M217.0,283.5h.01M202.5,280.2h.01M213.1,285.4h.01M212.4,285.3h.01M202.3,298.0h.01M209.2,289.4h.01M211.1,283.3h.01M215.7,290.9h.01M208.9,282.6h.01M212.0,292.5h.01M211.2,290.9h.01M212.5,304.9h.01M210.2,278.6h.01M214.1,285.3h.01M214.3,285.0h.01M207.3,287.7h.01M214.8,290.5h.01M209.2,279.3h.01M210.6,281.0h.01M214.8,287.8h.01M211.7,292.2h.01M213.1,278.4h.01M213.8,275.5h.01M213.2,293.3h.01M209.8,291.3h.01M208.6,292.9h.01M213.5,279.4h.01M213.7,284.4h.01M212.5,287.3h.01M210.9,288.7h.01M214.0,285.0h.01M211.4,285.4h.01M207.3,292.4h.01M212.3,282.9h.01M213.0,282.2h.01M213.8,282.9h.01M208.8,282.4h.01M209.2,286.6h.01M212.4,284.4h.01M210.1,282.9h.01M211.3,295.1h.01M214.3,287.7h.01M212.6,283.6h.01M216.9,294.0h.01M212.3,282.2h.01M216.6,285.8h.01M214.7,285.2h.01M219.1,282.0h.01M211.5,283.3h.01M211.2,286.3h.01M215.4,276.4h.01M210.0,283.2h.01M210.1,287.4h.01M212.2,287.6h.01M212.6,287.7h.01M207.3,301.0h.01M212.3,290.1h.01M210.6,284.8h.01M211.4,285.0h.01M212.1,285.8h.01M211.0,288.6h.01M214.7,283.8h.01M213.0,295.6h.01M211.0,278.6h.01M211.8,289.9h.01M214.7,289.0h.01M213.9,278.3h.01M215.3,289.8h.01M211.2,289.4h.01M212.0,281.6h.01M217.6,300.8h.01M211.5,290.4h.01M216.6,283.6h.01M214.1,282.7h.01M210.3,280.9h.01M207.4,287.4h.01M213.5,286.2h.01M209.5,276.6h.01M209.5,279.0h.01M206.4,281.1h.01M215.1,283.1h.01M211.9,283.4h.01M211.7,281.4h.01M212.8,289.9h.01M212.3,291.9h.01M211.9,286.2h.01M213.1,271.5h.01M210.8,284.7h.01M203.9,289.4h.01M213.8,285.2h.01M212.9,287.5h.01M211.7,286.4h.01M216.3,276.1h.01M207.5,269.4h.01M203.0,289.8h.01M216.0,282.4h.01M212.8,288.4h.01M206.7,283.8h.01M210.4,284.6h.01M213.5,294.6h.01M208.0,278.0h.01M213.3,285.7h.01M217.9,278.7h.01M215.8,286.2h.01M211.5,288.8h.01M212.6,289.9h.01M208.8,286.7h.01M212.0,276.8h.01M210.6,287.3h.01M208.7,291.5h.01M207.6,292.2h.01M217.4,299.6h.01M211.9,289.4h.01M208.6,279.2h.01M210.4,282.4h.01M216.0,286.3h.01M216.4,292.5h.01M209.8,278.4h.01M212.2,291.6h.01M214.3,289.9h.01M210.6,280.1h.01M208.1,289.7h.01M208.7,280.8h.01M211.6,285.7h.01M209.3,283.8h.01M207.8,287.3h.01M210.9,278.1h.01M214.4,289.1h.01M213.6,271.7h.01M210.9,283.1h.01M217.3,282.1h.01M209.3,295.9h.01M211.4,289.2h.01M207.5,282.6h.01M213.9,280.0h.01M211.2,286.0h.01M206.6,281.7h.01M209.1,300.2h.01M217.0,267.8h.01M213.8,286.2h.01M211.9,269.9h.01M214.2,292.4h.01M206.8,280.6h.01M209.1,296.1h.01M207.6,282.2h.01M209.1,292.7h.01M210.5,287.1h.01M213.2,293.4h.01M214.6,285.9h.01M214.5,266.6h.01M219.6,281.1h.01M210.1,275.7h.01M211.5,291.8h.01M213.1,289.2h.01M209.1,285.8h.01M210.7,288.7h.01M212.8,287.0h.01M209.0,282.1h.01M213.0,298.4h.01M215.2,287.3h.01M208.3,284.5h.01M204.8,276.3h.01M211.8,281.7h.01M208.5,285.8h.01M212.1,284.6h.01M210.2,282.7h.01M212.5,285.4h.01M214.9,278.5h.01M214.0,285.8h.01M210.5,275.8h.01M208.1,280.2h.01M204.2,281.0h.01M205.1,291.4h.01M209.2,288.9h.01M211.8,286.2h.01M209.5,278.3h.01M209.8,283.2h.01M206.8,290.9h.01M206.6,293.8h.01M206.4,276.2h.01M213.4,283.0h.01M205.6,286.4h.01M213.5,288.0h.01M208.8,285.8h.01M213.1,290.1h.01M212.2,276.4h.01M213.7,295.8h.01M215.0,278.4h.01M209.1,286.1h.01M208.5,289.1h.01M210.1,293.3h.01M209.1,291.6h.01M213.4,291.4h.01M211.0,294.0h.01M211.4,284.8h.01M212.6,290.6h.01M209.9,295.8h.01M214.6,280.9h.01M205.9,276.7h.01M212.0,279.3h.01M212.8,294.9h.01M209.0,293.8h.01M209.3,283.5h.01M214.0,287.4h.01M210.4,288.9h.01M205.6,292.6h.01M207.3,273.6h.01M214.3,282.2h.01M208.7,284.1h.01M215.2,287.9h.01M215.4,286.3h.01M210.7,283.8h.01M212.9,287.7h.01M208.8,269.2h.01M210.1,305.8h.01M209.2,291.2h.01M213.1,291.6h.01M207.5,281.6h.01M210.9,288.5h.01M211.4,299.2h.01M212.8,297.7h.01M205.0,286.3h.01M206.0,277.8h.01M208.7,286.9h.01M210.6,283.9h.01M211.7,291.4h.01M211.9,277.6h.01M217.3,284.7h.01M213.2,287.6h.01M213.0,282.8h.01M209.8,292.7h.01M213.6,278.5h.01M213.3,277.9h.01M213.3,283.6h.01M210.9,291.3h.01M213.1,283.9h.01M215.8,282.0h.01M208.9,291.1h.01M204.8,287.3h.01M213.7,282.5h.01M213.5,286.7h.01M210.6,284.3h.01M209.9,289.8h.01M219.5,286.8h.01M209.9,280.7h.01M207.6,282.8h.01M209.8,283.2h.01M212.8,288.3h.01M209.4,288.3h.01M210.1,280.5h.01M212.2,284.6h.01M210.0,287.9h.01M211.6,293.0h.01M211.1,287.5h.01M208.1,298.6h.01M211.5,286.0h.01M207.8,290.7h.01M214.0,283.8h.01M208.5,279.4h.01M210.5,286.6h.01M205.8,289.0h.01M209.9,288.0h.01M207.5,286.8h.01M215.7,283.7h.01M210.9,280.5h.01M212.8,283.9h.01M206.0,288.9h.01M207.6,292.1h.01M210.7,264.5h.01M207.2,289.8h.01M214.6,292.9h.01M210.0,294.1h.01M211.7,288.4h.01M212.1,290.2h.01M210.8,283.0h.01M213.5,285.3h.01M209.2,289.3h.01M212.3,278.7h.01M214.8,280.7h.01M211.9,287.2h.01M211.6,277.2h.01M210.2,286.2h.01M211.4,276.2h.01M213.2,287.1h.01M210.5,286.1h.01M206.2,282.2h.01M211.7,279.7h.01M210.8,282.6h.01M212.6,271.3h.01M211.3,283.3h.01M215.9,286.6h.01M207.7,293.7h.01M208.4,282.6h.01M213.2,284.7h.01M208.2,294.9h.01M212.2,297.2h.01" fill="none" stroke="#111" stroke-width="0.70" stroke-linecap="round" opacity="0.68"/>
<path d="M210.7,291.8h.01M212.8,282.0h.01M213.0,283.5h.01M212.1,284.6h.01M210.0,283.5h.01M210.1,285.8h.01M212.1,287.4h.01M214.5,283.6h.01M211.1,288.5h.01M213.5,291.2h.01M213.9,290.6h.01M209.7,293.2h.01M210.6,290.7h.01M213.4,287.4h.01M212.7,292.6h.01M212.1,289.5h.01M211.4,292.9h.01M212.2,286.9h.01M210.5,281.4h.01M214.7,284.1h.01M209.8,288.0h.01M209.0,289.0h.01M211.6,286.9h.01M213.3,290.4h.01M210.7,284.1h.01M211.3,285.4h.01M210.0,290.3h.01M211.3,287.6h.01M210.0,287.7h.01M210.0,291.5h.01M209.4,290.6h.01M210.6,285.2h.01M213.9,288.1h.01M211.3,282.6h.01M211.6,287.4h.01M214.4,288.6h.01M210.5,282.5h.01M210.0,292.0h.01M212.1,293.3h.01M209.7,288.9h.01M211.8,290.2h.01M212.9,291.8h.01M209.9,287.0h.01M210.7,290.5h.01M213.7,288.6h.01M209.9,283.1h.01M210.5,284.9h.01M211.7,285.9h.01M210.9,290.6h.01M210.2,287.8h.01M213.5,290.3h.01M210.6,286.1h.01M211.8,283.8h.01M210.8,293.5h.01M211.1,295.4h.01M209.5,288.6h.01M212.6,286.9h.01M210.8,290.9h.01M213.1,284.3h.01M209.8,286.9h.01M210.7,283.4h.01M212.0,288.9h.01M211.5,288.2h.01M210.5,286.3h.01M211.2,285.6h.01M209.6,283.1h.01M211.4,285.1h.01M207.8,291.1h.01M211.6,286.5h.01M213.2,291.1h.01M212.6,285.0h.01M212.5,287.3h.01M210.8,286.2h.01M212.0,286.8h.01M210.8,289.7h.01M211.3,281.6h.01M211.2,289.6h.01M206.8,289.5h.01M212.6,287.5h.01M212.0,287.7h.01M212.5,286.9h.01M210.1,289.5h.01M212.3,287.7h.01M212.0,285.1h.01M208.4,287.9h.01M209.0,290.3h.01M211.4,288.6h.01M210.5,287.6h.01M211.3,288.1h.01M210.5,286.1h.01" fill="none" stroke="#000" stroke-width="0.72" stroke-linecap="round" opacity="0.92"/>
<path d="M227.8,304.1h.01M219.5,305.7h.01M229.4,303.4h.01M236.1,302.4h.01M228.2,295.3h.01M225.2,306.5h.01M235.6,300.9h.01M231.4,306.7h.01M231.2,309.9h.01M233.1,300.4h.01M234.4,307.1h.01M230.2,304.1h.01M225.6,305.8h.01M240.4,300.8h.01M230.7,304.5h.01M226.0,304.9h.01M231.5,308.8h.01M237.3,311.0h.01M222.3,305.4h.01M237.9,303.3h.01M229.6,311.2h.01M241.9,304.1h.01M234.3,304.3h.01M229.8,304.7h.01M237.6,305.8h.01M237.7,306.6h.01M228.4,302.7h.01M231.8,304.1h.01M227.5,310.2h.01M235.7,309.3h.01M222.4,305.8h.01M229.4,305.3h.01M218.2,303.7h.01M233.8,307.6h.01M217.6,302.9h.01M224.4,304.8h.01M231.9,303.1h.01M228.4,302.5h.01M227.9,304.6h.01M224.9,304.5h.01M227.7,302.7h.01M220.4,304.2h.01M232.3,304.7h.01M235.0,303.0h.01M234.8,302.5h.01M230.2,304.0h.01M237.4,306.6h.01M233.1,307.8h.01M235.9,305.0h.01M232.7,303.6h.01M230.6,304.4h.01M226.1,310.3h.01M215.4,307.2h.01M234.1,301.6h.01M229.8,304.3h.01M241.8,302.8h.01M219.1,303.3h.01M235.2,299.3h.01M225.0,304.5h.01M230.4,300.3h.01M225.4,302.7h.01M232.4,309.1h.01M230.3,307.5h.01M235.4,301.8h.01M231.3,301.3h.01M233.2,301.7h.01M237.7,298.7h.01M233.4,301.5h.01M229.7,303.6h.01M237.5,301.3h.01" fill="none" stroke="#666" stroke-width="0.60" stroke-linecap="round" opacity="0.34"/>
<path d="M238.6,286.5h.01M231.7,273.8h.01M227.6,298.9h.01M247.1,280.5h.01M238.2,301.7h.01M232.8,287.9h.01M248.0,286.2h.01M243.4,278.0h.01M226.1,281.2h.01M234.9,286.1h.01M228.4,265.3h.01M219.9,290.8h.01M248.4,272.0h.01M245.0,279.9h.01M236.4,286.1h.01M218.1,288.6h.01M241.4,284.6h.01M231.7,285.0h.01M229.7,278.9h.01M243.0,283.5h.01M232.2,292.7h.01M229.9,278.5h.01M240.0,286.5h.01M229.6,288.5h.01M239.7,280.1h.01M232.2,284.2h.01M239.3,284.1h.01M237.6,277.9h.01M239.0,303.3h.01M223.5,278.4h.01M248.4,297.0h.01M230.8,291.5h.01M247.3,264.5h.01M227.0,284.4h.01M229.8,291.1h.01M229.9,289.3h.01M242.1,274.3h.01M228.5,284.4h.01M235.8,271.7h.01M218.7,273.1h.01M228.0,280.1h.01M234.1,283.8h.01M231.2,296.1h.01M216.0,285.3h.01" fill="none" stroke="#666" stroke-width="0.60" stroke-linecap="round" opacity="0.34"/>
<path d="M211.1,309.3h.01M204.6,307.1h.01M204.7,305.8h.01M206.6,304.9h.01M213.1,304.4h.01M204.2,305.4h.01M203.5,303.2h.01M207.8,302.5h.01M211.5,301.8h.01M203.3,305.1h.01M207.3,302.7h.01M204.1,307.6h.01" fill="none" stroke="#444" stroke-width="0.64" stroke-linecap="round" opacity="0.42"/>
<line x1="217.50" y1="259.50" x2="217.50" y2="312.50" stroke="#444" stroke-width="0.85" />
<line x1="201.50" y1="298.50" x2="262.50" y2="298.50" stroke="#444" stroke-width="0.85" />
<text x="203.10" y="264.70" font-size="5.5" text-anchor="start" fill="#000" font-weight="bold" >82%</text>
<text x="259.90" y="264.70" font-size="5.5" text-anchor="end" fill="#000" font-weight="bold" >4%</text>
<text x="260.10" y="310.90" font-size="5.5" text-anchor="end" fill="#000" font-weight="bold" >6%</text>
<rect x="201.5" y="321.5" width="61.00" height="53.00" fill="#fff" stroke="#444" stroke-width="0.85"/>
<line x1="199.90" y1="322.50" x2="201.50" y2="322.50" stroke="#333" stroke-width="0.5" />
<text x="199.9" y="322.7" font-size="2.8" text-anchor="end" fill="#444" font-family="Liberation Sans, sans-serif">10</text>
<line x1="199.90" y1="339.00" x2="201.50" y2="339.00" stroke="#333" stroke-width="0.5" />
<text x="199.9" y="339.2" font-size="2.8" text-anchor="end" fill="#444" font-family="Liberation Sans, sans-serif">10</text>
<line x1="199.90" y1="359.50" x2="201.50" y2="359.50" stroke="#333" stroke-width="0.5" />
<text x="199.9" y="359.7" font-size="2.8" text-anchor="end" fill="#444" font-family="Liberation Sans, sans-serif">10</text>
<line x1="199.90" y1="367.20" x2="201.50" y2="367.20" stroke="#333" stroke-width="0.5" />
<text x="199.9" y="367.4" font-size="2.8" text-anchor="end" fill="#444" font-family="Liberation Sans, sans-serif">10</text>
<path d="M201.0,323.00h1.7M201.0,324.55h1.7M201.0,326.10h1.7M201.0,327.65h1.7M201.0,329.20h1.7M201.0,330.75h1.7M201.0,332.30h1.7M201.0,333.85h1.7M201.0,335.40h1.7M201.0,336.95h1.7M201.0,338.50h1.7M201.0,340.05h1.7M201.0,341.60h1.7M201.0,343.15h1.7M201.0,344.70h1.7M201.0,346.25h1.7M201.0,347.80h1.7M201.0,349.35h1.7M201.0,350.90h1.7M201.0,352.45h1.7M201.0,354.00h1.7M201.0,355.55h1.7M201.0,357.10h1.7M201.0,358.65h1.7M201.0,360.20h1.7M201.0,361.75h1.7M201.0,363.30h1.7M201.0,364.85h1.7M201.0,366.40h1.7M201.0,367.95h1.7M201.0,369.50h1.7M201.0,371.05h1.7" stroke="#222" stroke-width="0.6" fill="none"/>
<line x1="206.00" y1="374.50" x2="206.00" y2="376.00" stroke="#333" stroke-width="0.5" />
<text x="206.0" y="378.7" font-size="2.8" text-anchor="middle" fill="#444" font-family="Liberation Sans, sans-serif">10</text>
<line x1="209.50" y1="374.50" x2="209.50" y2="376.00" stroke="#333" stroke-width="0.5" />
<text x="209.5" y="378.7" font-size="2.8" text-anchor="middle" fill="#444" font-family="Liberation Sans, sans-serif">10</text>
<line x1="213.30" y1="374.50" x2="213.30" y2="376.00" stroke="#333" stroke-width="0.5" />
<text x="213.3" y="378.7" font-size="2.8" text-anchor="middle" fill="#444" font-family="Liberation Sans, sans-serif">10</text>
<line x1="240.70" y1="374.50" x2="240.70" y2="376.00" stroke="#333" stroke-width="0.5" />
<text x="240.7" y="378.7" font-size="2.8" text-anchor="middle" fill="#444" font-family="Liberation Sans, sans-serif">10</text>
<line x1="261.90" y1="374.50" x2="261.90" y2="376.00" stroke="#333" stroke-width="0.5" />
<text x="261.9" y="378.7" font-size="2.8" text-anchor="middle" fill="#444" font-family="Liberation Sans, sans-serif">10</text>
<path d="M203.00,374.9v-1.5M204.55,374.9v-1.5M206.10,374.9v-1.5M207.65,374.9v-1.5M209.20,374.9v-1.5M210.75,374.9v-1.5M212.30,374.9v-1.5M213.85,374.9v-1.5M215.40,374.9v-1.5M216.95,374.9v-1.5M218.50,374.9v-1.5M220.05,374.9v-1.5M221.60,374.9v-1.5M223.15,374.9v-1.5M224.70,374.9v-1.5M226.25,374.9v-1.5M227.80,374.9v-1.5M229.35,374.9v-1.5M230.90,374.9v-1.5M232.45,374.9v-1.5M234.00,374.9v-1.5M235.55,374.9v-1.5M237.10,374.9v-1.5M238.65,374.9v-1.5M240.20,374.9v-1.5M241.75,374.9v-1.5M243.30,374.9v-1.5M244.85,374.9v-1.5M246.40,374.9v-1.5M247.95,374.9v-1.5M249.50,374.9v-1.5M251.05,374.9v-1.5M252.60,374.9v-1.5M254.15,374.9v-1.5M255.70,374.9v-1.5M257.25,374.9v-1.5M258.80,374.9v-1.5M260.35,374.9v-1.5" stroke="#333" stroke-width="0.5" fill="none"/>
<path d="M205.0,342.2h.01M212.8,356.1h.01M212.7,340.3h.01M214.7,340.1h.01M210.4,353.6h.01M206.8,358.0h.01M208.4,343.4h.01M214.4,338.4h.01M210.2,339.1h.01M209.9,340.3h.01M209.4,337.6h.01M210.9,337.8h.01M210.5,343.8h.01M206.6,343.0h.01M209.4,345.6h.01M214.1,342.9h.01M215.4,335.4h.01M210.8,347.2h.01M209.6,344.2h.01M215.1,339.2h.01M210.6,341.1h.01M207.7,344.7h.01M210.8,343.2h.01M213.2,341.9h.01M215.7,347.4h.01M209.7,349.2h.01M212.7,340.8h.01M210.2,342.6h.01M214.5,336.0h.01M211.9,341.7h.01M211.9,345.6h.01M208.3,348.0h.01M210.2,343.7h.01M210.2,342.2h.01M213.6,344.0h.01M211.1,336.1h.01M210.5,343.5h.01M210.1,342.8h.01M211.2,337.2h.01M211.8,344.7h.01M207.3,341.4h.01M211.5,346.4h.01M211.5,339.8h.01M211.2,345.6h.01M206.8,352.2h.01M210.7,343.8h.01M207.4,347.5h.01M212.1,338.8h.01M215.0,340.6h.01M213.7,331.2h.01M210.1,341.8h.01M209.5,335.8h.01M209.5,343.4h.01M212.1,330.2h.01M209.2,337.5h.01M209.6,343.2h.01M203.8,345.1h.01M208.6,332.6h.01M208.8,340.2h.01M209.5,358.3h.01M214.7,347.5h.01M207.2,343.7h.01M207.2,326.0h.01M212.9,337.1h.01M208.3,345.9h.01M210.6,344.1h.01M211.6,345.5h.01M211.2,348.5h.01M208.9,343.3h.01M213.8,347.9h.01M215.5,331.8h.01M208.2,357.9h.01M210.3,340.9h.01M213.9,338.8h.01M210.5,351.8h.01M208.2,346.4h.01M209.9,348.6h.01M213.5,338.9h.01M208.2,344.4h.01M211.9,347.0h.01M212.2,335.8h.01M209.2,341.4h.01M212.8,341.2h.01M213.1,340.9h.01M214.0,338.4h.01M213.8,335.0h.01M206.8,345.3h.01M213.7,344.2h.01M212.8,349.7h.01M214.0,342.3h.01M208.6,338.6h.01M213.8,333.9h.01M212.2,343.2h.01M207.7,340.8h.01M214.8,354.9h.01M208.8,356.6h.01M208.2,352.2h.01M212.3,337.2h.01M209.4,334.2h.01M212.2,341.2h.01M210.4,337.2h.01M211.9,351.3h.01M213.5,343.4h.01M211.0,340.2h.01M213.7,342.6h.01M213.6,350.3h.01M208.7,336.9h.01M213.6,345.6h.01M212.9,334.6h.01M211.5,341.4h.01M214.4,338.7h.01M215.9,344.6h.01M213.3,343.6h.01M206.9,349.9h.01M212.4,346.8h.01M210.7,339.0h.01M210.3,334.6h.01M212.1,337.7h.01M210.2,340.1h.01M215.9,341.3h.01M211.9,338.0h.01M211.2,349.2h.01M213.4,348.3h.01M213.5,341.0h.01M214.6,339.6h.01M213.0,341.2h.01M211.0,342.4h.01M211.5,342.5h.01M204.9,332.8h.01M206.9,340.0h.01M214.2,331.3h.01M210.2,342.9h.01M216.4,346.7h.01M216.4,336.2h.01M207.5,343.6h.01M212.0,338.9h.01M219.5,338.4h.01M208.9,354.6h.01M212.3,348.0h.01M210.5,345.6h.01M210.4,340.0h.01M210.3,345.1h.01M211.1,341.5h.01M213.4,345.4h.01M208.8,337.2h.01M212.6,342.2h.01M209.1,340.2h.01M212.7,334.1h.01M212.1,352.9h.01M208.9,347.6h.01M211.6,337.8h.01M209.0,333.7h.01M208.7,338.2h.01M214.5,337.5h.01M205.9,338.9h.01M212.8,333.4h.01M213.2,337.6h.01M209.4,343.0h.01M214.3,345.1h.01M213.8,330.6h.01M207.4,342.6h.01M212.7,336.6h.01M212.5,336.3h.01M209.0,340.7h.01M212.8,338.5h.01M213.3,346.9h.01M209.1,346.9h.01M205.4,340.8h.01M212.3,338.7h.01M209.0,353.5h.01M206.1,354.0h.01M210.0,345.0h.01M204.2,341.7h.01M210.2,348.8h.01M215.5,351.4h.01M202.9,339.4h.01M212.5,353.6h.01M208.5,341.7h.01M210.0,349.3h.01M208.5,339.5h.01M213.0,343.0h.01M211.1,339.8h.01M208.9,342.8h.01M207.3,348.8h.01M209.9,337.1h.01M214.5,340.8h.01M207.6,345.9h.01M212.4,339.8h.01M212.1,355.0h.01M205.3,333.7h.01M214.4,358.1h.01M211.0,338.6h.01M217.7,348.6h.01M216.2,352.5h.01M210.4,345.9h.01M210.7,334.0h.01M208.2,340.6h.01M207.1,343.0h.01M213.5,346.1h.01M210.4,348.6h.01M210.0,349.5h.01M210.7,351.6h.01M213.1,336.8h.01M213.9,348.7h.01M211.2,331.9h.01M210.6,343.5h.01M211.5,336.1h.01M217.2,331.7h.01M205.1,348.2h.01M207.8,342.4h.01M212.5,348.7h.01M211.6,332.9h.01M214.8,335.1h.01M215.0,342.0h.01M217.0,338.5h.01M208.8,343.0h.01M213.0,338.8h.01M210.5,340.5h.01M214.0,335.6h.01M211.7,350.5h.01M213.8,340.6h.01M209.0,335.3h.01M211.6,346.8h.01M209.7,345.6h.01M210.4,343.9h.01M209.8,344.0h.01M208.1,340.2h.01M214.4,341.8h.01M212.0,329.0h.01M214.4,333.0h.01M208.2,335.0h.01M205.4,344.4h.01M209.3,350.1h.01M210.7,341.6h.01M213.5,341.0h.01M214.3,349.5h.01M214.8,340.4h.01M215.7,346.6h.01M213.3,345.3h.01M211.5,334.4h.01M208.9,344.5h.01M213.2,343.9h.01M209.7,335.5h.01M208.8,336.2h.01M212.9,334.8h.01M211.8,351.1h.01M213.7,355.6h.01M209.1,347.0h.01M214.6,352.3h.01M212.2,334.3h.01M210.7,351.3h.01M208.9,354.8h.01M208.0,352.6h.01M207.2,336.8h.01M215.3,349.3h.01M207.0,341.9h.01M213.0,349.2h.01M210.4,338.7h.01M209.5,342.7h.01M209.8,339.1h.01M210.9,345.5h.01M213.8,342.0h.01M212.8,349.5h.01M211.2,347.7h.01M207.1,345.2h.01M205.9,342.4h.01M216.7,340.8h.01M208.2,342.6h.01M206.6,347.2h.01M214.5,343.4h.01M206.8,344.4h.01M213.4,342.4h.01M213.9,342.2h.01M211.9,338.5h.01M214.0,331.0h.01M207.1,346.2h.01M207.6,346.1h.01M210.6,336.6h.01M211.2,354.4h.01M210.9,335.4h.01M212.5,348.8h.01M209.0,344.2h.01M204.9,344.6h.01M212.4,349.6h.01M210.5,348.3h.01M213.6,342.8h.01M217.3,336.1h.01M211.4,335.1h.01M212.9,343.8h.01M208.5,352.4h.01M213.8,348.1h.01M212.2,342.4h.01M211.9,344.7h.01M213.9,346.9h.01M207.8,353.3h.01M212.8,337.9h.01M212.5,347.1h.01M215.8,344.3h.01M205.8,337.9h.01" fill="none" stroke="#111" stroke-width="0.70" stroke-linecap="round" opacity="0.68"/>
<path d="M209.9,337.2h.01M213.1,345.4h.01M211.8,343.0h.01M211.0,337.9h.01M211.4,343.7h.01M212.7,336.9h.01M211.4,342.5h.01M213.5,343.4h.01M210.9,342.2h.01M210.2,338.6h.01M211.1,341.7h.01M210.0,341.5h.01M210.8,342.2h.01M213.0,346.5h.01M213.7,347.1h.01M212.2,346.8h.01M211.6,340.1h.01M210.0,339.8h.01M209.9,342.1h.01M211.8,343.3h.01M211.5,335.8h.01M210.5,340.2h.01M210.7,347.4h.01M213.5,338.3h.01M212.7,339.8h.01M211.4,339.9h.01M211.6,343.5h.01M213.1,341.8h.01M211.8,341.0h.01M211.6,337.5h.01M209.1,343.8h.01M208.9,342.0h.01M208.6,340.0h.01M208.2,342.1h.01M211.3,344.4h.01M211.8,337.6h.01M210.1,337.4h.01M211.9,338.9h.01M211.9,339.4h.01M211.2,332.9h.01M209.2,340.2h.01M213.3,345.3h.01M213.2,341.0h.01M210.5,345.1h.01M214.0,333.4h.01M211.4,341.7h.01M210.2,346.2h.01M210.7,346.7h.01M208.7,340.5h.01M210.8,339.5h.01" fill="none" stroke="#000" stroke-width="0.72" stroke-linecap="round" opacity="0.92"/>
<path d="M234.1,368.8h.01M221.3,360.0h.01M228.1,367.0h.01M217.6,368.2h.01M231.7,362.4h.01M231.0,371.7h.01M244.0,363.8h.01M233.9,373.4h.01M225.7,368.4h.01M230.3,368.9h.01M220.7,366.8h.01M231.3,369.0h.01M229.3,362.9h.01M234.4,363.6h.01" fill="none" stroke="#666" stroke-width="0.60" stroke-linecap="round" opacity="0.34"/>
<path d="M212.3,336.7h.01M234.9,343.8h.01M223.6,348.7h.01M236.8,344.1h.01M235.4,347.9h.01M217.9,329.5h.01M236.3,346.2h.01M232.3,344.6h.01M231.8,336.3h.01M234.2,340.5h.01M230.1,342.7h.01M239.5,338.3h.01M219.2,346.5h.01M223.1,336.2h.01M239.3,344.5h.01M227.1,339.8h.01M247.3,346.3h.01M202.2,342.7h.01M223.6,339.4h.01M226.0,346.4h.01M232.4,349.5h.01M228.3,342.2h.01M220.8,336.6h.01M237.6,332.0h.01M244.0,353.7h.01M206.9,350.6h.01M235.2,332.6h.01M232.7,331.9h.01M222.5,349.3h.01M225.7,336.3h.01M232.6,339.0h.01M230.3,324.2h.01M227.8,340.7h.01M219.5,352.2h.01M232.6,337.8h.01M224.0,340.9h.01M230.8,357.7h.01" fill="none" stroke="#666" stroke-width="0.60" stroke-linecap="round" opacity="0.34"/>
<path d="M210.6,365.7h.01M212.3,366.2h.01M209.9,361.8h.01M211.6,365.8h.01M203.0,367.1h.01M205.5,365.7h.01M203.0,367.8h.01M214.7,363.5h.01M208.5,366.9h.01M207.6,368.7h.01M205.7,367.7h.01M204.9,367.1h.01M214.7,363.0h.01" fill="none" stroke="#444" stroke-width="0.64" stroke-linecap="round" opacity="0.42"/>
<line x1="217.50" y1="321.50" x2="217.50" y2="374.50" stroke="#444" stroke-width="0.85" />
<line x1="201.50" y1="359.50" x2="262.50" y2="359.50" stroke="#444" stroke-width="0.85" />
<text x="203.10" y="326.70" font-size="5.5" text-anchor="start" fill="#000" font-weight="bold" >90%</text>
<text x="259.90" y="326.70" font-size="5.5" text-anchor="end" fill="#000" font-weight="bold" >5%</text>
<text x="260.10" y="372.90" font-size="5.5" text-anchor="end" fill="#000" font-weight="bold" >1%</text>
<rect x="287.5" y="196.5" width="61.00" height="54.00" fill="#fff" stroke="#444" stroke-width="0.85"/>
<line x1="285.90" y1="197.50" x2="287.50" y2="197.50" stroke="#333" stroke-width="0.5" />
<text x="285.9" y="197.7" font-size="2.8" text-anchor="end" fill="#444" font-family="Liberation Sans, sans-serif">10</text>
<line x1="285.90" y1="214.00" x2="287.50" y2="214.00" stroke="#333" stroke-width="0.5" />
<text x="285.9" y="214.2" font-size="2.8" text-anchor="end" fill="#444" font-family="Liberation Sans, sans-serif">10</text>
<line x1="285.90" y1="228.50" x2="287.50" y2="228.50" stroke="#333" stroke-width="0.5" />
<text x="285.9" y="228.7" font-size="2.8" text-anchor="end" fill="#444" font-family="Liberation Sans, sans-serif">10</text>
<line x1="285.90" y1="236.20" x2="287.50" y2="236.20" stroke="#333" stroke-width="0.5" />
<text x="285.9" y="236.4" font-size="2.8" text-anchor="end" fill="#444" font-family="Liberation Sans, sans-serif">10</text>
<path d="M287.0,198.00h1.7M287.0,199.55h1.7M287.0,201.10h1.7M287.0,202.65h1.7M287.0,204.20h1.7M287.0,205.75h1.7M287.0,207.30h1.7M287.0,208.85h1.7M287.0,210.40h1.7M287.0,211.95h1.7M287.0,213.50h1.7M287.0,215.05h1.7M287.0,216.60h1.7M287.0,218.15h1.7M287.0,219.70h1.7M287.0,221.25h1.7M287.0,222.80h1.7M287.0,224.35h1.7M287.0,225.90h1.7M287.0,227.45h1.7M287.0,229.00h1.7M287.0,230.55h1.7M287.0,232.10h1.7M287.0,233.65h1.7M287.0,235.20h1.7M287.0,236.75h1.7M287.0,238.30h1.7M287.0,239.85h1.7M287.0,241.40h1.7M287.0,242.95h1.7M287.0,244.50h1.7M287.0,246.05h1.7M287.0,247.60h1.7" stroke="#222" stroke-width="0.6" fill="none"/>
<line x1="292.00" y1="250.50" x2="292.00" y2="252.00" stroke="#333" stroke-width="0.5" />
<text x="292.0" y="254.7" font-size="2.8" text-anchor="middle" fill="#444" font-family="Liberation Sans, sans-serif">10</text>
<line x1="295.50" y1="250.50" x2="295.50" y2="252.00" stroke="#333" stroke-width="0.5" />
<text x="295.5" y="254.7" font-size="2.8" text-anchor="middle" fill="#444" font-family="Liberation Sans, sans-serif">10</text>
<line x1="299.30" y1="250.50" x2="299.30" y2="252.00" stroke="#333" stroke-width="0.5" />
<text x="299.3" y="254.7" font-size="2.8" text-anchor="middle" fill="#444" font-family="Liberation Sans, sans-serif">10</text>
<line x1="326.70" y1="250.50" x2="326.70" y2="252.00" stroke="#333" stroke-width="0.5" />
<text x="326.7" y="254.7" font-size="2.8" text-anchor="middle" fill="#444" font-family="Liberation Sans, sans-serif">10</text>
<line x1="347.90" y1="250.50" x2="347.90" y2="252.00" stroke="#333" stroke-width="0.5" />
<text x="347.9" y="254.7" font-size="2.8" text-anchor="middle" fill="#444" font-family="Liberation Sans, sans-serif">10</text>
<path d="M289.00,250.9v-1.5M290.55,250.9v-1.5M292.10,250.9v-1.5M293.65,250.9v-1.5M295.20,250.9v-1.5M296.75,250.9v-1.5M298.30,250.9v-1.5M299.85,250.9v-1.5M301.40,250.9v-1.5M302.95,250.9v-1.5M304.50,250.9v-1.5M306.05,250.9v-1.5M307.60,250.9v-1.5M309.15,250.9v-1.5M310.70,250.9v-1.5M312.25,250.9v-1.5M313.80,250.9v-1.5M315.35,250.9v-1.5M316.90,250.9v-1.5M318.45,250.9v-1.5M320.00,250.9v-1.5M321.55,250.9v-1.5M323.10,250.9v-1.5M324.65,250.9v-1.5M326.20,250.9v-1.5M327.75,250.9v-1.5M329.30,250.9v-1.5M330.85,250.9v-1.5M332.40,250.9v-1.5M333.95,250.9v-1.5M335.50,250.9v-1.5M337.05,250.9v-1.5M338.60,250.9v-1.5M340.15,250.9v-1.5M341.70,250.9v-1.5M343.25,250.9v-1.5M344.80,250.9v-1.5M346.35,250.9v-1.5" stroke="#333" stroke-width="0.5" fill="none"/>
<path d="M300.7,236.1h.01M298.4,237.1h.01M297.1,236.4h.01M301.2,234.3h.01M295.5,237.5h.01M298.0,241.3h.01M301.2,234.4h.01M301.7,235.4h.01M298.5,238.6h.01M299.5,233.8h.01M300.7,240.8h.01M299.2,240.1h.01M297.5,227.1h.01M300.4,234.2h.01M299.8,232.3h.01M299.6,240.6h.01M302.1,241.1h.01M300.1,231.8h.01M298.3,234.1h.01M299.8,236.7h.01M304.0,235.4h.01M297.7,240.2h.01M298.7,241.3h.01M297.5,239.6h.01M300.2,241.8h.01M296.4,241.1h.01M300.5,236.7h.01M301.2,235.2h.01M297.5,233.8h.01M297.3,240.6h.01M295.8,240.9h.01M299.5,241.5h.01M296.7,235.6h.01M297.9,235.4h.01M298.4,238.2h.01M297.7,242.5h.01M301.4,238.6h.01M303.2,238.0h.01M294.3,233.5h.01M297.4,239.0h.01M300.0,239.4h.01M296.9,232.9h.01M298.1,244.7h.01M299.9,233.1h.01M302.7,241.1h.01M302.2,236.2h.01M298.7,237.8h.01M299.7,233.6h.01M298.5,234.6h.01M299.0,240.1h.01M296.6,236.2h.01M295.1,235.6h.01M298.5,240.9h.01M301.7,240.1h.01M301.2,237.8h.01M294.9,238.1h.01M298.9,244.5h.01M297.9,236.3h.01M300.1,238.7h.01M296.8,238.9h.01M301.6,231.0h.01M298.9,228.7h.01M300.8,237.6h.01M301.5,240.8h.01M294.7,237.9h.01M298.9,234.8h.01M303.0,234.2h.01M299.4,240.6h.01M301.9,235.8h.01M300.4,230.1h.01M298.2,240.0h.01M300.1,238.1h.01M301.9,238.7h.01M302.5,241.6h.01M302.9,242.8h.01M296.7,239.5h.01M301.4,236.3h.01M296.1,227.9h.01M299.1,238.3h.01M298.9,236.4h.01M300.9,242.8h.01M300.1,242.6h.01M302.4,239.1h.01M297.9,243.0h.01M301.4,236.7h.01M300.3,236.9h.01M299.4,233.4h.01M296.5,235.7h.01M300.8,238.0h.01M300.1,241.6h.01M301.3,233.9h.01M299.3,240.5h.01M298.8,247.2h.01M300.3,231.2h.01M300.5,235.9h.01M301.0,237.1h.01M303.9,241.4h.01M297.9,245.7h.01M304.2,242.4h.01M292.3,236.9h.01M301.7,233.4h.01M297.4,236.8h.01M304.2,236.9h.01M297.3,238.1h.01M301.9,233.2h.01M297.0,243.7h.01M296.7,233.9h.01M301.3,240.0h.01M301.5,238.0h.01M297.7,232.3h.01M305.2,237.3h.01M298.6,237.1h.01M303.1,236.2h.01M297.0,240.6h.01M297.1,235.0h.01M299.6,248.1h.01M297.0,241.9h.01M300.5,233.1h.01M294.3,226.2h.01M299.8,242.5h.01M298.0,238.1h.01M297.1,237.4h.01M299.9,232.8h.01M298.9,230.8h.01M298.3,229.0h.01M301.3,248.2h.01M300.1,244.0h.01M300.3,234.6h.01M302.6,245.2h.01M299.2,229.0h.01M301.4,240.1h.01M298.4,240.1h.01M300.8,233.3h.01M300.7,235.1h.01M298.1,232.5h.01M295.8,237.2h.01M296.3,242.8h.01M297.1,241.4h.01M300.7,238.8h.01M299.1,241.9h.01M298.7,229.3h.01M300.5,245.8h.01M301.1,236.8h.01M302.7,231.3h.01M298.0,235.4h.01M300.7,234.2h.01M301.1,237.4h.01M297.1,238.4h.01M299.7,226.8h.01M297.2,242.5h.01M298.9,244.6h.01M300.4,232.5h.01M295.3,243.5h.01M297.3,242.5h.01M297.5,241.4h.01M299.6,244.1h.01M297.6,231.0h.01M300.3,240.2h.01M297.3,232.6h.01M298.2,247.4h.01M300.8,232.8h.01M300.2,231.7h.01M299.8,241.9h.01M299.3,239.7h.01M301.8,237.1h.01M302.7,237.6h.01M298.5,239.7h.01M297.7,244.6h.01M296.9,233.9h.01M303.5,234.6h.01M297.3,234.5h.01M296.2,236.7h.01M300.0,237.1h.01M301.9,231.4h.01M296.4,238.3h.01M299.1,231.5h.01M296.0,235.6h.01M297.7,235.9h.01M303.3,235.9h.01M299.8,243.5h.01M298.8,244.2h.01M299.6,241.7h.01M300.1,244.0h.01M299.1,235.8h.01M296.6,243.2h.01M296.6,236.8h.01M304.2,238.0h.01M297.6,238.2h.01M302.3,231.1h.01M297.7,234.3h.01M302.5,236.3h.01M301.1,238.6h.01M298.9,236.5h.01M304.2,233.3h.01M297.2,231.9h.01M298.8,237.0h.01M297.3,231.8h.01M297.5,231.8h.01M298.5,236.6h.01M297.1,237.8h.01M298.6,233.4h.01M303.2,229.2h.01M295.2,238.3h.01M296.4,240.6h.01M297.1,235.2h.01M298.3,235.4h.01M301.8,226.8h.01M301.1,241.0h.01M300.5,232.2h.01M299.9,240.2h.01M305.1,234.4h.01M296.7,236.4h.01M296.6,236.2h.01M299.3,229.1h.01M299.9,249.1h.01M298.8,230.1h.01M297.4,237.5h.01M296.3,233.4h.01M298.7,236.0h.01M297.7,243.1h.01M298.2,228.8h.01M296.8,236.4h.01M302.6,239.2h.01M300.5,237.5h.01M303.8,238.7h.01M298.2,233.7h.01M299.5,229.8h.01M298.8,231.2h.01M299.4,235.2h.01M298.8,240.3h.01M299.0,237.4h.01M294.7,244.1h.01M298.7,237.4h.01M301.0,237.9h.01M294.8,237.9h.01M298.6,229.4h.01M300.8,239.5h.01M302.4,232.1h.01M299.2,235.3h.01M300.5,247.3h.01M303.6,231.6h.01M302.5,237.5h.01M298.3,238.3h.01M298.0,237.6h.01M301.8,237.0h.01M299.9,234.5h.01M298.1,245.8h.01M298.8,228.2h.01M300.2,232.5h.01M298.9,243.5h.01M298.8,239.4h.01M298.8,233.6h.01M295.8,233.0h.01M303.5,235.9h.01M302.3,248.6h.01M303.0,239.2h.01M299.1,232.5h.01M299.7,238.0h.01M300.8,234.2h.01M301.4,243.6h.01M295.0,238.3h.01M300.2,242.5h.01M297.0,237.7h.01M299.2,246.0h.01M297.8,238.8h.01M303.5,238.2h.01M300.7,232.5h.01M299.3,235.1h.01M302.7,238.7h.01M299.2,234.8h.01M297.7,247.9h.01M299.0,237.0h.01M298.5,233.6h.01M299.5,241.3h.01M301.4,234.7h.01M299.1,238.8h.01M299.2,236.6h.01M301.8,233.8h.01M300.1,243.1h.01M301.7,237.4h.01M299.7,241.8h.01M296.3,235.5h.01M296.7,230.7h.01M295.4,231.5h.01M302.1,234.7h.01M300.4,236.2h.01M298.3,237.2h.01M297.0,239.3h.01M300.3,231.5h.01M299.1,238.0h.01M300.2,231.6h.01M297.4,234.0h.01M296.8,248.3h.01M303.1,242.6h.01M297.1,235.4h.01M299.3,244.9h.01M302.6,243.2h.01M295.0,240.9h.01M301.1,243.5h.01M299.6,235.9h.01M299.1,236.5h.01M300.0,233.2h.01M296.6,239.6h.01M294.1,231.5h.01M303.9,234.8h.01M298.7,239.0h.01M301.5,234.8h.01M302.0,238.5h.01M300.1,245.0h.01M300.5,232.7h.01M301.1,243.2h.01M303.1,234.0h.01M300.6,232.9h.01M302.4,238.0h.01M298.7,241.5h.01M298.4,233.9h.01M299.6,233.8h.01M300.4,235.1h.01M300.7,233.8h.01M304.0,237.8h.01M301.4,233.9h.01M299.6,235.9h.01M304.1,238.6h.01M300.2,235.2h.01M300.3,242.1h.01M300.6,234.0h.01M298.6,233.6h.01M296.8,246.0h.01M299.7,243.6h.01M298.7,237.3h.01M297.4,240.7h.01M299.7,238.5h.01M298.9,234.8h.01M298.0,240.0h.01M295.2,238.3h.01M299.0,242.6h.01M303.6,228.9h.01M301.5,240.6h.01M302.0,237.7h.01M299.4,234.0h.01M301.9,235.1h.01M297.8,235.2h.01M298.3,231.2h.01M300.6,234.5h.01M296.0,240.4h.01M299.5,230.3h.01M300.1,235.3h.01M303.4,226.6h.01M297.7,234.5h.01M300.4,238.7h.01M297.9,236.8h.01M298.1,237.2h.01M293.0,232.1h.01M297.2,239.5h.01M302.1,233.0h.01M300.6,241.0h.01M299.8,237.9h.01M305.3,235.3h.01M300.7,243.5h.01M296.5,235.3h.01M298.9,241.5h.01M299.3,237.5h.01M303.2,237.0h.01M297.3,241.4h.01M300.4,238.9h.01M301.7,237.0h.01M297.5,236.5h.01M299.6,237.9h.01M294.6,237.4h.01M299.6,235.6h.01M294.2,232.4h.01M298.5,225.6h.01M303.5,236.5h.01M300.4,235.9h.01M299.5,242.3h.01M299.8,239.0h.01M304.5,242.0h.01M300.7,244.6h.01M301.9,236.5h.01M298.4,233.3h.01M298.4,240.6h.01M296.9,234.4h.01M299.0,235.9h.01M297.8,243.3h.01M301.8,239.4h.01M300.9,241.8h.01M299.1,231.1h.01M298.1,237.2h.01M292.5,241.9h.01M298.0,231.4h.01M300.1,237.9h.01M301.0,238.8h.01M292.1,226.9h.01M293.7,244.0h.01M299.8,233.9h.01M297.0,236.4h.01M298.9,244.4h.01M298.3,229.1h.01M300.8,239.1h.01M295.0,235.0h.01M298.1,237.2h.01M301.6,233.4h.01M299.9,243.0h.01M297.4,232.1h.01M300.5,238.6h.01M300.1,239.4h.01M297.3,236.6h.01M301.1,235.8h.01M301.0,235.8h.01M299.1,241.5h.01M301.6,239.0h.01M296.6,236.7h.01M301.2,232.2h.01M299.0,237.7h.01M297.2,239.4h.01M298.0,236.9h.01M302.2,243.3h.01M298.1,228.6h.01M298.6,248.0h.01M297.9,236.2h.01M297.5,232.0h.01M301.7,229.3h.01M304.7,240.8h.01M302.6,239.5h.01M300.6,236.1h.01M301.2,236.8h.01M298.6,237.8h.01M298.2,235.2h.01M296.6,242.1h.01M302.8,239.8h.01M298.6,236.5h.01M297.7,229.8h.01M297.9,243.1h.01M299.9,234.9h.01M298.1,232.5h.01M299.5,242.7h.01M299.8,239.2h.01M302.6,228.2h.01M296.5,229.7h.01M300.1,235.3h.01M297.8,231.5h.01M298.4,236.3h.01M303.3,248.5h.01M298.5,236.8h.01M300.6,240.6h.01M299.4,240.9h.01M302.1,236.5h.01M298.3,230.5h.01M300.6,241.8h.01" fill="none" stroke="#000" stroke-width="0.72" stroke-linecap="round" opacity="0.92"/>
<path d="M299.1,240.9h.01M300.1,237.4h.01M300.5,235.4h.01M298.2,247.4h.01M301.9,232.7h.01M299.5,236.7h.01M299.8,239.0h.01M298.8,234.3h.01M300.5,237.4h.01M300.9,236.1h.01M298.6,232.9h.01M300.3,238.8h.01M298.8,234.0h.01M297.6,235.1h.01M298.9,241.1h.01M300.3,234.0h.01M300.2,239.2h.01M301.0,240.9h.01M298.4,240.4h.01M299.0,238.8h.01M299.5,236.7h.01M300.3,233.2h.01M299.2,237.8h.01M298.0,238.7h.01M297.1,235.9h.01M301.2,234.4h.01M301.0,240.0h.01M298.4,234.2h.01M301.6,238.7h.01M299.3,235.9h.01M300.1,232.3h.01M301.3,242.2h.01M298.7,239.2h.01M298.3,239.0h.01M296.8,233.1h.01M299.9,237.0h.01M300.1,238.2h.01M300.7,235.1h.01M300.3,242.3h.01M299.6,231.3h.01M301.1,239.5h.01M297.9,231.7h.01M300.0,232.6h.01M300.2,233.5h.01M299.2,239.1h.01M302.0,235.2h.01M300.1,235.3h.01M301.5,234.6h.01M300.8,232.9h.01M299.2,234.6h.01M302.3,234.3h.01M301.1,236.3h.01M299.5,236.1h.01M299.2,230.1h.01M297.9,235.3h.01M299.2,240.9h.01M299.1,235.8h.01M299.7,237.0h.01M298.8,235.1h.01M300.3,235.2h.01M299.3,237.0h.01M297.0,233.2h.01M298.7,236.7h.01M298.1,232.2h.01M297.5,238.2h.01M299.0,232.5h.01M300.8,239.1h.01M297.7,240.2h.01M296.4,232.3h.01M299.2,239.2h.01M303.9,235.9h.01M298.5,240.6h.01M299.8,235.5h.01M298.8,236.3h.01M300.7,236.3h.01M301.6,240.9h.01M299.2,231.3h.01M301.2,239.4h.01M297.8,237.4h.01M299.7,235.6h.01M297.5,236.4h.01M299.7,239.9h.01M298.5,239.6h.01M299.8,242.2h.01M297.7,235.2h.01M299.8,231.4h.01M299.6,235.4h.01M298.6,236.5h.01M298.2,235.8h.01M297.6,240.8h.01M298.8,243.9h.01M300.0,238.2h.01M299.2,231.7h.01M299.7,240.2h.01M301.3,235.2h.01M298.9,237.2h.01M299.9,239.6h.01M300.7,238.2h.01M300.2,236.9h.01M300.0,237.9h.01M299.6,239.4h.01M302.3,239.0h.01M299.3,243.3h.01M298.9,228.1h.01M300.3,234.7h.01M301.9,235.3h.01M301.6,239.6h.01M299.5,237.7h.01M300.7,239.6h.01M300.2,232.8h.01M299.6,236.4h.01M300.4,239.0h.01M300.4,236.9h.01M299.7,235.9h.01M302.0,237.9h.01M298.9,242.0h.01M301.5,230.8h.01M302.6,241.8h.01M302.6,237.9h.01M299.9,234.5h.01M299.2,239.1h.01M297.0,237.2h.01M299.4,240.7h.01M303.1,234.7h.01M297.1,240.0h.01M297.1,234.4h.01M300.7,238.0h.01M300.4,239.2h.01M296.7,236.8h.01M299.4,239.0h.01M300.0,235.3h.01M297.2,240.3h.01M300.9,235.6h.01M297.4,235.0h.01M301.1,236.7h.01M299.7,236.9h.01M298.4,234.6h.01M297.0,239.5h.01M298.9,236.7h.01M299.3,238.9h.01M299.2,232.6h.01M298.5,233.1h.01M299.1,236.3h.01M300.7,234.1h.01M298.1,236.7h.01M299.1,238.8h.01M300.1,240.4h.01M299.4,241.5h.01M300.7,239.4h.01M301.8,235.0h.01M298.9,238.7h.01M299.8,235.5h.01M295.0,238.7h.01M298.9,233.9h.01M300.4,241.1h.01M297.7,238.3h.01M301.4,236.2h.01M296.6,233.0h.01M301.5,237.9h.01M298.7,235.5h.01M297.9,237.8h.01M298.7,234.9h.01M299.0,235.5h.01M297.9,239.0h.01M297.4,241.5h.01M298.6,233.3h.01M300.9,236.5h.01M300.0,238.3h.01M301.4,236.6h.01M298.5,235.8h.01M298.9,243.6h.01M298.9,234.6h.01M299.6,238.2h.01M300.1,235.6h.01M302.1,236.8h.01M300.5,230.2h.01M299.7,239.8h.01M301.5,236.5h.01M298.2,234.2h.01M297.4,242.1h.01M300.4,236.3h.01M299.7,235.3h.01M299.6,234.6h.01M300.8,240.3h.01M298.9,237.2h.01M299.3,236.2h.01M300.0,233.1h.01M300.4,234.4h.01M300.9,238.1h.01M299.6,237.0h.01M299.8,231.1h.01M295.8,234.5h.01M301.3,237.8h.01M297.1,245.1h.01M299.4,234.8h.01M303.2,230.4h.01M298.9,239.4h.01M297.0,235.7h.01M301.8,233.1h.01M298.6,238.8h.01M299.2,236.4h.01M299.2,234.2h.01M300.5,233.2h.01M300.6,236.7h.01M299.2,237.4h.01M301.1,231.8h.01M298.1,240.1h.01M300.4,233.3h.01M298.5,241.3h.01M300.5,238.1h.01M298.4,236.5h.01M298.8,238.1h.01M301.6,235.3h.01M297.7,236.9h.01M297.6,242.0h.01M300.3,235.4h.01M299.0,239.5h.01M298.8,234.4h.01M299.2,237.0h.01M302.6,240.0h.01M297.9,233.5h.01M299.0,238.1h.01M299.7,230.6h.01M298.0,233.7h.01M299.4,235.8h.01M300.1,239.7h.01M298.0,239.2h.01M301.1,234.4h.01M297.7,236.7h.01M299.2,237.7h.01M299.9,232.4h.01M304.2,238.4h.01M296.8,241.2h.01M299.8,240.8h.01M303.2,235.3h.01M298.5,235.9h.01M301.0,234.3h.01M299.7,235.6h.01M297.3,236.3h.01M300.0,239.1h.01M298.1,237.3h.01M299.5,234.3h.01M297.2,239.6h.01M300.5,239.7h.01M295.8,235.3h.01M299.1,236.4h.01M301.3,236.8h.01M300.2,232.2h.01M298.9,237.5h.01M299.1,239.1h.01M298.8,242.9h.01M303.5,237.7h.01M299.3,236.2h.01M299.4,236.7h.01M298.3,238.9h.01M298.7,239.5h.01M300.3,234.5h.01M298.5,237.7h.01M298.2,239.1h.01M298.6,231.1h.01M298.9,241.2h.01M299.7,236.5h.01M298.7,239.7h.01M299.1,237.0h.01M298.3,236.4h.01M301.3,236.9h.01M299.5,238.0h.01M298.9,239.7h.01M299.8,236.3h.01M299.3,233.8h.01M297.0,235.0h.01M299.1,234.2h.01M301.9,239.4h.01M300.2,234.2h.01M301.2,241.7h.01M298.4,237.5h.01M297.2,236.9h.01M298.4,241.0h.01M301.4,236.0h.01M297.9,236.2h.01M298.2,239.5h.01M301.1,239.3h.01M299.0,234.1h.01M299.1,244.5h.01M300.0,238.8h.01M299.5,233.4h.01M298.9,236.6h.01M299.8,239.9h.01M298.3,237.8h.01M299.3,239.7h.01M300.4,244.2h.01M297.8,239.9h.01M299.1,243.2h.01M297.7,239.2h.01M300.5,235.2h.01M300.3,241.7h.01M300.8,235.1h.01M300.9,240.0h.01M300.9,239.1h.01M300.5,234.6h.01M298.2,235.1h.01M300.8,236.6h.01M298.0,238.4h.01M302.9,241.2h.01M299.8,237.4h.01M300.3,242.9h.01M297.5,239.8h.01M301.0,235.3h.01M301.2,235.4h.01M297.0,237.5h.01M298.6,235.7h.01M298.7,237.0h.01M298.4,239.6h.01M301.5,238.0h.01M302.6,240.2h.01M297.8,235.2h.01M301.0,234.7h.01M299.0,233.1h.01M301.5,231.9h.01M295.7,235.9h.01M298.7,237.5h.01M301.2,236.7h.01M298.3,237.3h.01M301.2,243.4h.01M298.6,234.0h.01M301.1,236.5h.01M300.3,235.8h.01M298.8,234.6h.01M298.3,241.4h.01M299.1,237.2h.01" fill="none" stroke="#000" stroke-width="0.72" stroke-linecap="round" opacity="0.92"/>
<path d="M321.6,229.0h.01M310.8,225.6h.01M322.0,221.0h.01M323.1,218.9h.01M307.7,209.9h.01M313.4,217.8h.01M313.5,220.1h.01M317.7,225.0h.01M307.4,215.3h.01M316.0,220.3h.01M316.3,217.3h.01M311.6,220.1h.01M304.0,217.5h.01M311.7,222.0h.01M312.4,220.2h.01M314.1,208.5h.01M313.2,226.6h.01M312.6,232.5h.01M315.0,214.0h.01M317.0,225.2h.01M315.3,213.3h.01M313.3,216.5h.01M320.5,227.8h.01M316.1,220.0h.01M309.2,229.5h.01M315.1,220.8h.01M318.3,224.1h.01M313.8,218.5h.01M321.6,225.7h.01M314.7,229.6h.01M317.6,222.4h.01M308.3,217.7h.01M313.4,217.5h.01M310.4,214.9h.01M310.9,223.8h.01M309.6,223.7h.01M313.8,215.5h.01M316.9,224.0h.01M310.6,217.0h.01M311.8,230.6h.01M311.7,224.9h.01M319.2,227.3h.01M308.2,216.9h.01M316.9,213.0h.01M304.8,211.4h.01M315.9,222.7h.01M314.9,212.8h.01M320.6,225.5h.01M312.5,220.8h.01M312.1,224.5h.01M306.6,214.1h.01M316.6,215.4h.01M313.7,220.7h.01M313.2,224.0h.01M310.5,213.0h.01M315.4,221.2h.01M312.9,215.1h.01M319.7,222.7h.01M305.3,220.6h.01M316.8,217.1h.01M312.5,222.5h.01M315.3,225.9h.01M312.4,218.6h.01M315.4,226.3h.01M315.4,213.4h.01M315.2,220.9h.01M306.8,215.0h.01M314.0,220.8h.01M312.3,214.7h.01M315.4,219.4h.01M315.0,222.9h.01M312.3,214.4h.01M315.4,209.0h.01M309.5,219.7h.01M323.1,220.1h.01M312.1,221.4h.01M308.7,215.7h.01M318.2,223.2h.01M317.7,216.9h.01M319.9,222.4h.01M318.3,213.3h.01M316.5,221.4h.01M315.9,225.8h.01M314.5,215.6h.01M313.5,218.0h.01M312.8,223.4h.01M320.9,220.7h.01M321.5,219.6h.01M313.8,218.8h.01M310.8,211.3h.01M312.1,220.0h.01M305.6,214.3h.01M311.5,220.7h.01M308.6,207.4h.01M316.0,227.2h.01M312.9,230.8h.01M307.3,223.8h.01M315.3,214.2h.01M320.2,216.1h.01M307.0,226.5h.01M314.4,223.2h.01M316.3,214.8h.01M311.2,227.1h.01M309.5,224.9h.01M314.9,222.3h.01M312.6,217.8h.01M311.5,220.1h.01M319.3,213.9h.01M320.1,218.9h.01M315.6,215.2h.01M315.4,225.8h.01M312.8,220.0h.01M317.7,219.7h.01M313.6,221.5h.01M320.2,219.6h.01M316.8,210.5h.01M313.5,226.9h.01M317.1,219.2h.01M319.3,214.9h.01M315.2,213.6h.01M309.4,216.7h.01M312.1,216.4h.01M312.8,219.8h.01M313.3,214.7h.01M314.4,220.0h.01M312.9,220.6h.01M316.4,214.8h.01M322.5,229.8h.01M311.7,219.3h.01M308.9,222.7h.01M315.7,219.6h.01M313.9,218.5h.01M316.7,222.5h.01M313.5,227.5h.01M315.2,218.7h.01M309.4,215.7h.01M319.1,221.1h.01M317.6,206.1h.01M310.8,221.1h.01M303.8,221.0h.01M312.7,221.6h.01M310.0,211.8h.01M314.3,216.8h.01M312.8,213.8h.01M315.3,215.9h.01M325.5,219.6h.01M311.7,218.8h.01M311.9,216.4h.01M317.6,225.1h.01M307.1,221.2h.01M314.3,207.6h.01M310.3,214.3h.01M309.2,222.9h.01M311.5,222.4h.01M316.4,219.8h.01M317.8,219.7h.01M317.7,213.0h.01M315.7,218.2h.01M309.7,213.5h.01M315.1,214.0h.01M312.6,214.3h.01M322.0,212.2h.01M305.8,219.4h.01M320.1,216.2h.01M316.0,213.9h.01M317.3,224.3h.01M313.2,216.7h.01M314.2,227.8h.01M311.9,225.3h.01M306.4,214.1h.01" fill="none" stroke="#444" stroke-width="0.64" stroke-linecap="round" opacity="0.42"/>
<path d="M321.4,231.9h.01M305.6,229.8h.01M325.3,229.5h.01M317.5,238.9h.01M308.4,230.6h.01M300.1,233.4h.01M312.4,231.1h.01M305.8,238.0h.01M322.7,233.0h.01M306.6,239.2h.01M313.5,232.5h.01M318.5,236.0h.01M315.2,237.6h.01M316.9,238.3h.01M313.4,230.8h.01M320.1,233.7h.01M308.6,234.7h.01M319.0,228.6h.01M306.7,237.4h.01M316.3,236.3h.01M307.2,236.7h.01M313.6,230.1h.01M319.1,235.6h.01M323.5,236.5h.01M302.6,238.5h.01M309.7,233.2h.01M308.3,237.3h.01M323.3,241.8h.01M309.0,233.5h.01M319.8,233.6h.01M311.4,233.9h.01M305.0,229.8h.01M315.7,233.7h.01M307.1,240.6h.01M320.0,231.8h.01M320.7,234.3h.01M324.1,239.1h.01M307.9,236.9h.01M325.8,235.8h.01M321.6,233.8h.01M302.6,234.6h.01M330.2,235.0h.01M326.6,237.4h.01M307.8,235.3h.01M317.2,238.2h.01M305.7,228.5h.01M314.0,237.8h.01M316.2,233.2h.01M319.2,235.0h.01M309.2,233.5h.01M314.7,237.2h.01M308.5,234.6h.01M317.6,237.2h.01M319.5,232.2h.01M315.4,235.7h.01M322.9,239.2h.01M320.1,238.9h.01M317.5,233.8h.01M322.9,235.5h.01M306.3,233.7h.01M314.7,234.6h.01M302.7,235.1h.01M314.8,239.2h.01M311.7,237.0h.01M320.6,240.0h.01M311.9,240.3h.01M310.5,230.6h.01M314.3,236.1h.01M314.0,233.5h.01M318.5,229.4h.01" fill="none" stroke="#666" stroke-width="0.60" stroke-linecap="round" opacity="0.34"/>
<line x1="305.50" y1="196.50" x2="305.50" y2="250.50" stroke="#444" stroke-width="0.85" />
<line x1="287.50" y1="228.50" x2="348.50" y2="228.50" stroke="#444" stroke-width="0.85" />
<text x="345.90" y="201.70" font-size="5.5" text-anchor="end" fill="#000" font-weight="bold" >14%</text>
<text x="288.30" y="249.60" font-size="5.5" text-anchor="start" fill="#000" font-weight="bold" >75%</text>
<text x="346.10" y="248.90" font-size="5.5" text-anchor="end" fill="#000" font-weight="bold" >6%</text>
<rect x="287.5" y="258.5" width="61.00" height="54.00" fill="#fff" stroke="#444" stroke-width="0.85"/>
<line x1="285.90" y1="259.50" x2="287.50" y2="259.50" stroke="#333" stroke-width="0.5" />
<text x="285.9" y="259.7" font-size="2.8" text-anchor="end" fill="#444" font-family="Liberation Sans, sans-serif">10</text>
<line x1="285.90" y1="276.00" x2="287.50" y2="276.00" stroke="#333" stroke-width="0.5" />
<text x="285.9" y="276.2" font-size="2.8" text-anchor="end" fill="#444" font-family="Liberation Sans, sans-serif">10</text>
<line x1="285.90" y1="292.50" x2="287.50" y2="292.50" stroke="#333" stroke-width="0.5" />
<text x="285.9" y="292.7" font-size="2.8" text-anchor="end" fill="#444" font-family="Liberation Sans, sans-serif">10</text>
<line x1="285.90" y1="300.20" x2="287.50" y2="300.20" stroke="#333" stroke-width="0.5" />
<text x="285.9" y="300.4" font-size="2.8" text-anchor="end" fill="#444" font-family="Liberation Sans, sans-serif">10</text>
<path d="M287.0,260.00h1.7M287.0,261.55h1.7M287.0,263.10h1.7M287.0,264.65h1.7M287.0,266.20h1.7M287.0,267.75h1.7M287.0,269.30h1.7M287.0,270.85h1.7M287.0,272.40h1.7M287.0,273.95h1.7M287.0,275.50h1.7M287.0,277.05h1.7M287.0,278.60h1.7M287.0,280.15h1.7M287.0,281.70h1.7M287.0,283.25h1.7M287.0,284.80h1.7M287.0,286.35h1.7M287.0,287.90h1.7M287.0,289.45h1.7M287.0,291.00h1.7M287.0,292.55h1.7M287.0,294.10h1.7M287.0,295.65h1.7M287.0,297.20h1.7M287.0,298.75h1.7M287.0,300.30h1.7M287.0,301.85h1.7M287.0,303.40h1.7M287.0,304.95h1.7M287.0,306.50h1.7M287.0,308.05h1.7M287.0,309.60h1.7" stroke="#222" stroke-width="0.6" fill="none"/>
<line x1="292.00" y1="312.50" x2="292.00" y2="314.00" stroke="#333" stroke-width="0.5" />
<text x="292.0" y="316.7" font-size="2.8" text-anchor="middle" fill="#444" font-family="Liberation Sans, sans-serif">10</text>
<line x1="295.50" y1="312.50" x2="295.50" y2="314.00" stroke="#333" stroke-width="0.5" />
<text x="295.5" y="316.7" font-size="2.8" text-anchor="middle" fill="#444" font-family="Liberation Sans, sans-serif">10</text>
<line x1="299.30" y1="312.50" x2="299.30" y2="314.00" stroke="#333" stroke-width="0.5" />
<text x="299.3" y="316.7" font-size="2.8" text-anchor="middle" fill="#444" font-family="Liberation Sans, sans-serif">10</text>
<line x1="326.70" y1="312.50" x2="326.70" y2="314.00" stroke="#333" stroke-width="0.5" />
<text x="326.7" y="316.7" font-size="2.8" text-anchor="middle" fill="#444" font-family="Liberation Sans, sans-serif">10</text>
<line x1="347.90" y1="312.50" x2="347.90" y2="314.00" stroke="#333" stroke-width="0.5" />
<text x="347.9" y="316.7" font-size="2.8" text-anchor="middle" fill="#444" font-family="Liberation Sans, sans-serif">10</text>
<path d="M289.00,312.9v-1.5M290.55,312.9v-1.5M292.10,312.9v-1.5M293.65,312.9v-1.5M295.20,312.9v-1.5M296.75,312.9v-1.5M298.30,312.9v-1.5M299.85,312.9v-1.5M301.40,312.9v-1.5M302.95,312.9v-1.5M304.50,312.9v-1.5M306.05,312.9v-1.5M307.60,312.9v-1.5M309.15,312.9v-1.5M310.70,312.9v-1.5M312.25,312.9v-1.5M313.80,312.9v-1.5M315.35,312.9v-1.5M316.90,312.9v-1.5M318.45,312.9v-1.5M320.00,312.9v-1.5M321.55,312.9v-1.5M323.10,312.9v-1.5M324.65,312.9v-1.5M326.20,312.9v-1.5M327.75,312.9v-1.5M329.30,312.9v-1.5M330.85,312.9v-1.5M332.40,312.9v-1.5M333.95,312.9v-1.5M335.50,312.9v-1.5M337.05,312.9v-1.5M338.60,312.9v-1.5M340.15,312.9v-1.5M341.70,312.9v-1.5M343.25,312.9v-1.5M344.80,312.9v-1.5M346.35,312.9v-1.5" stroke="#333" stroke-width="0.5" fill="none"/>
<path d="M293.3,296.6h.01M295.1,301.7h.01M301.7,299.4h.01M296.9,302.8h.01M296.0,298.6h.01M296.5,308.1h.01M294.3,299.1h.01M297.1,307.8h.01M296.3,297.2h.01M291.6,302.1h.01M295.0,304.2h.01M306.9,295.1h.01M298.5,296.4h.01M296.3,301.5h.01M298.6,304.3h.01M293.6,305.1h.01M296.9,302.1h.01M299.3,303.9h.01M291.7,295.7h.01M294.4,298.4h.01M295.4,305.4h.01M295.8,297.9h.01M295.1,299.1h.01M297.4,293.5h.01M299.7,299.3h.01M297.7,294.1h.01M299.7,301.4h.01M299.8,305.5h.01M294.8,301.2h.01M297.4,300.6h.01M295.5,298.5h.01M298.6,302.1h.01M295.6,295.9h.01M296.1,298.3h.01M301.8,308.1h.01M296.1,295.1h.01M291.9,297.9h.01M297.0,294.8h.01M297.5,304.6h.01M295.1,299.1h.01M296.8,295.2h.01M299.7,295.3h.01M295.1,304.1h.01M296.1,302.5h.01M294.5,303.0h.01M297.6,299.7h.01M296.3,303.3h.01M293.8,304.9h.01M296.2,302.5h.01M302.2,294.0h.01M291.5,292.6h.01M292.4,294.5h.01M297.7,301.0h.01M292.4,294.4h.01M302.6,295.9h.01M292.1,300.1h.01M292.7,296.6h.01M295.1,295.1h.01M299.9,303.5h.01M299.1,301.8h.01M298.4,302.9h.01M297.5,303.4h.01M300.6,305.3h.01M291.1,299.7h.01M297.5,299.2h.01M301.0,293.3h.01M293.4,299.0h.01M297.6,297.6h.01M300.3,303.8h.01M300.4,302.4h.01M296.2,305.4h.01M302.3,303.9h.01M298.2,304.3h.01M299.9,301.8h.01M293.4,300.4h.01M294.4,298.4h.01M294.3,299.8h.01M302.0,296.3h.01M289.6,301.3h.01M291.1,299.5h.01M299.1,292.2h.01M297.1,289.7h.01M295.4,298.1h.01M295.7,298.7h.01M300.3,304.7h.01M290.9,297.5h.01M295.0,295.0h.01M299.9,301.2h.01M299.0,303.5h.01M293.9,306.0h.01M295.8,296.0h.01M292.2,298.9h.01M300.8,298.2h.01M295.4,305.4h.01M300.5,302.4h.01M299.1,299.9h.01M294.0,302.5h.01M296.2,298.5h.01M298.6,299.0h.01M298.0,299.7h.01M301.3,297.9h.01M300.0,298.8h.01M297.6,301.1h.01M298.7,300.7h.01M294.5,305.3h.01M294.9,303.0h.01M298.5,299.5h.01M297.7,291.6h.01M293.3,294.2h.01M296.4,297.9h.01M294.3,298.3h.01M295.0,294.9h.01M300.6,298.3h.01M293.8,300.2h.01M294.7,297.4h.01M298.4,299.2h.01M296.9,299.4h.01M297.2,297.1h.01M292.3,296.5h.01M296.6,299.2h.01M295.6,300.7h.01M294.3,295.8h.01M295.0,292.1h.01M295.8,296.2h.01M299.2,301.6h.01M302.3,293.7h.01M297.0,303.2h.01M301.1,297.5h.01M297.0,300.2h.01M292.2,296.8h.01M296.9,301.9h.01M300.5,299.9h.01M300.9,301.1h.01M294.1,292.4h.01M303.4,302.4h.01M294.5,293.4h.01M294.5,298.4h.01M295.1,301.6h.01M301.1,299.0h.01M297.9,301.5h.01M299.4,300.3h.01M290.0,300.0h.01M296.6,296.7h.01M296.4,303.4h.01M298.8,303.8h.01M295.3,297.7h.01M300.3,296.4h.01M294.7,300.4h.01M292.5,296.9h.01M291.8,300.2h.01M300.5,302.7h.01M299.0,302.1h.01M294.4,305.1h.01M300.0,301.4h.01M296.2,295.8h.01M296.4,296.5h.01M292.3,301.6h.01M295.1,306.7h.01M297.1,298.4h.01M297.3,296.3h.01M295.0,304.8h.01M299.7,299.2h.01M301.1,302.2h.01M294.3,303.6h.01M297.9,296.0h.01M292.2,298.3h.01M298.0,297.6h.01M293.8,301.6h.01M296.3,302.1h.01M297.3,297.8h.01M296.0,301.7h.01M299.9,293.1h.01M294.4,300.9h.01M295.3,300.9h.01M297.7,299.7h.01M296.6,294.3h.01M297.5,299.3h.01M296.1,295.7h.01M294.3,305.0h.01M298.7,298.6h.01M297.0,298.9h.01M299.4,299.2h.01M300.7,301.6h.01M295.7,299.9h.01M294.5,301.6h.01M295.4,296.2h.01M294.8,303.7h.01M290.8,297.8h.01M301.7,302.4h.01M298.0,300.5h.01M303.7,303.6h.01M295.1,299.4h.01M298.5,294.2h.01M297.6,295.4h.01M296.6,298.8h.01M299.7,304.7h.01M296.8,298.1h.01M296.5,299.9h.01M297.3,304.3h.01M290.1,297.6h.01M294.6,300.8h.01M294.6,300.7h.01M301.7,297.5h.01M298.5,300.5h.01M299.1,303.5h.01M298.7,303.5h.01M296.2,298.4h.01M301.7,310.3h.01M296.2,300.9h.01M292.6,298.6h.01M298.7,297.0h.01M300.3,296.0h.01M297.1,302.6h.01M297.9,289.1h.01M299.6,299.1h.01M301.3,294.6h.01M298.5,299.0h.01M301.8,299.5h.01M297.6,294.9h.01M303.0,296.0h.01M292.7,304.3h.01M299.6,297.6h.01M297.6,299.6h.01M297.1,298.5h.01M293.0,302.7h.01M300.0,304.1h.01M296.2,303.0h.01M293.8,301.7h.01M294.9,301.7h.01M296.1,295.3h.01M297.1,304.4h.01M294.1,297.6h.01M294.0,296.4h.01M298.0,298.3h.01M296.6,296.7h.01M302.7,301.2h.01M295.5,302.3h.01M299.0,304.3h.01M302.0,299.3h.01M296.2,297.5h.01M299.7,298.6h.01M297.7,295.4h.01M296.9,297.0h.01M301.6,307.0h.01M293.8,296.8h.01M295.0,298.0h.01M291.5,302.0h.01M296.4,300.6h.01M299.7,302.5h.01M296.0,296.5h.01M299.2,295.7h.01M294.5,304.5h.01M300.2,297.2h.01M296.5,299.3h.01M295.4,300.4h.01M301.7,292.9h.01M296.8,298.9h.01M298.5,297.3h.01M297.1,301.6h.01M298.9,298.5h.01M297.1,291.4h.01M293.2,302.5h.01M297.6,290.3h.01M298.2,298.1h.01M297.9,297.1h.01M296.1,297.4h.01M302.2,299.6h.01M294.6,303.1h.01M297.2,296.5h.01M297.4,297.4h.01M293.6,302.4h.01M293.2,301.5h.01M298.8,302.3h.01M298.8,300.9h.01M297.2,298.8h.01M292.0,297.9h.01M295.9,297.9h.01M297.5,303.0h.01M298.6,305.1h.01M300.3,306.9h.01M298.1,295.8h.01M299.7,298.8h.01M301.7,299.7h.01M289.8,299.0h.01M299.7,295.5h.01M295.5,307.6h.01M298.2,305.2h.01M297.4,299.1h.01M293.7,298.0h.01" fill="none" stroke="#111" stroke-width="0.70" stroke-linecap="round" opacity="0.68"/>
<path d="M296.5,299.0h.01M295.0,298.9h.01M296.1,296.6h.01M297.6,303.8h.01M298.7,297.2h.01M297.7,303.3h.01M298.3,301.4h.01M295.2,301.9h.01M292.3,300.3h.01M298.4,300.8h.01M296.8,300.4h.01M296.4,301.0h.01M298.8,301.5h.01M295.3,303.0h.01M295.3,297.7h.01M295.6,300.8h.01M298.7,303.2h.01M297.8,302.7h.01M294.2,297.6h.01M298.7,300.4h.01M296.6,300.4h.01M297.1,300.3h.01M295.5,295.0h.01M299.0,301.6h.01M297.1,296.4h.01M298.3,304.4h.01M295.2,301.2h.01M297.5,299.6h.01M296.7,301.1h.01M296.3,300.1h.01M295.5,298.7h.01M295.6,299.6h.01M295.0,300.5h.01M295.7,298.1h.01M296.5,301.3h.01M297.3,302.2h.01M294.5,302.1h.01M295.2,302.3h.01M295.7,302.6h.01M294.4,301.3h.01M296.2,302.6h.01M296.2,300.0h.01M296.3,300.7h.01M297.1,302.8h.01M297.8,304.0h.01M297.6,299.1h.01M296.9,296.7h.01M297.3,304.4h.01M295.5,302.3h.01M295.3,303.7h.01M297.4,301.8h.01M297.3,300.4h.01M299.5,298.5h.01M296.2,297.8h.01M295.2,302.9h.01M296.9,301.9h.01M295.9,300.5h.01M295.4,297.5h.01M298.4,298.7h.01M299.1,298.5h.01M297.0,299.2h.01M295.7,293.7h.01M296.9,300.3h.01M296.5,303.2h.01M294.7,298.7h.01M297.7,299.9h.01M297.0,300.4h.01M298.2,297.7h.01M295.8,300.8h.01M296.5,298.1h.01M296.4,298.9h.01M294.3,300.4h.01M299.9,299.7h.01M293.8,300.1h.01M295.0,297.9h.01M296.1,301.4h.01M294.5,297.5h.01M297.1,301.7h.01M295.9,298.8h.01M296.7,297.3h.01M296.9,299.7h.01M296.7,297.6h.01M296.7,298.7h.01M296.4,299.5h.01M297.1,301.5h.01M297.6,301.6h.01M296.2,300.9h.01M296.0,299.2h.01M296.0,296.6h.01M297.0,299.4h.01" fill="none" stroke="#000" stroke-width="0.72" stroke-linecap="round" opacity="0.92"/>
<path d="M317.9,284.3h.01M318.6,283.4h.01M314.4,280.4h.01M317.2,285.3h.01M320.0,275.9h.01M310.3,282.1h.01M314.5,274.9h.01M325.1,279.9h.01M312.7,280.1h.01M312.5,282.0h.01M322.6,291.4h.01M317.1,283.1h.01M319.9,281.5h.01M319.7,269.5h.01M316.4,279.6h.01M324.8,286.9h.01M318.0,287.3h.01M316.7,284.1h.01M319.5,280.6h.01M315.9,284.6h.01M325.8,281.6h.01M315.8,281.6h.01M309.3,267.8h.01M320.8,297.2h.01M320.7,290.5h.01M313.6,284.2h.01M321.5,292.3h.01M306.0,279.3h.01M323.3,290.3h.01M327.6,278.9h.01M313.2,292.9h.01M325.7,275.7h.01M318.8,283.7h.01M325.0,283.6h.01M317.8,291.5h.01M330.0,280.1h.01M315.3,288.0h.01M316.4,279.1h.01M332.1,288.7h.01M313.6,287.2h.01M307.1,287.4h.01M317.3,280.7h.01M311.0,277.2h.01M311.6,280.6h.01M309.2,275.7h.01M312.6,287.6h.01M325.0,278.2h.01M325.2,280.5h.01M308.0,278.6h.01M316.8,280.2h.01M314.4,279.8h.01M327.4,285.5h.01M309.6,275.7h.01M321.1,268.9h.01M323.3,290.2h.01M316.3,286.8h.01M312.9,273.2h.01M320.7,292.2h.01M334.6,285.4h.01M323.5,289.0h.01M309.3,271.3h.01M319.6,282.9h.01M322.7,273.2h.01M313.3,283.5h.01M305.3,277.5h.01M331.0,289.4h.01M319.2,276.6h.01M317.6,285.4h.01M321.2,287.6h.01M326.1,283.2h.01M307.3,292.4h.01M323.4,276.6h.01M318.7,284.3h.01M321.2,279.3h.01M310.5,268.8h.01M336.8,280.1h.01M313.6,280.3h.01M322.1,276.3h.01M305.0,287.1h.01M314.1,273.9h.01M318.2,273.0h.01M305.1,275.7h.01M310.8,290.9h.01M323.3,289.4h.01M323.8,280.1h.01M320.3,272.3h.01M320.0,292.3h.01M319.2,279.6h.01M306.4,276.7h.01M320.4,266.3h.01M316.6,285.1h.01M329.8,287.7h.01M316.1,280.9h.01M314.9,279.5h.01M325.4,276.4h.01M311.6,279.7h.01M322.9,275.6h.01M317.9,285.0h.01M312.0,280.5h.01M318.0,290.4h.01M320.6,273.4h.01M320.8,287.0h.01M318.2,285.5h.01M310.2,284.3h.01M323.2,277.4h.01M322.5,277.6h.01M326.1,291.7h.01M319.6,275.4h.01M307.4,298.6h.01M319.7,290.0h.01" fill="none" stroke="#666" stroke-width="0.60" stroke-linecap="round" opacity="0.34"/>
<path d="M315.2,295.2h.01M330.9,303.9h.01M298.9,297.8h.01M319.9,299.1h.01M319.0,306.1h.01M318.1,303.9h.01M324.6,294.5h.01M314.7,297.2h.01M316.5,300.7h.01M327.1,299.0h.01M317.0,303.2h.01M309.7,297.2h.01M322.5,292.5h.01M317.3,296.3h.01M313.4,299.2h.01M322.4,302.2h.01M311.8,302.9h.01M310.1,305.0h.01M315.9,300.9h.01M316.4,299.2h.01M318.4,302.9h.01M308.3,299.6h.01M331.7,298.1h.01M323.4,298.1h.01M319.1,303.7h.01M319.8,305.9h.01M297.9,305.2h.01M325.3,293.6h.01M309.8,304.3h.01M322.0,295.5h.01" fill="none" stroke="#666" stroke-width="0.60" stroke-linecap="round" opacity="0.34"/>
<line x1="305.50" y1="258.50" x2="305.50" y2="312.50" stroke="#444" stroke-width="0.85" />
<line x1="287.50" y1="292.50" x2="348.50" y2="292.50" stroke="#444" stroke-width="0.85" />
<text x="345.90" y="263.70" font-size="5.5" text-anchor="end" fill="#000" font-weight="bold" >6%</text>
<text x="288.30" y="311.60" font-size="5.5" text-anchor="start" fill="#000" font-weight="bold" >84%</text>
<text x="346.10" y="310.90" font-size="5.5" text-anchor="end" fill="#000" font-weight="bold" >4%</text>
<rect x="287.5" y="321.5" width="61.00" height="54.00" fill="#fff" stroke="#444" stroke-width="0.85"/>
<line x1="285.90" y1="322.50" x2="287.50" y2="322.50" stroke="#333" stroke-width="0.5" />
<text x="285.9" y="322.7" font-size="2.8" text-anchor="end" fill="#444" font-family="Liberation Sans, sans-serif">10</text>
<line x1="285.90" y1="339.00" x2="287.50" y2="339.00" stroke="#333" stroke-width="0.5" />
<text x="285.9" y="339.2" font-size="2.8" text-anchor="end" fill="#444" font-family="Liberation Sans, sans-serif">10</text>
<line x1="285.90" y1="353.50" x2="287.50" y2="353.50" stroke="#333" stroke-width="0.5" />
<text x="285.9" y="353.7" font-size="2.8" text-anchor="end" fill="#444" font-family="Liberation Sans, sans-serif">10</text>
<line x1="285.90" y1="361.20" x2="287.50" y2="361.20" stroke="#333" stroke-width="0.5" />
<text x="285.9" y="361.4" font-size="2.8" text-anchor="end" fill="#444" font-family="Liberation Sans, sans-serif">10</text>
<path d="M287.0,323.00h1.7M287.0,324.55h1.7M287.0,326.10h1.7M287.0,327.65h1.7M287.0,329.20h1.7M287.0,330.75h1.7M287.0,332.30h1.7M287.0,333.85h1.7M287.0,335.40h1.7M287.0,336.95h1.7M287.0,338.50h1.7M287.0,340.05h1.7M287.0,341.60h1.7M287.0,343.15h1.7M287.0,344.70h1.7M287.0,346.25h1.7M287.0,347.80h1.7M287.0,349.35h1.7M287.0,350.90h1.7M287.0,352.45h1.7M287.0,354.00h1.7M287.0,355.55h1.7M287.0,357.10h1.7M287.0,358.65h1.7M287.0,360.20h1.7M287.0,361.75h1.7M287.0,363.30h1.7M287.0,364.85h1.7M287.0,366.40h1.7M287.0,367.95h1.7M287.0,369.50h1.7M287.0,371.05h1.7M287.0,372.60h1.7" stroke="#222" stroke-width="0.6" fill="none"/>
<line x1="292.00" y1="375.50" x2="292.00" y2="377.00" stroke="#333" stroke-width="0.5" />
<text x="292.0" y="379.7" font-size="2.8" text-anchor="middle" fill="#444" font-family="Liberation Sans, sans-serif">10</text>
<line x1="295.50" y1="375.50" x2="295.50" y2="377.00" stroke="#333" stroke-width="0.5" />
<text x="295.5" y="379.7" font-size="2.8" text-anchor="middle" fill="#444" font-family="Liberation Sans, sans-serif">10</text>
<line x1="299.30" y1="375.50" x2="299.30" y2="377.00" stroke="#333" stroke-width="0.5" />
<text x="299.3" y="379.7" font-size="2.8" text-anchor="middle" fill="#444" font-family="Liberation Sans, sans-serif">10</text>
<line x1="326.70" y1="375.50" x2="326.70" y2="377.00" stroke="#333" stroke-width="0.5" />
<text x="326.7" y="379.7" font-size="2.8" text-anchor="middle" fill="#444" font-family="Liberation Sans, sans-serif">10</text>
<line x1="347.90" y1="375.50" x2="347.90" y2="377.00" stroke="#333" stroke-width="0.5" />
<text x="347.9" y="379.7" font-size="2.8" text-anchor="middle" fill="#444" font-family="Liberation Sans, sans-serif">10</text>
<path d="M289.00,375.9v-1.5M290.55,375.9v-1.5M292.10,375.9v-1.5M293.65,375.9v-1.5M295.20,375.9v-1.5M296.75,375.9v-1.5M298.30,375.9v-1.5M299.85,375.9v-1.5M301.40,375.9v-1.5M302.95,375.9v-1.5M304.50,375.9v-1.5M306.05,375.9v-1.5M307.60,375.9v-1.5M309.15,375.9v-1.5M310.70,375.9v-1.5M312.25,375.9v-1.5M313.80,375.9v-1.5M315.35,375.9v-1.5M316.90,375.9v-1.5M318.45,375.9v-1.5M320.00,375.9v-1.5M321.55,375.9v-1.5M323.10,375.9v-1.5M324.65,375.9v-1.5M326.20,375.9v-1.5M327.75,375.9v-1.5M329.30,375.9v-1.5M330.85,375.9v-1.5M332.40,375.9v-1.5M333.95,375.9v-1.5M335.50,375.9v-1.5M337.05,375.9v-1.5M338.60,375.9v-1.5M340.15,375.9v-1.5M341.70,375.9v-1.5M343.25,375.9v-1.5M344.80,375.9v-1.5M346.35,375.9v-1.5" stroke="#333" stroke-width="0.5" fill="none"/>
<path d="M295.5,357.2h.01M298.4,366.0h.01M292.4,362.8h.01M292.8,361.7h.01M294.3,356.3h.01M301.8,361.0h.01M299.9,364.6h.01M293.8,362.4h.01M297.0,366.3h.01M297.0,362.1h.01M297.5,364.7h.01M294.4,363.7h.01M301.0,359.3h.01M295.4,367.5h.01M299.1,363.3h.01M291.4,365.3h.01M297.8,357.2h.01M297.0,357.1h.01M300.8,361.0h.01M288.5,358.3h.01M298.3,364.4h.01M299.1,363.5h.01M295.8,367.0h.01M300.7,364.3h.01M303.1,356.9h.01M299.3,365.8h.01M299.1,358.9h.01M300.8,358.6h.01M297.9,362.0h.01M300.4,361.7h.01M298.4,366.2h.01M294.5,373.9h.01M293.3,363.6h.01M300.2,368.0h.01M298.4,360.8h.01M294.5,363.2h.01M296.7,359.5h.01M301.1,359.9h.01M291.3,367.5h.01M293.8,363.7h.01M298.8,363.6h.01M299.1,358.3h.01M293.0,369.1h.01M293.5,361.0h.01M297.1,358.9h.01M300.9,361.7h.01M296.6,364.6h.01M289.4,365.0h.01M299.8,368.0h.01M296.5,357.2h.01M295.2,359.9h.01M293.0,368.4h.01M300.3,371.5h.01M297.4,359.0h.01M297.8,361.3h.01M297.7,355.1h.01M297.9,358.2h.01M299.2,357.9h.01M301.9,361.3h.01M293.3,356.6h.01M296.4,365.7h.01M295.2,361.5h.01M301.8,360.7h.01M295.7,365.7h.01M291.6,360.6h.01M296.5,356.4h.01M294.3,361.9h.01M294.3,371.1h.01M295.2,362.2h.01M292.5,364.0h.01M290.6,360.9h.01M302.6,360.8h.01M296.2,363.9h.01M293.7,350.4h.01M298.5,356.4h.01M300.7,359.2h.01M291.2,360.6h.01M295.2,368.0h.01M297.5,372.3h.01M294.0,364.5h.01M298.0,363.5h.01M292.7,364.7h.01M294.5,368.2h.01M296.2,357.5h.01M297.9,359.6h.01M296.7,362.4h.01M294.5,363.0h.01M295.4,353.6h.01M290.0,363.6h.01M303.2,354.9h.01M295.3,365.0h.01M295.7,365.4h.01M297.4,352.0h.01M298.4,363.9h.01M297.6,362.6h.01M294.5,359.1h.01M291.4,365.8h.01M296.0,370.3h.01M294.1,363.9h.01M294.9,357.1h.01M296.6,355.6h.01M297.3,356.7h.01M300.6,357.4h.01M296.1,366.6h.01M291.2,363.0h.01M298.4,361.6h.01M299.5,365.5h.01M291.5,361.8h.01M298.5,361.9h.01M297.2,358.1h.01M294.9,359.1h.01M297.1,361.9h.01M297.8,356.7h.01M298.4,368.9h.01M300.1,362.3h.01M296.5,359.4h.01M296.6,365.9h.01M304.1,357.2h.01M293.3,366.3h.01M295.7,362.1h.01M295.5,369.8h.01M299.0,359.4h.01M300.0,360.0h.01M292.5,358.1h.01M300.4,356.4h.01M292.9,362.8h.01M304.7,357.2h.01M294.5,363.1h.01M300.0,359.0h.01M295.7,366.2h.01M298.8,350.8h.01M294.3,363.5h.01M297.0,361.9h.01M296.6,361.7h.01M296.9,359.0h.01M299.0,369.2h.01M295.2,360.0h.01M295.6,363.5h.01M292.5,360.6h.01M296.1,360.2h.01M295.1,362.1h.01M299.3,364.6h.01M298.7,356.9h.01M294.3,359.7h.01M298.0,355.7h.01M300.7,363.4h.01M295.9,358.1h.01M292.9,358.5h.01M304.2,364.5h.01M298.3,361.7h.01M298.8,363.5h.01M304.4,361.1h.01M294.1,363.5h.01M297.5,362.1h.01M290.7,356.9h.01M298.1,362.6h.01M297.8,360.2h.01M294.1,360.7h.01M293.9,362.9h.01M296.0,359.4h.01M295.9,357.2h.01M301.5,366.8h.01M295.8,369.6h.01M296.1,360.2h.01M296.0,366.6h.01M291.6,363.4h.01M295.1,359.0h.01M292.4,358.1h.01M297.0,360.5h.01M289.8,359.9h.01M293.1,360.3h.01M297.4,361.2h.01M290.1,356.9h.01M291.7,365.4h.01M299.7,356.9h.01M292.4,357.1h.01M296.5,365.7h.01M297.5,365.0h.01M293.3,368.0h.01M291.3,362.3h.01M301.3,359.0h.01M294.8,366.6h.01M298.2,361.3h.01M294.2,361.2h.01M297.7,358.1h.01M292.5,363.4h.01M292.3,351.6h.01M293.3,364.0h.01M294.6,353.1h.01M294.6,365.5h.01M295.5,355.0h.01M297.9,364.6h.01M294.9,372.3h.01M299.5,360.5h.01M294.5,356.7h.01M298.6,370.1h.01M300.6,359.8h.01M302.0,356.9h.01M290.4,367.1h.01M301.9,349.5h.01M291.1,355.3h.01M301.0,356.1h.01M296.5,358.7h.01M297.7,353.0h.01M293.6,365.2h.01M299.5,366.1h.01M298.7,361.5h.01M294.9,359.9h.01M294.7,355.0h.01M299.2,363.7h.01M299.8,358.7h.01M299.0,364.4h.01M295.4,366.1h.01M296.6,361.9h.01M299.5,352.6h.01M299.2,357.7h.01M300.1,367.6h.01M297.0,362.9h.01M294.4,367.8h.01M297.5,352.1h.01M298.0,361.2h.01M294.9,361.0h.01M298.0,354.7h.01M294.0,358.9h.01M297.4,365.9h.01M294.7,364.0h.01M303.1,359.4h.01M300.3,363.1h.01M297.4,366.8h.01M292.5,357.1h.01M292.8,363.0h.01M298.7,366.2h.01M296.1,358.8h.01M297.5,367.3h.01M291.7,361.3h.01M291.9,366.5h.01M296.9,365.7h.01M295.9,362.9h.01M292.4,360.5h.01M294.1,358.9h.01M299.0,362.5h.01M295.2,362.6h.01M298.4,367.8h.01M301.7,361.4h.01M297.6,363.2h.01M297.0,369.0h.01M294.7,363.1h.01M300.4,363.7h.01M292.1,368.7h.01M293.2,362.1h.01M296.5,363.5h.01M292.0,365.0h.01M299.6,361.2h.01M294.6,356.9h.01M298.2,355.4h.01M295.6,360.9h.01M295.8,366.6h.01M296.6,366.0h.01M290.5,368.7h.01M293.2,365.6h.01M295.1,358.9h.01M303.5,355.5h.01M299.1,359.5h.01M298.8,360.6h.01M293.4,358.5h.01M299.3,365.7h.01M300.4,358.3h.01M298.9,364.2h.01M304.7,365.1h.01M292.4,354.3h.01M293.2,359.9h.01M295.8,367.1h.01M293.6,365.4h.01M296.7,362.3h.01M298.2,357.0h.01M296.5,358.7h.01M296.9,362.1h.01M297.8,367.2h.01M299.0,363.9h.01M294.5,361.4h.01M294.5,362.7h.01M300.3,365.1h.01M295.5,354.2h.01M294.0,357.5h.01M297.5,361.9h.01M295.5,366.9h.01M296.9,366.4h.01M296.4,358.4h.01M298.5,361.8h.01M299.4,358.5h.01M294.0,360.0h.01M292.8,362.3h.01M301.5,360.2h.01M294.4,359.3h.01M291.8,356.7h.01M290.7,354.9h.01M296.5,360.9h.01M294.6,362.5h.01M290.9,364.4h.01M293.6,358.2h.01" fill="none" stroke="#111" stroke-width="0.70" stroke-linecap="round" opacity="0.68"/>
<path d="M295.6,363.7h.01M298.3,365.3h.01M297.2,364.0h.01M297.8,360.0h.01M295.8,359.7h.01M295.6,362.4h.01M295.0,363.7h.01M298.0,362.8h.01M295.0,360.8h.01M294.2,359.5h.01M295.5,364.8h.01M298.3,361.4h.01M296.6,366.2h.01M296.9,359.0h.01M296.7,361.0h.01M296.5,360.2h.01M296.3,366.2h.01M294.6,364.7h.01M298.9,360.6h.01M296.4,357.2h.01M298.3,364.5h.01M294.4,362.1h.01M297.3,359.1h.01M294.9,358.2h.01M294.8,362.7h.01M296.9,361.3h.01M298.0,362.1h.01M298.5,362.7h.01M298.4,360.9h.01M296.2,361.1h.01M297.7,363.4h.01M295.7,361.5h.01M295.8,361.1h.01M296.9,363.3h.01M296.4,357.1h.01M297.8,364.7h.01M294.0,362.8h.01M298.2,360.0h.01M295.8,361.4h.01M298.6,364.7h.01M298.2,363.1h.01M295.0,357.5h.01M296.5,359.4h.01M297.5,362.2h.01M295.5,366.0h.01M295.5,363.6h.01M296.1,361.3h.01M297.6,363.2h.01M297.8,361.8h.01M296.0,361.1h.01" fill="none" stroke="#000" stroke-width="0.72" stroke-linecap="round" opacity="0.92"/>
<path d="M320.6,349.9h.01M303.1,343.7h.01M325.0,344.2h.01M321.7,353.2h.01M314.9,345.6h.01M312.0,348.0h.01M309.6,338.5h.01M319.9,341.4h.01M319.0,332.3h.01M319.2,336.9h.01M329.9,347.2h.01M302.7,352.4h.01M313.0,343.4h.01M312.6,337.9h.01M324.6,345.6h.01M316.3,351.8h.01M311.5,344.0h.01M319.4,350.5h.01M320.8,344.6h.01M329.2,337.7h.01M319.8,339.6h.01M314.9,343.5h.01M314.5,358.6h.01M312.4,348.5h.01M321.4,343.6h.01" fill="none" stroke="#666" stroke-width="0.60" stroke-linecap="round" opacity="0.34"/>
<path d="M320.3,369.3h.01M319.7,364.7h.01M314.5,362.0h.01M317.2,360.4h.01M316.0,358.2h.01M323.9,357.0h.01M330.4,364.3h.01M328.5,360.3h.01M315.5,360.2h.01M322.4,364.0h.01M312.3,360.6h.01M309.3,364.6h.01M318.6,359.5h.01M322.8,360.0h.01M317.5,365.6h.01M324.6,359.3h.01M324.6,364.4h.01M324.0,364.0h.01M316.8,362.0h.01M307.2,355.5h.01M332.3,356.8h.01M314.2,357.7h.01M323.8,356.9h.01M321.9,365.4h.01M315.3,358.6h.01" fill="none" stroke="#666" stroke-width="0.60" stroke-linecap="round" opacity="0.34"/>
<line x1="305.50" y1="321.50" x2="305.50" y2="375.50" stroke="#444" stroke-width="0.85" />
<line x1="287.50" y1="353.50" x2="348.50" y2="353.50" stroke="#444" stroke-width="0.85" />
<text x="345.90" y="326.70" font-size="5.5" text-anchor="end" fill="#000" font-weight="bold" >2%</text>
<text x="288.30" y="374.60" font-size="5.5" text-anchor="start" fill="#000" font-weight="bold" >93%</text>
<text x="346.10" y="373.90" font-size="5.5" text-anchor="end" fill="#000" font-weight="bold" >4%</text>
<path d="M191.30,308.00 L191.30,386.30 L211.50,386.30" fill="none" stroke="#000" stroke-width="1.1"/>
<polygon points="191.30,303.80 188.40,309.80 191.30,308.20 194.20,309.80" fill="#000"/>
<polygon points="216.60,386.30 209.60,383.40 211.20,386.30 209.60,389.20" fill="#000"/>
<text x="193.20" y="291.20" font-size="7.0" text-anchor="middle" fill="#000" font-weight="bold" transform="rotate(-90 193.20 291.20)" >CD117</text>
<text x="218.50" y="388.90" font-size="7.1" text-anchor="start" fill="#000" font-weight="bold" textLength="28.50" lengthAdjust="spacingAndGlyphs" >CD45RA</text>
<path d="M277.60,308.00 L277.60,386.30 L303.00,386.30" fill="none" stroke="#000" stroke-width="1.1"/>
<polygon points="277.60,303.80 274.70,309.80 277.60,308.20 280.50,309.80" fill="#000"/>
<polygon points="308.00,386.30 301.00,383.40 302.60,386.30 301.00,389.20" fill="#000"/>
<text x="280.00" y="291.20" font-size="7.0" text-anchor="middle" fill="#000" font-weight="bold" transform="rotate(-90 280.00 291.20)" >CD10</text>
<text x="310.00" y="388.90" font-size="7.1" text-anchor="start" fill="#000" font-weight="bold" textLength="28.00" lengthAdjust="spacingAndGlyphs" >CD45RA</text>
<line x1="402.00" y1="176.90" x2="402.00" y2="270.10" stroke="#000" stroke-width="0.9" />
<line x1="402.00" y1="269.70" x2="495.00" y2="269.70" stroke="#000" stroke-width="0.9" />
<line x1="399.40" y1="177.30" x2="402.00" y2="177.30" stroke="#000" stroke-width="0.8" />
<text x="398.60" y="179.80" font-size="7.0" text-anchor="end" fill="#000" font-weight="bold" >1</text>
<line x1="399.40" y1="223.50" x2="402.00" y2="223.50" stroke="#000" stroke-width="0.8" />
<text x="398.60" y="226.00" font-size="7.0" text-anchor="end" fill="#000" font-weight="bold" >0.1</text>
<line x1="399.40" y1="269.70" x2="402.00" y2="269.70" stroke="#000" stroke-width="0.8" />
<text x="398.60" y="272.20" font-size="7.0" text-anchor="end" fill="#000" font-weight="bold" >0.01</text>
<line x1="400.60" y1="255.79" x2="402.00" y2="255.79" stroke="#000" stroke-width="0.5" />
<line x1="400.60" y1="247.66" x2="402.00" y2="247.66" stroke="#000" stroke-width="0.5" />
<line x1="400.60" y1="241.88" x2="402.00" y2="241.88" stroke="#000" stroke-width="0.5" />
<line x1="400.60" y1="237.41" x2="402.00" y2="237.41" stroke="#000" stroke-width="0.5" />
<line x1="400.60" y1="233.75" x2="402.00" y2="233.75" stroke="#000" stroke-width="0.5" />
<line x1="400.60" y1="230.66" x2="402.00" y2="230.66" stroke="#000" stroke-width="0.5" />
<line x1="400.60" y1="227.98" x2="402.00" y2="227.98" stroke="#000" stroke-width="0.5" />
<line x1="400.60" y1="225.61" x2="402.00" y2="225.61" stroke="#000" stroke-width="0.5" />
<line x1="400.60" y1="209.59" x2="402.00" y2="209.59" stroke="#000" stroke-width="0.5" />
<line x1="400.60" y1="201.46" x2="402.00" y2="201.46" stroke="#000" stroke-width="0.5" />
<line x1="400.60" y1="195.68" x2="402.00" y2="195.68" stroke="#000" stroke-width="0.5" />
<line x1="400.60" y1="191.21" x2="402.00" y2="191.21" stroke="#000" stroke-width="0.5" />
<line x1="400.60" y1="187.55" x2="402.00" y2="187.55" stroke="#000" stroke-width="0.5" />
<line x1="400.60" y1="184.46" x2="402.00" y2="184.46" stroke="#000" stroke-width="0.5" />
<line x1="400.60" y1="181.78" x2="402.00" y2="181.78" stroke="#000" stroke-width="0.5" />
<line x1="400.60" y1="179.41" x2="402.00" y2="179.41" stroke="#000" stroke-width="0.5" />
<line x1="411.40" y1="269.70" x2="411.40" y2="272.10" stroke="#000" stroke-width="0.8" />
<line x1="429.40" y1="269.70" x2="429.40" y2="272.10" stroke="#000" stroke-width="0.8" />
<line x1="448.40" y1="269.70" x2="448.40" y2="272.10" stroke="#000" stroke-width="0.8" />
<line x1="466.30" y1="269.70" x2="466.30" y2="272.10" stroke="#000" stroke-width="0.8" />
<line x1="485.60" y1="269.70" x2="485.60" y2="272.10" stroke="#000" stroke-width="0.8" />
<text x="383.10" y="218.80" font-size="7.2" text-anchor="middle" fill="#000" font-weight="bold" transform="rotate(-90 383.10 218.80)" textLength="81.00" lengthAdjust="spacingAndGlyphs" >Ratio lymphoid/myeloid</text>
<line x1="438.40" y1="176.00" x2="438.40" y2="421.00" stroke="#777" stroke-width="1.1" stroke-dasharray="2 2"/>
<circle cx="410.90" cy="196.80" r="1.75" fill="#fff" stroke="#111" stroke-width="0.95"/>
<circle cx="413.90" cy="195.30" r="1.75" fill="#fff" stroke="#111" stroke-width="0.95"/>
<circle cx="410.90" cy="205.90" r="1.75" fill="#fff" stroke="#111" stroke-width="0.95"/>
<circle cx="413.90" cy="210.60" r="1.75" fill="#fff" stroke="#111" stroke-width="0.95"/>
<circle cx="410.90" cy="212.80" r="1.75" fill="#fff" stroke="#111" stroke-width="0.95"/>
<circle cx="410.90" cy="218.40" r="1.75" fill="#fff" stroke="#111" stroke-width="0.95"/>
<circle cx="413.90" cy="234.50" r="1.75" fill="#fff" stroke="#111" stroke-width="0.95"/>
<circle cx="410.90" cy="237.60" r="1.75" fill="#fff" stroke="#111" stroke-width="0.95"/>
<circle cx="429.80" cy="180.00" r="1.70" fill="#a8a8a8" stroke="#222" stroke-width="1.0"/>
<circle cx="426.80" cy="187.40" r="1.70" fill="#a8a8a8" stroke="#222" stroke-width="1.0"/>
<circle cx="432.70" cy="187.40" r="1.70" fill="#a8a8a8" stroke="#222" stroke-width="1.0"/>
<circle cx="429.80" cy="190.90" r="1.70" fill="#a8a8a8" stroke="#222" stroke-width="1.0"/>
<circle cx="424.10" cy="196.80" r="1.70" fill="#a8a8a8" stroke="#222" stroke-width="1.0"/>
<circle cx="429.80" cy="198.80" r="1.70" fill="#a8a8a8" stroke="#222" stroke-width="1.0"/>
<circle cx="426.80" cy="204.10" r="1.70" fill="#a8a8a8" stroke="#222" stroke-width="1.0"/>
<circle cx="432.70" cy="204.70" r="1.70" fill="#a8a8a8" stroke="#222" stroke-width="1.0"/>
<circle cx="429.80" cy="208.80" r="1.70" fill="#a8a8a8" stroke="#222" stroke-width="1.0"/>
<circle cx="426.80" cy="216.80" r="1.70" fill="#a8a8a8" stroke="#222" stroke-width="1.0"/>
<circle cx="424.10" cy="219.20" r="1.70" fill="#a8a8a8" stroke="#222" stroke-width="1.0"/>
<circle cx="432.70" cy="219.30" r="1.70" fill="#a8a8a8" stroke="#222" stroke-width="1.0"/>
<circle cx="429.80" cy="221.80" r="1.70" fill="#a8a8a8" stroke="#222" stroke-width="1.0"/>
<circle cx="426.80" cy="225.60" r="1.70" fill="#a8a8a8" stroke="#222" stroke-width="1.0"/>
<circle cx="432.70" cy="225.60" r="1.70" fill="#a8a8a8" stroke="#222" stroke-width="1.0"/>
<circle cx="429.80" cy="228.60" r="1.70" fill="#a8a8a8" stroke="#222" stroke-width="1.0"/>
<polygon points="448.50,200.15 450.35,202.00 448.50,203.85 446.65,202.00" fill="#000"/>
<polygon points="448.50,206.75 450.35,208.60 448.50,210.45 446.65,208.60" fill="#000"/>
<polygon points="445.60,210.55 447.45,212.40 445.60,214.25 443.75,212.40" fill="#000"/>
<polygon points="448.50,213.45 450.35,215.30 448.50,217.15 446.65,215.30" fill="#000"/>
<polygon points="451.40,213.45 453.25,215.30 451.40,217.15 449.55,215.30" fill="#000"/>
<polygon points="445.60,218.95 447.45,220.80 445.60,222.65 443.75,220.80" fill="#000"/>
<polygon points="451.40,221.35 453.25,223.20 451.40,225.05 449.55,223.20" fill="#000"/>
<polygon points="442.60,222.25 444.45,224.10 442.60,225.95 440.75,224.10" fill="#000"/>
<polygon points="448.50,223.45 450.35,225.30 448.50,227.15 446.65,225.30" fill="#000"/>
<polygon points="448.50,236.15 450.35,238.00 448.50,239.85 446.65,238.00" fill="#000"/>
<polygon points="451.20,234.25 453.05,236.10 451.20,237.95 449.35,236.10" fill="#000"/>
<polygon points="460.80,209.10 463.10,211.40 460.80,213.70 458.50,211.40" fill="#777" stroke="#000" stroke-width="1.3"/>
<polygon points="466.50,211.60 468.80,213.90 466.50,216.20 464.20,213.90" fill="#777" stroke="#000" stroke-width="1.3"/>
<polygon points="469.40,216.50 471.70,218.80 469.40,221.10 467.10,218.80" fill="#777" stroke="#000" stroke-width="1.3"/>
<polygon points="466.80,218.90 469.10,221.20 466.80,223.50 464.50,221.20" fill="#777" stroke="#000" stroke-width="1.3"/>
<polygon points="460.80,222.80 463.10,225.10 460.80,227.40 458.50,225.10" fill="#777" stroke="#000" stroke-width="1.3"/>
<polygon points="466.50,227.70 468.80,230.00 466.50,232.30 464.20,230.00" fill="#777" stroke="#000" stroke-width="1.3"/>
<polygon points="463.50,231.00 465.80,233.30 463.50,235.60 461.20,233.30" fill="#777" stroke="#000" stroke-width="1.3"/>
<polygon points="469.40,231.20 471.70,233.50 469.40,235.80 467.10,233.50" fill="#777" stroke="#000" stroke-width="1.3"/>
<polygon points="466.50,235.50 468.80,237.80 466.50,240.10 464.20,237.80" fill="#777" stroke="#000" stroke-width="1.3"/>
<polygon points="460.80,237.70 463.10,240.00 460.80,242.30 458.50,240.00" fill="#777" stroke="#000" stroke-width="1.3"/>
<polygon points="466.50,243.60 468.80,245.90 466.50,248.20 464.20,245.90" fill="#777" stroke="#000" stroke-width="1.3"/>
<polygon points="466.50,253.30 468.80,255.60 466.50,257.90 464.20,255.60" fill="#777" stroke="#000" stroke-width="1.3"/>
<polygon points="482.70,218.30 484.80,220.40 482.70,222.50 480.60,220.40" fill="#fff" stroke="#111" stroke-width="0.85"/>
<polygon points="479.80,222.00 481.90,224.10 479.80,226.20 477.70,224.10" fill="#fff" stroke="#111" stroke-width="0.85"/>
<polygon points="488.20,220.30 490.30,222.40 488.20,224.50 486.10,222.40" fill="#fff" stroke="#111" stroke-width="0.85"/>
<polygon points="485.30,223.00 487.40,225.10 485.30,227.20 483.20,225.10" fill="#fff" stroke="#111" stroke-width="0.85"/>
<polygon points="485.30,235.10 487.40,237.20 485.30,239.30 483.20,237.20" fill="#fff" stroke="#111" stroke-width="0.85"/>
<polygon points="479.80,244.10 481.90,246.20 479.80,248.30 477.70,246.20" fill="#fff" stroke="#111" stroke-width="0.85"/>
<polygon points="485.30,244.10 487.40,246.20 485.30,248.30 483.20,246.20" fill="#fff" stroke="#111" stroke-width="0.85"/>
<polygon points="485.30,261.70 487.40,263.80 485.30,265.90 483.20,263.80" fill="#fff" stroke="#111" stroke-width="0.85"/>
<line x1="404.10" y1="211.40" x2="417.60" y2="211.40" stroke="#000" stroke-width="0.9" />
<line x1="422.90" y1="206.50" x2="435.90" y2="206.50" stroke="#000" stroke-width="0.9" />
<line x1="441.80" y1="220.60" x2="454.70" y2="220.60" stroke="#000" stroke-width="0.9" />
<line x1="460.60" y1="231.40" x2="473.50" y2="231.40" stroke="#000" stroke-width="0.9" />
<line x1="479.20" y1="230.80" x2="491.80" y2="230.80" stroke="#000" stroke-width="0.9" />
<path d="M428.70,174.70 q0,-1.6 1.6,-1.6 L455.00,173.10 q1.4,0 1.4,-2.6 q0,2.6 1.4,2.6 L483.00,173.10 q1.6,0 1.6,1.6" fill="none" stroke="#909090" stroke-width="0.8"/>
<text x="456.40" y="172.90" font-size="6.5" text-anchor="middle" fill="#000" font-weight="bold" >*</text>
<line x1="401.40" y1="287.70" x2="401.40" y2="381.80" stroke="#000" stroke-width="0.9" />
<line x1="401.40" y1="381.40" x2="495.00" y2="381.40" stroke="#000" stroke-width="0.9" />
<line x1="398.80" y1="381.40" x2="401.40" y2="381.40" stroke="#000" stroke-width="0.8" />
<text x="398.00" y="383.90" font-size="7.0" text-anchor="end" fill="#000" font-weight="bold" >0.0</text>
<line x1="398.80" y1="364.40" x2="401.40" y2="364.40" stroke="#000" stroke-width="0.8" />
<text x="398.00" y="366.90" font-size="7.0" text-anchor="end" fill="#000" font-weight="bold" >0.2</text>
<line x1="398.80" y1="347.40" x2="401.40" y2="347.40" stroke="#000" stroke-width="0.8" />
<text x="398.00" y="349.90" font-size="7.0" text-anchor="end" fill="#000" font-weight="bold" >0.4</text>
<line x1="398.80" y1="330.40" x2="401.40" y2="330.40" stroke="#000" stroke-width="0.8" />
<text x="398.00" y="332.90" font-size="7.0" text-anchor="end" fill="#000" font-weight="bold" >0.6</text>
<line x1="398.80" y1="313.40" x2="401.40" y2="313.40" stroke="#000" stroke-width="0.8" />
<text x="398.00" y="315.90" font-size="7.0" text-anchor="end" fill="#000" font-weight="bold" >0.8</text>
<line x1="398.80" y1="296.40" x2="401.40" y2="296.40" stroke="#000" stroke-width="0.8" />
<text x="398.00" y="298.90" font-size="7.0" text-anchor="end" fill="#000" font-weight="bold" >1.0</text>
<line x1="400.00" y1="372.90" x2="401.40" y2="372.90" stroke="#000" stroke-width="0.5" />
<line x1="400.00" y1="355.90" x2="401.40" y2="355.90" stroke="#000" stroke-width="0.5" />
<line x1="400.00" y1="338.90" x2="401.40" y2="338.90" stroke="#000" stroke-width="0.5" />
<line x1="400.00" y1="321.90" x2="401.40" y2="321.90" stroke="#000" stroke-width="0.5" />
<line x1="400.00" y1="304.90" x2="401.40" y2="304.90" stroke="#000" stroke-width="0.5" />
<line x1="400.00" y1="287.90" x2="401.40" y2="287.90" stroke="#000" stroke-width="0.5" />
<line x1="411.30" y1="381.40" x2="411.30" y2="383.80" stroke="#000" stroke-width="0.8" />
<text x="411.30" y="392.00" font-size="7.2" text-anchor="middle" fill="#000" font-weight="bold" >O</text>
<line x1="429.40" y1="381.40" x2="429.40" y2="383.80" stroke="#000" stroke-width="0.8" />
<text x="429.40" y="392.00" font-size="7.2" text-anchor="middle" fill="#000" font-weight="bold" >M</text>
<line x1="448.30" y1="381.40" x2="448.30" y2="383.80" stroke="#000" stroke-width="0.8" />
<text x="448.30" y="392.00" font-size="7.2" text-anchor="middle" fill="#000" font-weight="bold" >H</text>
<line x1="466.50" y1="381.40" x2="466.50" y2="383.80" stroke="#000" stroke-width="0.8" />
<text x="466.50" y="392.00" font-size="7.2" text-anchor="middle" fill="#000" font-weight="bold" >I</text>
<line x1="485.80" y1="381.40" x2="485.80" y2="383.80" stroke="#000" stroke-width="0.8" />
<text x="485.80" y="392.00" font-size="7.2" text-anchor="middle" fill="#000" font-weight="bold" >L</text>
<text x="382.80" y="335.50" font-size="7.5" text-anchor="middle" fill="#000" font-weight="bold" transform="rotate(-90 382.80 335.50)" textLength="85.40" lengthAdjust="spacingAndGlyphs" >l-HPC cell count (cell/µl)</text>
<circle cx="410.90" cy="357.10" r="1.75" fill="#fff" stroke="#111" stroke-width="0.95"/>
<circle cx="413.90" cy="356.80" r="1.75" fill="#fff" stroke="#111" stroke-width="0.95"/>
<circle cx="410.90" cy="370.10" r="1.75" fill="#fff" stroke="#111" stroke-width="0.95"/>
<circle cx="408.20" cy="377.10" r="1.75" fill="#fff" stroke="#111" stroke-width="0.95"/>
<circle cx="410.90" cy="376.20" r="1.75" fill="#fff" stroke="#111" stroke-width="0.95"/>
<circle cx="413.90" cy="377.40" r="1.75" fill="#fff" stroke="#111" stroke-width="0.95"/>
<circle cx="410.90" cy="379.50" r="1.75" fill="#fff" stroke="#111" stroke-width="0.95"/>
<circle cx="413.90" cy="379.10" r="1.75" fill="#fff" stroke="#111" stroke-width="0.95"/>
<circle cx="409.40" cy="378.30" r="1.75" fill="#fff" stroke="#111" stroke-width="0.95"/>
<circle cx="429.80" cy="294.40" r="1.70" fill="#a8a8a8" stroke="#222" stroke-width="1.0"/>
<circle cx="424.10" cy="330.10" r="1.70" fill="#a8a8a8" stroke="#222" stroke-width="1.0"/>
<circle cx="429.80" cy="332.60" r="1.70" fill="#a8a8a8" stroke="#222" stroke-width="1.0"/>
<circle cx="430.80" cy="349.70" r="1.70" fill="#a8a8a8" stroke="#222" stroke-width="1.0"/>
<circle cx="427.10" cy="352.40" r="1.70" fill="#a8a8a8" stroke="#222" stroke-width="1.0"/>
<circle cx="432.40" cy="352.60" r="1.70" fill="#a8a8a8" stroke="#222" stroke-width="1.0"/>
<circle cx="429.80" cy="355.00" r="1.70" fill="#a8a8a8" stroke="#222" stroke-width="1.0"/>
<circle cx="424.10" cy="361.10" r="1.70" fill="#a8a8a8" stroke="#222" stroke-width="1.0"/>
<circle cx="429.80" cy="363.00" r="1.70" fill="#a8a8a8" stroke="#222" stroke-width="1.0"/>
<circle cx="426.80" cy="369.10" r="1.70" fill="#a8a8a8" stroke="#222" stroke-width="1.0"/>
<circle cx="432.40" cy="369.70" r="1.70" fill="#a8a8a8" stroke="#222" stroke-width="1.0"/>
<circle cx="429.80" cy="372.90" r="1.70" fill="#a8a8a8" stroke="#222" stroke-width="1.0"/>
<polygon points="448.50,311.95 450.35,313.80 448.50,315.65 446.65,313.80" fill="#000"/>
<polygon points="442.60,347.55 444.45,349.40 442.60,351.25 440.75,349.40" fill="#000"/>
<polygon points="448.50,348.65 450.35,350.50 448.50,352.35 446.65,350.50" fill="#000"/>
<polygon points="448.50,357.25 450.35,359.10 448.50,360.95 446.65,359.10" fill="#000"/>
<polygon points="445.60,361.15 447.45,363.00 445.60,364.85 443.75,363.00" fill="#000"/>
<polygon points="451.40,361.65 453.25,363.50 451.40,365.35 449.55,363.50" fill="#000"/>
<polygon points="442.60,363.15 444.45,365.00 442.60,366.85 440.75,365.00" fill="#000"/>
<polygon points="448.50,364.65 450.35,366.50 448.50,368.35 446.65,366.50" fill="#000"/>
<polygon points="445.60,372.55 447.45,374.40 445.60,376.25 443.75,374.40" fill="#000"/>
<polygon points="448.50,375.75 450.35,377.60 448.50,379.45 446.65,377.60" fill="#000"/>
<polygon points="451.20,375.25 453.05,377.10 451.20,378.95 449.35,377.10" fill="#000"/>
<polygon points="463.80,359.40 465.90,361.50 463.80,363.60 461.70,361.50" fill="#777" stroke="#000" stroke-width="1.3"/>
<polygon points="469.40,362.10 471.50,364.20 469.40,366.30 467.30,364.20" fill="#777" stroke="#000" stroke-width="1.3"/>
<polygon points="466.50,363.70 468.60,365.80 466.50,367.90 464.40,365.80" fill="#777" stroke="#000" stroke-width="1.3"/>
<polygon points="460.80,370.30 462.90,372.40 460.80,374.50 458.70,372.40" fill="#777" stroke="#000" stroke-width="1.3"/>
<polygon points="466.50,372.30 468.60,374.40 466.50,376.50 464.40,374.40" fill="#777" stroke="#000" stroke-width="1.3"/>
<polygon points="463.50,375.90 465.60,378.00 463.50,380.10 461.40,378.00" fill="#777" stroke="#000" stroke-width="1.3"/>
<polygon points="466.50,375.30 468.60,377.40 466.50,379.50 464.40,377.40" fill="#777" stroke="#000" stroke-width="1.3"/>
<polygon points="469.40,376.50 471.50,378.60 469.40,380.70 467.30,378.60" fill="#777" stroke="#000" stroke-width="1.3"/>
<polygon points="466.50,377.70 468.60,379.80 466.50,381.90 464.40,379.80" fill="#777" stroke="#000" stroke-width="1.3"/>
<polygon points="464.70,377.10 466.80,379.20 464.70,381.30 462.60,379.20" fill="#777" stroke="#000" stroke-width="1.3"/>
<polygon points="468.20,377.40 470.30,379.50 468.20,381.60 466.10,379.50" fill="#777" stroke="#000" stroke-width="1.3"/>
<polygon points="483.70,376.80 485.70,378.80 483.70,380.80 481.70,378.80" fill="#fff" stroke="#111" stroke-width="0.85"/>
<polygon points="485.30,375.40 487.30,377.40 485.30,379.40 483.30,377.40" fill="#fff" stroke="#111" stroke-width="0.85"/>
<polygon points="487.40,377.10 489.40,379.10 487.40,381.10 485.40,379.10" fill="#fff" stroke="#111" stroke-width="0.85"/>
<polygon points="485.30,378.00 487.30,380.00 485.30,382.00 483.30,380.00" fill="#fff" stroke="#111" stroke-width="0.85"/>
<line x1="404.10" y1="376.40" x2="417.40" y2="376.40" stroke="#000" stroke-width="0.9" />
<line x1="422.90" y1="353.20" x2="435.90" y2="353.20" stroke="#000" stroke-width="0.9" />
<line x1="442.00" y1="363.20" x2="454.70" y2="363.20" stroke="#000" stroke-width="0.9" />
<line x1="460.60" y1="375.90" x2="473.50" y2="375.90" stroke="#000" stroke-width="0.9" />
<line x1="479.20" y1="378.50" x2="491.80" y2="378.50" stroke="#000" stroke-width="0.9" />
<path d="M409.60,290.80 q0,-1.6 1.6,-1.6 L418.60,289.20 q1.2,0 1.2,-1.6 q0,1.6 1.2,1.6 L428.20,289.20 q1.4,0 1.4,1.5 q0,-1.5 1.4,-1.5 L457.00,289.20 q1.2,0 1.2,-1.6 q0,1.6 1.2,1.6 L484.80,289.20 q1.6,0 1.6,1.6" fill="none" stroke="#a6a6a6" stroke-width="0.8"/>
<text x="419.80" y="288.40" font-size="6.5" text-anchor="middle" fill="#000" font-weight="bold" >**</text>
<text x="458.00" y="288.40" font-size="6.5" text-anchor="middle" fill="#000" font-weight="bold" >***</text>
<polygon points="407.30,396.70 432.30,402.10 432.30,406.10 407.30,406.10" fill="#000"/>
<text x="409.20" y="404.95" font-size="6.9" text-anchor="start" fill="#fff" font-weight="bold" >age</text>
<polygon points="445.00,396.70 486.30,405.90 486.30,406.30 445.00,406.30" fill="#000"/>
<text x="446.00" y="405.10" font-size="6.5" text-anchor="start" fill="#fff" font-weight="bold" >CD4</text>
<text x="417.90" y="419.20" font-size="7.6" text-anchor="middle" fill="#000" font-weight="bold" >HIV-</text>
<text x="462.80" y="419.20" font-size="7.6" text-anchor="middle" fill="#000" font-weight="bold" >HIV+</text>
</svg>
</body></html>
